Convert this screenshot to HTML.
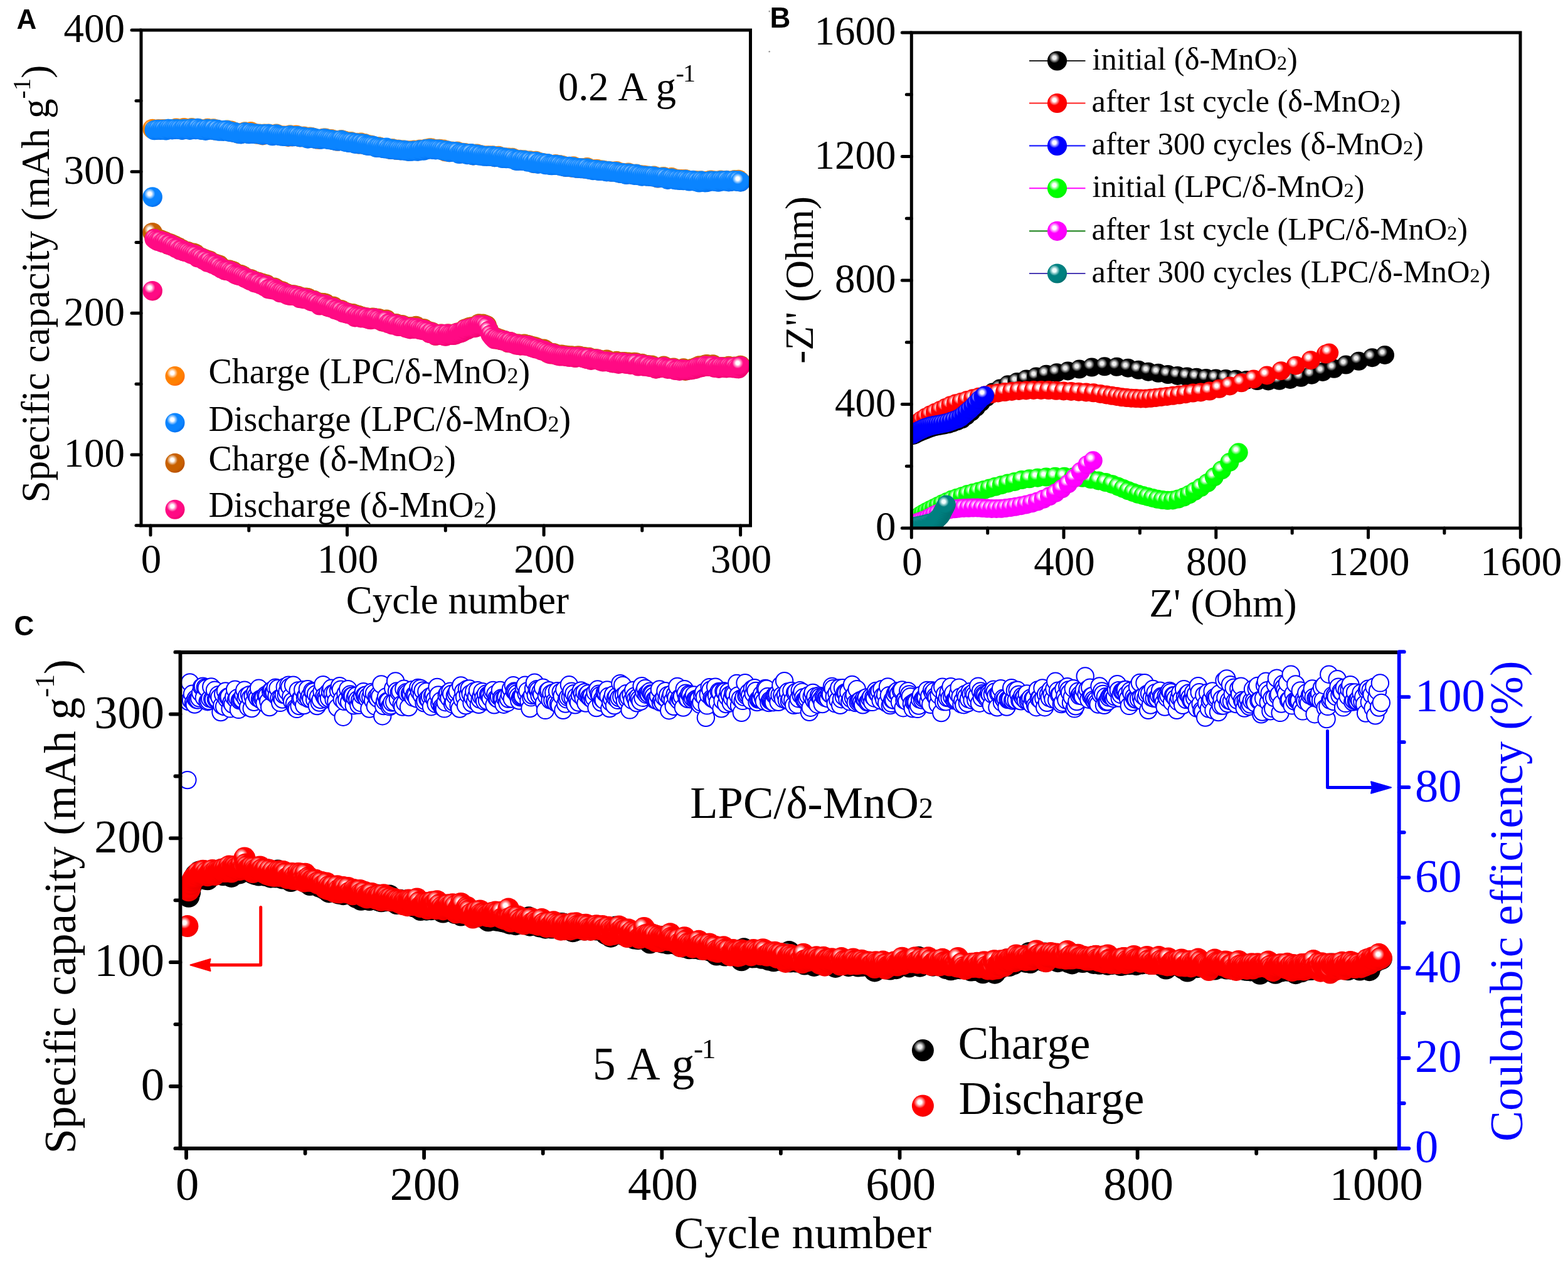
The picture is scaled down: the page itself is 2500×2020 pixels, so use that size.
<!DOCTYPE html><html><head><meta charset="utf-8"><title>Figure</title><style>html,body{margin:0;padding:0;background:#fff;}svg{display:block;}</style></head><body><svg width="2500" height="2020" viewBox="0 0 2500 2020" font-family="'Liberation Serif', 'Times New Roman', serif" style="font-kerning:none"><rect width="2500" height="2020" fill="#fff"/><defs><radialGradient id="gOr" cx="0.36" cy="0.34" r="0.68" fx="0.36" fy="0.34"><stop offset="0" stop-color="#ffffff"/><stop offset="0.13" stop-color="#ffffff"/><stop offset="0.41" stop-color="#ff8000"/><stop offset="0.80" stop-color="#ff8000"/><stop offset="1" stop-color="#ff6a00"/></radialGradient><radialGradient id="gBl" cx="0.36" cy="0.34" r="0.68" fx="0.36" fy="0.34"><stop offset="0" stop-color="#ffffff"/><stop offset="0.13" stop-color="#ffffff"/><stop offset="0.41" stop-color="#0a84ff"/><stop offset="0.80" stop-color="#0a84ff"/><stop offset="1" stop-color="#0070f0"/></radialGradient><radialGradient id="gBr" cx="0.36" cy="0.34" r="0.68" fx="0.36" fy="0.34"><stop offset="0" stop-color="#ffffff"/><stop offset="0.13" stop-color="#ffffff"/><stop offset="0.41" stop-color="#c86000"/><stop offset="0.80" stop-color="#c86000"/><stop offset="1" stop-color="#b85000"/></radialGradient><radialGradient id="gPk" cx="0.36" cy="0.34" r="0.68" fx="0.36" fy="0.34"><stop offset="0" stop-color="#ffffff"/><stop offset="0.13" stop-color="#ffffff"/><stop offset="0.41" stop-color="#ff0a84"/><stop offset="0.80" stop-color="#ff0a84"/><stop offset="1" stop-color="#f00070"/></radialGradient><radialGradient id="gK" cx="0.36" cy="0.34" r="0.68" fx="0.36" fy="0.34"><stop offset="0" stop-color="#f0f0f0"/><stop offset="0.13" stop-color="#f0f0f0"/><stop offset="0.41" stop-color="#000000"/><stop offset="0.80" stop-color="#000000"/><stop offset="1" stop-color="#000000"/></radialGradient><radialGradient id="gR" cx="0.36" cy="0.34" r="0.68" fx="0.36" fy="0.34"><stop offset="0" stop-color="#ffffff"/><stop offset="0.13" stop-color="#ffffff"/><stop offset="0.41" stop-color="#ff0000"/><stop offset="0.80" stop-color="#ff0000"/><stop offset="1" stop-color="#f00000"/></radialGradient><radialGradient id="gB" cx="0.36" cy="0.34" r="0.68" fx="0.36" fy="0.34"><stop offset="0" stop-color="#ffffff"/><stop offset="0.13" stop-color="#ffffff"/><stop offset="0.41" stop-color="#0000ff"/><stop offset="0.80" stop-color="#0000ff"/><stop offset="1" stop-color="#0000f0"/></radialGradient><radialGradient id="gG" cx="0.36" cy="0.34" r="0.68" fx="0.36" fy="0.34"><stop offset="0" stop-color="#ffffff"/><stop offset="0.13" stop-color="#ffffff"/><stop offset="0.41" stop-color="#00ff00"/><stop offset="0.80" stop-color="#00ff00"/><stop offset="1" stop-color="#00f000"/></radialGradient><radialGradient id="gM" cx="0.36" cy="0.34" r="0.68" fx="0.36" fy="0.34"><stop offset="0" stop-color="#ffffff"/><stop offset="0.13" stop-color="#ffffff"/><stop offset="0.41" stop-color="#ff00ff"/><stop offset="0.80" stop-color="#ff00ff"/><stop offset="1" stop-color="#f000f0"/></radialGradient><radialGradient id="gT" cx="0.36" cy="0.34" r="0.68" fx="0.36" fy="0.34"><stop offset="0" stop-color="#f0ffff"/><stop offset="0.13" stop-color="#f0ffff"/><stop offset="0.41" stop-color="#008080"/><stop offset="0.80" stop-color="#008080"/><stop offset="1" stop-color="#007070"/></radialGradient><clipPath id="clipA"><rect x="225" y="48" width="971.5" height="790"/></clipPath><clipPath id="clipB"><rect x="1453.3" y="52" width="970.7" height="790"/></clipPath><clipPath id="clipC"><rect x="287.5" y="1040" width="1943.1999999999998" height="791"/></clipPath></defs><g clip-path="url(#clipA)"><g fill="url(#gOr)"><circle cx="243.1" cy="205.5" r="15.8"/><circle cx="246.3" cy="207" r="15.8"/><circle cx="249.4" cy="207.1" r="15.8"/><circle cx="252.5" cy="205.8" r="15.8"/><circle cx="255.7" cy="206.3" r="15.8"/><circle cx="258.8" cy="206.1" r="15.8"/><circle cx="261.9" cy="205.9" r="15.8"/><circle cx="265.1" cy="206.6" r="15.8"/><circle cx="268.2" cy="205.5" r="15.8"/><circle cx="271.4" cy="205.8" r="15.8"/><circle cx="274.5" cy="206.3" r="15.8"/><circle cx="277.6" cy="206.2" r="15.8"/><circle cx="280.8" cy="204.4" r="15.8"/><circle cx="283.9" cy="205.5" r="15.8"/><circle cx="287" cy="206" r="15.8"/><circle cx="290.2" cy="206.8" r="15.8"/><circle cx="293.3" cy="203.7" r="15.8"/><circle cx="296.4" cy="205.6" r="15.8"/><circle cx="299.6" cy="205.6" r="15.8"/><circle cx="302.7" cy="206.5" r="15.8"/><circle cx="305.8" cy="203.9" r="15.8"/><circle cx="309" cy="205.3" r="15.8"/><circle cx="312.1" cy="206.2" r="15.8"/><circle cx="315.2" cy="204.5" r="15.8"/><circle cx="318.4" cy="205.4" r="15.8"/><circle cx="321.5" cy="206.8" r="15.8"/><circle cx="324.7" cy="206.7" r="15.8"/><circle cx="327.8" cy="207" r="15.8"/><circle cx="330.9" cy="204.6" r="15.8"/><circle cx="334.1" cy="206.2" r="15.8"/><circle cx="337.2" cy="206.6" r="15.8"/><circle cx="340.3" cy="205" r="15.8"/><circle cx="343.5" cy="207.8" r="15.8"/><circle cx="346.6" cy="206.6" r="15.8"/><circle cx="349.7" cy="208.3" r="15.8"/><circle cx="352.9" cy="208.4" r="15.8"/><circle cx="356" cy="208.5" r="15.8"/><circle cx="359.1" cy="207.7" r="15.8"/><circle cx="362.3" cy="207.4" r="15.8"/><circle cx="365.4" cy="209.6" r="15.8"/><circle cx="368.5" cy="208.3" r="15.8"/><circle cx="371.7" cy="210.9" r="15.8"/><circle cx="374.8" cy="210.9" r="15.8"/><circle cx="378" cy="212" r="15.8"/><circle cx="381.1" cy="213.3" r="15.8"/><circle cx="384.2" cy="213.4" r="15.8"/><circle cx="387.4" cy="211.4" r="15.8"/><circle cx="390.5" cy="210" r="15.8"/><circle cx="393.6" cy="211.4" r="15.8"/><circle cx="396.8" cy="213.2" r="15.8"/><circle cx="399.9" cy="209.9" r="15.8"/><circle cx="403" cy="211.7" r="15.8"/><circle cx="406.2" cy="212.9" r="15.8"/><circle cx="409.3" cy="213.9" r="15.8"/><circle cx="412.4" cy="213.3" r="15.8"/><circle cx="415.6" cy="213.5" r="15.8"/><circle cx="418.7" cy="215.6" r="15.8"/><circle cx="421.8" cy="213.2" r="15.8"/><circle cx="425" cy="214" r="15.8"/><circle cx="428.1" cy="213.4" r="15.8"/><circle cx="431.3" cy="214.2" r="15.8"/><circle cx="434.4" cy="215.4" r="15.8"/><circle cx="437.5" cy="214.9" r="15.8"/><circle cx="440.7" cy="213.4" r="15.8"/><circle cx="443.8" cy="215.6" r="15.8"/><circle cx="446.9" cy="216.3" r="15.8"/><circle cx="450.1" cy="216.4" r="15.8"/><circle cx="453.2" cy="216.3" r="15.8"/><circle cx="456.3" cy="216.5" r="15.8"/><circle cx="459.5" cy="218.2" r="15.8"/><circle cx="462.6" cy="215" r="15.8"/><circle cx="465.7" cy="217.7" r="15.8"/><circle cx="468.9" cy="216.9" r="15.8"/><circle cx="472" cy="215.3" r="15.8"/><circle cx="475.1" cy="216.4" r="15.8"/><circle cx="478.3" cy="218.5" r="15.8"/><circle cx="481.4" cy="218.5" r="15.8"/><circle cx="484.6" cy="217.3" r="15.8"/><circle cx="487.7" cy="218.8" r="15.8"/><circle cx="490.8" cy="220.1" r="15.8"/><circle cx="494" cy="218.3" r="15.8"/><circle cx="497.1" cy="218.9" r="15.8"/><circle cx="500.2" cy="219.7" r="15.8"/><circle cx="503.4" cy="221.3" r="15.8"/><circle cx="506.5" cy="222" r="15.8"/><circle cx="509.6" cy="221.9" r="15.8"/><circle cx="512.8" cy="221.3" r="15.8"/><circle cx="515.9" cy="220.4" r="15.8"/><circle cx="519" cy="220.3" r="15.8"/><circle cx="522.2" cy="221.5" r="15.8"/><circle cx="525.3" cy="221.8" r="15.8"/><circle cx="528.4" cy="221.8" r="15.8"/><circle cx="531.6" cy="223.4" r="15.8"/><circle cx="534.7" cy="223.6" r="15.8"/><circle cx="537.9" cy="225" r="15.8"/><circle cx="541" cy="223.7" r="15.8"/><circle cx="544.1" cy="222.7" r="15.8"/><circle cx="547.3" cy="223.9" r="15.8"/><circle cx="550.4" cy="224.8" r="15.8"/><circle cx="553.5" cy="225.5" r="15.8"/><circle cx="556.7" cy="226.8" r="15.8"/><circle cx="559.8" cy="225.9" r="15.8"/><circle cx="562.9" cy="227.3" r="15.8"/><circle cx="566.1" cy="228.4" r="15.8"/><circle cx="569.2" cy="227.6" r="15.8"/><circle cx="572.3" cy="229.8" r="15.8"/><circle cx="575.5" cy="227.4" r="15.8"/><circle cx="578.6" cy="229.9" r="15.8"/><circle cx="581.7" cy="228.7" r="15.8"/><circle cx="584.9" cy="231.5" r="15.8"/><circle cx="588" cy="231.3" r="15.8"/><circle cx="591.2" cy="231.3" r="15.8"/><circle cx="594.3" cy="232.2" r="15.8"/><circle cx="597.4" cy="233.5" r="15.8"/><circle cx="600.6" cy="234.8" r="15.8"/><circle cx="603.7" cy="233.7" r="15.8"/><circle cx="606.8" cy="234.9" r="15.8"/><circle cx="610" cy="235.8" r="15.8"/><circle cx="613.1" cy="235.9" r="15.8"/><circle cx="616.2" cy="235.9" r="15.8"/><circle cx="619.4" cy="237.2" r="15.8"/><circle cx="622.5" cy="238.3" r="15.8"/><circle cx="625.6" cy="236.8" r="15.8"/><circle cx="628.8" cy="238.2" r="15.8"/><circle cx="631.9" cy="239" r="15.8"/><circle cx="635" cy="238.3" r="15.8"/><circle cx="638.2" cy="239.5" r="15.8"/><circle cx="641.3" cy="239.2" r="15.8"/><circle cx="644.5" cy="239.3" r="15.8"/><circle cx="647.6" cy="239.9" r="15.8"/><circle cx="650.7" cy="240.9" r="15.8"/><circle cx="653.9" cy="240" r="15.8"/><circle cx="657" cy="240.5" r="15.8"/><circle cx="660.1" cy="239.4" r="15.8"/><circle cx="663.3" cy="240" r="15.8"/><circle cx="666.4" cy="240.7" r="15.8"/><circle cx="669.5" cy="238.2" r="15.8"/><circle cx="672.7" cy="239" r="15.8"/><circle cx="675.8" cy="239.2" r="15.8"/><circle cx="678.9" cy="237.3" r="15.8"/><circle cx="682.1" cy="237.9" r="15.8"/><circle cx="685.2" cy="236.1" r="15.8"/><circle cx="688.3" cy="236.2" r="15.8"/><circle cx="691.5" cy="238.1" r="15.8"/><circle cx="694.6" cy="237.8" r="15.8"/><circle cx="697.8" cy="237.9" r="15.8"/><circle cx="700.9" cy="237.6" r="15.8"/><circle cx="704" cy="238.6" r="15.8"/><circle cx="707.2" cy="238.4" r="15.8"/><circle cx="710.3" cy="241.8" r="15.8"/><circle cx="713.4" cy="240.2" r="15.8"/><circle cx="716.6" cy="242.4" r="15.8"/><circle cx="719.7" cy="241.4" r="15.8"/><circle cx="722.8" cy="241.6" r="15.8"/><circle cx="726" cy="241.8" r="15.8"/><circle cx="729.1" cy="241.3" r="15.8"/><circle cx="732.2" cy="243.9" r="15.8"/><circle cx="735.4" cy="244.7" r="15.8"/><circle cx="738.5" cy="243.6" r="15.8"/><circle cx="741.6" cy="243.8" r="15.8"/><circle cx="744.8" cy="245.8" r="15.8"/><circle cx="747.9" cy="245.2" r="15.8"/><circle cx="751.1" cy="244.8" r="15.8"/><circle cx="754.2" cy="247.6" r="15.8"/><circle cx="757.3" cy="245.5" r="15.8"/><circle cx="760.5" cy="245.2" r="15.8"/><circle cx="763.6" cy="247.3" r="15.8"/><circle cx="766.7" cy="247" r="15.8"/><circle cx="769.9" cy="248.1" r="15.8"/><circle cx="773" cy="248.4" r="15.8"/><circle cx="776.1" cy="248.3" r="15.8"/><circle cx="779.3" cy="248" r="15.8"/><circle cx="782.4" cy="248.8" r="15.8"/><circle cx="785.5" cy="248" r="15.8"/><circle cx="788.7" cy="250.4" r="15.8"/><circle cx="791.8" cy="249.2" r="15.8"/><circle cx="794.9" cy="248.6" r="15.8"/><circle cx="798.1" cy="250.4" r="15.8"/><circle cx="801.2" cy="251.5" r="15.8"/><circle cx="804.4" cy="251.1" r="15.8"/><circle cx="807.5" cy="251.5" r="15.8"/><circle cx="810.6" cy="251.4" r="15.8"/><circle cx="813.8" cy="252.4" r="15.8"/><circle cx="816.9" cy="251.6" r="15.8"/><circle cx="820" cy="253.6" r="15.8"/><circle cx="823.2" cy="255.8" r="15.8"/><circle cx="826.3" cy="255.9" r="15.8"/><circle cx="829.4" cy="254.5" r="15.8"/><circle cx="832.6" cy="255.8" r="15.8"/><circle cx="835.7" cy="255" r="15.8"/><circle cx="838.8" cy="256.5" r="15.8"/><circle cx="842" cy="257.1" r="15.8"/><circle cx="845.1" cy="256" r="15.8"/><circle cx="848.2" cy="258.6" r="15.8"/><circle cx="851.4" cy="260.4" r="15.8"/><circle cx="854.5" cy="256.6" r="15.8"/><circle cx="857.7" cy="260" r="15.8"/><circle cx="860.8" cy="259" r="15.8"/><circle cx="863.9" cy="259.7" r="15.8"/><circle cx="867.1" cy="260" r="15.8"/><circle cx="870.2" cy="261.3" r="15.8"/><circle cx="873.3" cy="261.1" r="15.8"/><circle cx="876.5" cy="262.4" r="15.8"/><circle cx="879.6" cy="263.1" r="15.8"/><circle cx="882.7" cy="263" r="15.8"/><circle cx="885.9" cy="261.8" r="15.8"/><circle cx="889" cy="263.4" r="15.8"/><circle cx="892.1" cy="262.7" r="15.8"/><circle cx="895.3" cy="263.6" r="15.8"/><circle cx="898.4" cy="264.3" r="15.8"/><circle cx="901.5" cy="266" r="15.8"/><circle cx="904.7" cy="266.1" r="15.8"/><circle cx="907.8" cy="265.6" r="15.8"/><circle cx="911" cy="266.9" r="15.8"/><circle cx="914.1" cy="265.1" r="15.8"/><circle cx="917.2" cy="267.2" r="15.8"/><circle cx="920.4" cy="268" r="15.8"/><circle cx="923.5" cy="268" r="15.8"/><circle cx="926.6" cy="268.4" r="15.8"/><circle cx="929.8" cy="267.8" r="15.8"/><circle cx="932.9" cy="269" r="15.8"/><circle cx="936" cy="266.8" r="15.8"/><circle cx="939.2" cy="269.8" r="15.8"/><circle cx="942.3" cy="270.2" r="15.8"/><circle cx="945.4" cy="270.7" r="15.8"/><circle cx="948.6" cy="269.7" r="15.8"/><circle cx="951.7" cy="269.6" r="15.8"/><circle cx="954.8" cy="271.9" r="15.8"/><circle cx="958" cy="271.4" r="15.8"/><circle cx="961.1" cy="271.2" r="15.8"/><circle cx="964.3" cy="272.1" r="15.8"/><circle cx="967.4" cy="272.9" r="15.8"/><circle cx="970.5" cy="272.6" r="15.8"/><circle cx="973.7" cy="273.8" r="15.8"/><circle cx="976.8" cy="273.3" r="15.8"/><circle cx="979.9" cy="273.7" r="15.8"/><circle cx="983.1" cy="272.9" r="15.8"/><circle cx="986.2" cy="275.1" r="15.8"/><circle cx="989.3" cy="276.1" r="15.8"/><circle cx="992.5" cy="275.5" r="15.8"/><circle cx="995.6" cy="276.3" r="15.8"/><circle cx="998.7" cy="277.8" r="15.8"/><circle cx="1001.9" cy="275.2" r="15.8"/><circle cx="1005" cy="277.6" r="15.8"/><circle cx="1008.1" cy="277.6" r="15.8"/><circle cx="1011.3" cy="278.5" r="15.8"/><circle cx="1014.4" cy="277.2" r="15.8"/><circle cx="1017.6" cy="278.9" r="15.8"/><circle cx="1020.7" cy="278.7" r="15.8"/><circle cx="1023.8" cy="280.4" r="15.8"/><circle cx="1027" cy="279.3" r="15.8"/><circle cx="1030.1" cy="280.5" r="15.8"/><circle cx="1033.2" cy="280.4" r="15.8"/><circle cx="1036.4" cy="280.7" r="15.8"/><circle cx="1039.5" cy="281.5" r="15.8"/><circle cx="1042.6" cy="280.3" r="15.8"/><circle cx="1045.8" cy="281.9" r="15.8"/><circle cx="1048.9" cy="283.8" r="15.8"/><circle cx="1052" cy="283" r="15.8"/><circle cx="1055.2" cy="282.3" r="15.8"/><circle cx="1058.3" cy="281.9" r="15.8"/><circle cx="1061.4" cy="283.4" r="15.8"/><circle cx="1064.6" cy="285.6" r="15.8"/><circle cx="1067.7" cy="284.9" r="15.8"/><circle cx="1070.9" cy="282.7" r="15.8"/><circle cx="1074" cy="285.1" r="15.8"/><circle cx="1077.1" cy="285.7" r="15.8"/><circle cx="1080.3" cy="285.5" r="15.8"/><circle cx="1083.4" cy="286.4" r="15.8"/><circle cx="1086.5" cy="285.9" r="15.8"/><circle cx="1089.7" cy="287.1" r="15.8"/><circle cx="1092.8" cy="285.7" r="15.8"/><circle cx="1095.9" cy="287" r="15.8"/><circle cx="1099.1" cy="287.6" r="15.8"/><circle cx="1102.2" cy="287.7" r="15.8"/><circle cx="1105.3" cy="287.6" r="15.8"/><circle cx="1108.5" cy="288.4" r="15.8"/><circle cx="1111.6" cy="288.1" r="15.8"/><circle cx="1114.7" cy="290.2" r="15.8"/><circle cx="1117.9" cy="288.1" r="15.8"/><circle cx="1121" cy="289" r="15.8"/><circle cx="1124.2" cy="290.3" r="15.8"/><circle cx="1127.3" cy="288.9" r="15.8"/><circle cx="1130.4" cy="288.1" r="15.8"/><circle cx="1133.6" cy="287.2" r="15.8"/><circle cx="1136.7" cy="288.2" r="15.8"/><circle cx="1139.8" cy="288.2" r="15.8"/><circle cx="1143" cy="288.6" r="15.8"/><circle cx="1146.1" cy="288.5" r="15.8"/><circle cx="1149.2" cy="287.3" r="15.8"/><circle cx="1152.4" cy="287.9" r="15.8"/><circle cx="1155.5" cy="287.8" r="15.8"/><circle cx="1158.6" cy="287.5" r="15.8"/><circle cx="1161.8" cy="288.8" r="15.8"/><circle cx="1164.9" cy="289.1" r="15.8"/><circle cx="1168" cy="288.1" r="15.8"/><circle cx="1171.2" cy="286.9" r="15.8"/><circle cx="1174.3" cy="288.5" r="15.8"/><circle cx="1177.5" cy="286.6" r="15.8"/><circle cx="1180.6" cy="289.5" r="15.8"/></g><g fill="url(#gBl)"><circle cx="243.1" cy="314.1" r="15.8"/><circle cx="246.3" cy="207.5" r="15.8"/><circle cx="249.4" cy="206.9" r="15.8"/><circle cx="252.5" cy="206.5" r="15.8"/><circle cx="255.7" cy="207.3" r="15.8"/><circle cx="258.8" cy="206.6" r="15.8"/><circle cx="261.9" cy="206.5" r="15.8"/><circle cx="265.1" cy="207.7" r="15.8"/><circle cx="268.2" cy="205.5" r="15.8"/><circle cx="271.4" cy="205.7" r="15.8"/><circle cx="274.5" cy="206.6" r="15.8"/><circle cx="277.6" cy="206.2" r="15.8"/><circle cx="280.8" cy="205.6" r="15.8"/><circle cx="283.9" cy="206.2" r="15.8"/><circle cx="287" cy="206.2" r="15.8"/><circle cx="290.2" cy="207.1" r="15.8"/><circle cx="293.3" cy="205.5" r="15.8"/><circle cx="296.4" cy="205.9" r="15.8"/><circle cx="299.6" cy="205.8" r="15.8"/><circle cx="302.7" cy="207.2" r="15.8"/><circle cx="305.8" cy="204.7" r="15.8"/><circle cx="309" cy="205.9" r="15.8"/><circle cx="312.1" cy="206.4" r="15.8"/><circle cx="315.2" cy="204.5" r="15.8"/><circle cx="318.4" cy="206.2" r="15.8"/><circle cx="321.5" cy="207.3" r="15.8"/><circle cx="324.7" cy="206.6" r="15.8"/><circle cx="327.8" cy="208.1" r="15.8"/><circle cx="330.9" cy="205.5" r="15.8"/><circle cx="334.1" cy="206.7" r="15.8"/><circle cx="337.2" cy="207" r="15.8"/><circle cx="340.3" cy="205.7" r="15.8"/><circle cx="343.5" cy="208" r="15.8"/><circle cx="346.6" cy="206.6" r="15.8"/><circle cx="349.7" cy="209" r="15.8"/><circle cx="352.9" cy="208.3" r="15.8"/><circle cx="356" cy="209.2" r="15.8"/><circle cx="359.1" cy="207.6" r="15.8"/><circle cx="362.3" cy="207.9" r="15.8"/><circle cx="365.4" cy="210.1" r="15.8"/><circle cx="368.5" cy="209.7" r="15.8"/><circle cx="371.7" cy="211" r="15.8"/><circle cx="374.8" cy="210.8" r="15.8"/><circle cx="378" cy="212.3" r="15.8"/><circle cx="381.1" cy="213.4" r="15.8"/><circle cx="384.2" cy="213.7" r="15.8"/><circle cx="387.4" cy="212.2" r="15.8"/><circle cx="390.5" cy="210.9" r="15.8"/><circle cx="393.6" cy="212.7" r="15.8"/><circle cx="396.8" cy="213.5" r="15.8"/><circle cx="399.9" cy="211.7" r="15.8"/><circle cx="403" cy="213.1" r="15.8"/><circle cx="406.2" cy="213.4" r="15.8"/><circle cx="409.3" cy="213.4" r="15.8"/><circle cx="412.4" cy="213.9" r="15.8"/><circle cx="415.6" cy="214.1" r="15.8"/><circle cx="418.7" cy="215.2" r="15.8"/><circle cx="421.8" cy="213.8" r="15.8"/><circle cx="425" cy="214.4" r="15.8"/><circle cx="428.1" cy="213.6" r="15.8"/><circle cx="431.3" cy="215" r="15.8"/><circle cx="434.4" cy="216.5" r="15.8"/><circle cx="437.5" cy="215.2" r="15.8"/><circle cx="440.7" cy="214" r="15.8"/><circle cx="443.8" cy="215.9" r="15.8"/><circle cx="446.9" cy="216.5" r="15.8"/><circle cx="450.1" cy="217" r="15.8"/><circle cx="453.2" cy="217.1" r="15.8"/><circle cx="456.3" cy="216.8" r="15.8"/><circle cx="459.5" cy="217.7" r="15.8"/><circle cx="462.6" cy="215.9" r="15.8"/><circle cx="465.7" cy="217.5" r="15.8"/><circle cx="468.9" cy="217.5" r="15.8"/><circle cx="472" cy="216.7" r="15.8"/><circle cx="475.1" cy="216.9" r="15.8"/><circle cx="478.3" cy="218.6" r="15.8"/><circle cx="481.4" cy="218.4" r="15.8"/><circle cx="484.6" cy="218.4" r="15.8"/><circle cx="487.7" cy="219.4" r="15.8"/><circle cx="490.8" cy="220.9" r="15.8"/><circle cx="494" cy="219.3" r="15.8"/><circle cx="497.1" cy="219.4" r="15.8"/><circle cx="500.2" cy="220.1" r="15.8"/><circle cx="503.4" cy="221.4" r="15.8"/><circle cx="506.5" cy="221.2" r="15.8"/><circle cx="509.6" cy="221.8" r="15.8"/><circle cx="512.8" cy="221.9" r="15.8"/><circle cx="515.9" cy="220.9" r="15.8"/><circle cx="519" cy="221" r="15.8"/><circle cx="522.2" cy="222" r="15.8"/><circle cx="525.3" cy="222.5" r="15.8"/><circle cx="528.4" cy="222.7" r="15.8"/><circle cx="531.6" cy="223.6" r="15.8"/><circle cx="534.7" cy="224" r="15.8"/><circle cx="537.9" cy="224.8" r="15.8"/><circle cx="541" cy="224.7" r="15.8"/><circle cx="544.1" cy="223.2" r="15.8"/><circle cx="547.3" cy="224.7" r="15.8"/><circle cx="550.4" cy="226.1" r="15.8"/><circle cx="553.5" cy="226.6" r="15.8"/><circle cx="556.7" cy="227.3" r="15.8"/><circle cx="559.8" cy="226.8" r="15.8"/><circle cx="562.9" cy="227.3" r="15.8"/><circle cx="566.1" cy="229.2" r="15.8"/><circle cx="569.2" cy="228.2" r="15.8"/><circle cx="572.3" cy="229.6" r="15.8"/><circle cx="575.5" cy="228.6" r="15.8"/><circle cx="578.6" cy="230.2" r="15.8"/><circle cx="581.7" cy="229.5" r="15.8"/><circle cx="584.9" cy="231.8" r="15.8"/><circle cx="588" cy="232.3" r="15.8"/><circle cx="591.2" cy="232.4" r="15.8"/><circle cx="594.3" cy="232.4" r="15.8"/><circle cx="597.4" cy="233.3" r="15.8"/><circle cx="600.6" cy="235.3" r="15.8"/><circle cx="603.7" cy="234.7" r="15.8"/><circle cx="606.8" cy="235.3" r="15.8"/><circle cx="610" cy="236.1" r="15.8"/><circle cx="613.1" cy="236.7" r="15.8"/><circle cx="616.2" cy="235.3" r="15.8"/><circle cx="619.4" cy="237.4" r="15.8"/><circle cx="622.5" cy="238.2" r="15.8"/><circle cx="625.6" cy="237.5" r="15.8"/><circle cx="628.8" cy="238.4" r="15.8"/><circle cx="631.9" cy="239" r="15.8"/><circle cx="635" cy="238.7" r="15.8"/><circle cx="638.2" cy="239.4" r="15.8"/><circle cx="641.3" cy="239.8" r="15.8"/><circle cx="644.5" cy="239.6" r="15.8"/><circle cx="647.6" cy="240.3" r="15.8"/><circle cx="650.7" cy="241.2" r="15.8"/><circle cx="653.9" cy="241" r="15.8"/><circle cx="657" cy="241" r="15.8"/><circle cx="660.1" cy="240.2" r="15.8"/><circle cx="663.3" cy="240.8" r="15.8"/><circle cx="666.4" cy="240.9" r="15.8"/><circle cx="669.5" cy="239" r="15.8"/><circle cx="672.7" cy="239.7" r="15.8"/><circle cx="675.8" cy="239.9" r="15.8"/><circle cx="678.9" cy="237.7" r="15.8"/><circle cx="682.1" cy="238.2" r="15.8"/><circle cx="685.2" cy="237" r="15.8"/><circle cx="688.3" cy="237.8" r="15.8"/><circle cx="691.5" cy="238.3" r="15.8"/><circle cx="694.6" cy="238.6" r="15.8"/><circle cx="697.8" cy="238.3" r="15.8"/><circle cx="700.9" cy="238.5" r="15.8"/><circle cx="704" cy="239.4" r="15.8"/><circle cx="707.2" cy="239.5" r="15.8"/><circle cx="710.3" cy="241.1" r="15.8"/><circle cx="713.4" cy="240.4" r="15.8"/><circle cx="716.6" cy="242.5" r="15.8"/><circle cx="719.7" cy="241.9" r="15.8"/><circle cx="722.8" cy="241.8" r="15.8"/><circle cx="726" cy="242.1" r="15.8"/><circle cx="729.1" cy="242.2" r="15.8"/><circle cx="732.2" cy="245.3" r="15.8"/><circle cx="735.4" cy="243.9" r="15.8"/><circle cx="738.5" cy="244" r="15.8"/><circle cx="741.6" cy="244.5" r="15.8"/><circle cx="744.8" cy="246.4" r="15.8"/><circle cx="747.9" cy="245.6" r="15.8"/><circle cx="751.1" cy="244.8" r="15.8"/><circle cx="754.2" cy="247.7" r="15.8"/><circle cx="757.3" cy="246.4" r="15.8"/><circle cx="760.5" cy="246.2" r="15.8"/><circle cx="763.6" cy="247.9" r="15.8"/><circle cx="766.7" cy="247.2" r="15.8"/><circle cx="769.9" cy="248.8" r="15.8"/><circle cx="773" cy="248.8" r="15.8"/><circle cx="776.1" cy="249.1" r="15.8"/><circle cx="779.3" cy="248.6" r="15.8"/><circle cx="782.4" cy="249.1" r="15.8"/><circle cx="785.5" cy="248.6" r="15.8"/><circle cx="788.7" cy="250.4" r="15.8"/><circle cx="791.8" cy="250.2" r="15.8"/><circle cx="794.9" cy="249.7" r="15.8"/><circle cx="798.1" cy="250.4" r="15.8"/><circle cx="801.2" cy="252.3" r="15.8"/><circle cx="804.4" cy="251.2" r="15.8"/><circle cx="807.5" cy="252.5" r="15.8"/><circle cx="810.6" cy="252.3" r="15.8"/><circle cx="813.8" cy="252.9" r="15.8"/><circle cx="816.9" cy="252.6" r="15.8"/><circle cx="820" cy="254" r="15.8"/><circle cx="823.2" cy="256.1" r="15.8"/><circle cx="826.3" cy="256.2" r="15.8"/><circle cx="829.4" cy="255" r="15.8"/><circle cx="832.6" cy="256.3" r="15.8"/><circle cx="835.7" cy="255.6" r="15.8"/><circle cx="838.8" cy="256.8" r="15.8"/><circle cx="842" cy="258" r="15.8"/><circle cx="845.1" cy="257" r="15.8"/><circle cx="848.2" cy="258.9" r="15.8"/><circle cx="851.4" cy="260.3" r="15.8"/><circle cx="854.5" cy="257.5" r="15.8"/><circle cx="857.7" cy="261.1" r="15.8"/><circle cx="860.8" cy="259.5" r="15.8"/><circle cx="863.9" cy="259.6" r="15.8"/><circle cx="867.1" cy="260.7" r="15.8"/><circle cx="870.2" cy="262.5" r="15.8"/><circle cx="873.3" cy="260.8" r="15.8"/><circle cx="876.5" cy="263.2" r="15.8"/><circle cx="879.6" cy="263.5" r="15.8"/><circle cx="882.7" cy="263.1" r="15.8"/><circle cx="885.9" cy="262.6" r="15.8"/><circle cx="889" cy="263.4" r="15.8"/><circle cx="892.1" cy="263.4" r="15.8"/><circle cx="895.3" cy="264.8" r="15.8"/><circle cx="898.4" cy="265" r="15.8"/><circle cx="901.5" cy="266.1" r="15.8"/><circle cx="904.7" cy="265.9" r="15.8"/><circle cx="907.8" cy="265.6" r="15.8"/><circle cx="911" cy="266.7" r="15.8"/><circle cx="914.1" cy="266.4" r="15.8"/><circle cx="917.2" cy="267.6" r="15.8"/><circle cx="920.4" cy="268" r="15.8"/><circle cx="923.5" cy="267.9" r="15.8"/><circle cx="926.6" cy="268.5" r="15.8"/><circle cx="929.8" cy="268.3" r="15.8"/><circle cx="932.9" cy="269" r="15.8"/><circle cx="936" cy="268.1" r="15.8"/><circle cx="939.2" cy="270" r="15.8"/><circle cx="942.3" cy="270.4" r="15.8"/><circle cx="945.4" cy="271.4" r="15.8"/><circle cx="948.6" cy="270.9" r="15.8"/><circle cx="951.7" cy="270.8" r="15.8"/><circle cx="954.8" cy="272.3" r="15.8"/><circle cx="958" cy="272.1" r="15.8"/><circle cx="961.1" cy="271.9" r="15.8"/><circle cx="964.3" cy="272.9" r="15.8"/><circle cx="967.4" cy="273.6" r="15.8"/><circle cx="970.5" cy="272.8" r="15.8"/><circle cx="973.7" cy="273.8" r="15.8"/><circle cx="976.8" cy="274" r="15.8"/><circle cx="979.9" cy="273.7" r="15.8"/><circle cx="983.1" cy="274.1" r="15.8"/><circle cx="986.2" cy="275.7" r="15.8"/><circle cx="989.3" cy="276.2" r="15.8"/><circle cx="992.5" cy="275.9" r="15.8"/><circle cx="995.6" cy="276.6" r="15.8"/><circle cx="998.7" cy="278.3" r="15.8"/><circle cx="1001.9" cy="276.2" r="15.8"/><circle cx="1005" cy="277.6" r="15.8"/><circle cx="1008.1" cy="277.4" r="15.8"/><circle cx="1011.3" cy="279.2" r="15.8"/><circle cx="1014.4" cy="277.6" r="15.8"/><circle cx="1017.6" cy="279.5" r="15.8"/><circle cx="1020.7" cy="279.5" r="15.8"/><circle cx="1023.8" cy="280.9" r="15.8"/><circle cx="1027" cy="280.3" r="15.8"/><circle cx="1030.1" cy="280.7" r="15.8"/><circle cx="1033.2" cy="281" r="15.8"/><circle cx="1036.4" cy="280.9" r="15.8"/><circle cx="1039.5" cy="281.5" r="15.8"/><circle cx="1042.6" cy="281.2" r="15.8"/><circle cx="1045.8" cy="282.7" r="15.8"/><circle cx="1048.9" cy="283.5" r="15.8"/><circle cx="1052" cy="283.1" r="15.8"/><circle cx="1055.2" cy="283" r="15.8"/><circle cx="1058.3" cy="282.9" r="15.8"/><circle cx="1061.4" cy="283.7" r="15.8"/><circle cx="1064.6" cy="286.1" r="15.8"/><circle cx="1067.7" cy="284.9" r="15.8"/><circle cx="1070.9" cy="284.4" r="15.8"/><circle cx="1074" cy="285.9" r="15.8"/><circle cx="1077.1" cy="286.7" r="15.8"/><circle cx="1080.3" cy="286.4" r="15.8"/><circle cx="1083.4" cy="287.3" r="15.8"/><circle cx="1086.5" cy="286.7" r="15.8"/><circle cx="1089.7" cy="287.5" r="15.8"/><circle cx="1092.8" cy="286.6" r="15.8"/><circle cx="1095.9" cy="287.6" r="15.8"/><circle cx="1099.1" cy="288.8" r="15.8"/><circle cx="1102.2" cy="287.9" r="15.8"/><circle cx="1105.3" cy="287.9" r="15.8"/><circle cx="1108.5" cy="289.2" r="15.8"/><circle cx="1111.6" cy="289.2" r="15.8"/><circle cx="1114.7" cy="290.8" r="15.8"/><circle cx="1117.9" cy="288.3" r="15.8"/><circle cx="1121" cy="289.5" r="15.8"/><circle cx="1124.2" cy="290.7" r="15.8"/><circle cx="1127.3" cy="290.4" r="15.8"/><circle cx="1130.4" cy="289.1" r="15.8"/><circle cx="1133.6" cy="288.3" r="15.8"/><circle cx="1136.7" cy="288.9" r="15.8"/><circle cx="1139.8" cy="288.5" r="15.8"/><circle cx="1143" cy="289.7" r="15.8"/><circle cx="1146.1" cy="289.9" r="15.8"/><circle cx="1149.2" cy="288.1" r="15.8"/><circle cx="1152.4" cy="288.4" r="15.8"/><circle cx="1155.5" cy="288.8" r="15.8"/><circle cx="1158.6" cy="287.9" r="15.8"/><circle cx="1161.8" cy="289.7" r="15.8"/><circle cx="1164.9" cy="289.3" r="15.8"/><circle cx="1168" cy="288.3" r="15.8"/><circle cx="1171.2" cy="287.7" r="15.8"/><circle cx="1174.3" cy="289.2" r="15.8"/><circle cx="1177.5" cy="288" r="15.8"/><circle cx="1180.6" cy="289.9" r="15.8"/></g><g fill="url(#gBr)"><circle cx="243.1" cy="370.7" r="15.8"/><circle cx="246.3" cy="380.1" r="15.8"/><circle cx="249.4" cy="382.4" r="15.8"/><circle cx="252.5" cy="383.4" r="15.8"/><circle cx="255.7" cy="381.8" r="15.8"/><circle cx="258.8" cy="384.9" r="15.8"/><circle cx="261.9" cy="384.2" r="15.8"/><circle cx="265.1" cy="386" r="15.8"/><circle cx="268.2" cy="390.1" r="15.8"/><circle cx="271.4" cy="388.1" r="15.8"/><circle cx="274.5" cy="389.9" r="15.8"/><circle cx="277.6" cy="390.7" r="15.8"/><circle cx="280.8" cy="394.4" r="15.8"/><circle cx="283.9" cy="393.7" r="15.8"/><circle cx="287" cy="397.9" r="15.8"/><circle cx="290.2" cy="397.3" r="15.8"/><circle cx="293.3" cy="400.6" r="15.8"/><circle cx="296.4" cy="400.7" r="15.8"/><circle cx="299.6" cy="400.8" r="15.8"/><circle cx="302.7" cy="402.8" r="15.8"/><circle cx="305.8" cy="403.6" r="15.8"/><circle cx="309" cy="403.2" r="15.8"/><circle cx="312.1" cy="404.8" r="15.8"/><circle cx="315.2" cy="409.7" r="15.8"/><circle cx="318.4" cy="409.5" r="15.8"/><circle cx="321.5" cy="410.7" r="15.8"/><circle cx="324.7" cy="413.9" r="15.8"/><circle cx="327.8" cy="413.4" r="15.8"/><circle cx="330.9" cy="416.4" r="15.8"/><circle cx="334.1" cy="415.3" r="15.8"/><circle cx="337.2" cy="418.5" r="15.8"/><circle cx="340.3" cy="419.9" r="15.8"/><circle cx="343.5" cy="420.3" r="15.8"/><circle cx="346.6" cy="423.6" r="15.8"/><circle cx="349.7" cy="422.4" r="15.8"/><circle cx="352.9" cy="426" r="15.8"/><circle cx="356" cy="428.4" r="15.8"/><circle cx="359.1" cy="430.6" r="15.8"/><circle cx="362.3" cy="430.5" r="15.8"/><circle cx="365.4" cy="430" r="15.8"/><circle cx="368.5" cy="431.2" r="15.8"/><circle cx="371.7" cy="432" r="15.8"/><circle cx="374.8" cy="435.2" r="15.8"/><circle cx="378" cy="436.3" r="15.8"/><circle cx="381.1" cy="437.2" r="15.8"/><circle cx="384.2" cy="437.8" r="15.8"/><circle cx="387.4" cy="439.6" r="15.8"/><circle cx="390.5" cy="441.8" r="15.8"/><circle cx="393.6" cy="444" r="15.8"/><circle cx="396.8" cy="445" r="15.8"/><circle cx="399.9" cy="444.8" r="15.8"/><circle cx="403" cy="446.6" r="15.8"/><circle cx="406.2" cy="449.9" r="15.8"/><circle cx="409.3" cy="449" r="15.8"/><circle cx="412.4" cy="449.5" r="15.8"/><circle cx="415.6" cy="452.7" r="15.8"/><circle cx="418.7" cy="451.6" r="15.8"/><circle cx="421.8" cy="454.9" r="15.8"/><circle cx="425" cy="453.3" r="15.8"/><circle cx="428.1" cy="459.8" r="15.8"/><circle cx="431.3" cy="458.9" r="15.8"/><circle cx="434.4" cy="460.1" r="15.8"/><circle cx="437.5" cy="458.3" r="15.8"/><circle cx="440.7" cy="460.4" r="15.8"/><circle cx="443.8" cy="462.2" r="15.8"/><circle cx="446.9" cy="465.1" r="15.8"/><circle cx="450.1" cy="464.1" r="15.8"/><circle cx="453.2" cy="466.8" r="15.8"/><circle cx="456.3" cy="467.2" r="15.8"/><circle cx="459.5" cy="468.9" r="15.8"/><circle cx="462.6" cy="470.2" r="15.8"/><circle cx="465.7" cy="469.9" r="15.8"/><circle cx="468.9" cy="470" r="15.8"/><circle cx="472" cy="471.9" r="15.8"/><circle cx="475.1" cy="471.6" r="15.8"/><circle cx="478.3" cy="474.1" r="15.8"/><circle cx="481.4" cy="474" r="15.8"/><circle cx="484.6" cy="475.2" r="15.8"/><circle cx="487.7" cy="474.2" r="15.8"/><circle cx="490.8" cy="474.8" r="15.8"/><circle cx="494" cy="477.1" r="15.8"/><circle cx="497.1" cy="479.5" r="15.8"/><circle cx="500.2" cy="478.6" r="15.8"/><circle cx="503.4" cy="480.4" r="15.8"/><circle cx="506.5" cy="481.7" r="15.8"/><circle cx="509.6" cy="483.7" r="15.8"/><circle cx="512.8" cy="482.6" r="15.8"/><circle cx="515.9" cy="482.8" r="15.8"/><circle cx="519" cy="483.5" r="15.8"/><circle cx="522.2" cy="488.8" r="15.8"/><circle cx="525.3" cy="488.7" r="15.8"/><circle cx="528.4" cy="489.8" r="15.8"/><circle cx="531.6" cy="488.2" r="15.8"/><circle cx="534.7" cy="491" r="15.8"/><circle cx="537.9" cy="492.9" r="15.8"/><circle cx="541" cy="494.3" r="15.8"/><circle cx="544.1" cy="493.8" r="15.8"/><circle cx="547.3" cy="497.7" r="15.8"/><circle cx="550.4" cy="497.1" r="15.8"/><circle cx="553.5" cy="499.3" r="15.8"/><circle cx="556.7" cy="499" r="15.8"/><circle cx="559.8" cy="500.8" r="15.8"/><circle cx="562.9" cy="499.7" r="15.8"/><circle cx="566.1" cy="504.4" r="15.8"/><circle cx="569.2" cy="502" r="15.8"/><circle cx="572.3" cy="502.7" r="15.8"/><circle cx="575.5" cy="505.9" r="15.8"/><circle cx="578.6" cy="504.9" r="15.8"/><circle cx="581.7" cy="505.7" r="15.8"/><circle cx="584.9" cy="506.1" r="15.8"/><circle cx="588" cy="508.2" r="15.8"/><circle cx="591.2" cy="508.4" r="15.8"/><circle cx="594.3" cy="506.4" r="15.8"/><circle cx="597.4" cy="506.9" r="15.8"/><circle cx="600.6" cy="508.2" r="15.8"/><circle cx="603.7" cy="507.6" r="15.8"/><circle cx="606.8" cy="508.9" r="15.8"/><circle cx="610" cy="512.9" r="15.8"/><circle cx="613.1" cy="509.8" r="15.8"/><circle cx="616.2" cy="509.2" r="15.8"/><circle cx="619.4" cy="515.2" r="15.8"/><circle cx="622.5" cy="515.2" r="15.8"/><circle cx="625.6" cy="516.2" r="15.8"/><circle cx="628.8" cy="516" r="15.8"/><circle cx="631.9" cy="515.8" r="15.8"/><circle cx="635" cy="518.4" r="15.8"/><circle cx="638.2" cy="519.4" r="15.8"/><circle cx="641.3" cy="517.9" r="15.8"/><circle cx="644.5" cy="519.6" r="15.8"/><circle cx="647.6" cy="521" r="15.8"/><circle cx="650.7" cy="520.8" r="15.8"/><circle cx="653.9" cy="522" r="15.8"/><circle cx="657" cy="520.7" r="15.8"/><circle cx="660.1" cy="523" r="15.8"/><circle cx="663.3" cy="519.6" r="15.8"/><circle cx="666.4" cy="521.7" r="15.8"/><circle cx="669.5" cy="523.9" r="15.8"/><circle cx="672.7" cy="525.7" r="15.8"/><circle cx="675.8" cy="523.8" r="15.8"/><circle cx="678.9" cy="526.6" r="15.8"/><circle cx="682.1" cy="527.3" r="15.8"/><circle cx="685.2" cy="531.1" r="15.8"/><circle cx="688.3" cy="529" r="15.8"/><circle cx="691.5" cy="531.4" r="15.8"/><circle cx="694.6" cy="535" r="15.8"/><circle cx="697.8" cy="533.6" r="15.8"/><circle cx="700.9" cy="532.6" r="15.8"/><circle cx="704" cy="532.2" r="15.8"/><circle cx="707.2" cy="534.9" r="15.8"/><circle cx="710.3" cy="535.5" r="15.8"/><circle cx="713.4" cy="532.2" r="15.8"/><circle cx="716.6" cy="532.3" r="15.8"/><circle cx="719.7" cy="533.5" r="15.8"/><circle cx="722.8" cy="532.5" r="15.8"/><circle cx="726" cy="531.7" r="15.8"/><circle cx="729.1" cy="530.3" r="15.8"/><circle cx="732.2" cy="530.1" r="15.8"/><circle cx="735.4" cy="529.4" r="15.8"/><circle cx="738.5" cy="528.3" r="15.8"/><circle cx="741.6" cy="524" r="15.8"/><circle cx="744.8" cy="524.8" r="15.8"/><circle cx="747.9" cy="521.8" r="15.8"/><circle cx="751.1" cy="521" r="15.8"/><circle cx="754.2" cy="521.9" r="15.8"/><circle cx="757.3" cy="521.6" r="15.8"/><circle cx="760.5" cy="518.5" r="15.8"/><circle cx="763.6" cy="516" r="15.8"/><circle cx="766.7" cy="519.4" r="15.8"/><circle cx="769.9" cy="516.4" r="15.8"/><circle cx="773" cy="517.6" r="15.8"/><circle cx="776.1" cy="518.7" r="15.8"/><circle cx="779.3" cy="526.4" r="15.8"/><circle cx="782.4" cy="532.9" r="15.8"/><circle cx="785.5" cy="536.4" r="15.8"/><circle cx="788.7" cy="538.7" r="15.8"/><circle cx="791.8" cy="538.4" r="15.8"/><circle cx="794.9" cy="541.7" r="15.8"/><circle cx="798.1" cy="540.5" r="15.8"/><circle cx="801.2" cy="542.8" r="15.8"/><circle cx="804.4" cy="542.5" r="15.8"/><circle cx="807.5" cy="544.3" r="15.8"/><circle cx="810.6" cy="546.5" r="15.8"/><circle cx="813.8" cy="544.8" r="15.8"/><circle cx="816.9" cy="546.9" r="15.8"/><circle cx="820" cy="547.6" r="15.8"/><circle cx="823.2" cy="548.7" r="15.8"/><circle cx="826.3" cy="548" r="15.8"/><circle cx="829.4" cy="550.6" r="15.8"/><circle cx="832.6" cy="549.6" r="15.8"/><circle cx="835.7" cy="548.3" r="15.8"/><circle cx="838.8" cy="549.4" r="15.8"/><circle cx="842" cy="549.7" r="15.8"/><circle cx="845.1" cy="550.7" r="15.8"/><circle cx="848.2" cy="552" r="15.8"/><circle cx="851.4" cy="552.4" r="15.8"/><circle cx="854.5" cy="553.3" r="15.8"/><circle cx="857.7" cy="554.7" r="15.8"/><circle cx="860.8" cy="556.4" r="15.8"/><circle cx="863.9" cy="556.5" r="15.8"/><circle cx="867.1" cy="556.3" r="15.8"/><circle cx="870.2" cy="558.2" r="15.8"/><circle cx="873.3" cy="562.9" r="15.8"/><circle cx="876.5" cy="563.4" r="15.8"/><circle cx="879.6" cy="564.8" r="15.8"/><circle cx="882.7" cy="562.7" r="15.8"/><circle cx="885.9" cy="564.3" r="15.8"/><circle cx="889" cy="565.5" r="15.8"/><circle cx="892.1" cy="566.6" r="15.8"/><circle cx="895.3" cy="565.3" r="15.8"/><circle cx="898.4" cy="566.5" r="15.8"/><circle cx="901.5" cy="566.2" r="15.8"/><circle cx="904.7" cy="566.9" r="15.8"/><circle cx="907.8" cy="567.7" r="15.8"/><circle cx="911" cy="567.1" r="15.8"/><circle cx="914.1" cy="567.7" r="15.8"/><circle cx="917.2" cy="569.9" r="15.8"/><circle cx="920.4" cy="567.2" r="15.8"/><circle cx="923.5" cy="567.4" r="15.8"/><circle cx="926.6" cy="568.3" r="15.8"/><circle cx="929.8" cy="568.9" r="15.8"/><circle cx="932.9" cy="569.1" r="15.8"/><circle cx="936" cy="572.1" r="15.8"/><circle cx="939.2" cy="569.6" r="15.8"/><circle cx="942.3" cy="573.2" r="15.8"/><circle cx="945.4" cy="572.3" r="15.8"/><circle cx="948.6" cy="571.7" r="15.8"/><circle cx="951.7" cy="572" r="15.8"/><circle cx="954.8" cy="573.1" r="15.8"/><circle cx="958" cy="574.1" r="15.8"/><circle cx="961.1" cy="575.1" r="15.8"/><circle cx="964.3" cy="575" r="15.8"/><circle cx="967.4" cy="573.2" r="15.8"/><circle cx="970.5" cy="576" r="15.8"/><circle cx="973.7" cy="576.2" r="15.8"/><circle cx="976.8" cy="578.3" r="15.8"/><circle cx="979.9" cy="577" r="15.8"/><circle cx="983.1" cy="575.6" r="15.8"/><circle cx="986.2" cy="577.9" r="15.8"/><circle cx="989.3" cy="578.5" r="15.8"/><circle cx="992.5" cy="576.8" r="15.8"/><circle cx="995.6" cy="576.8" r="15.8"/><circle cx="998.7" cy="579.1" r="15.8"/><circle cx="1001.9" cy="577.4" r="15.8"/><circle cx="1005" cy="580.7" r="15.8"/><circle cx="1008.1" cy="578.4" r="15.8"/><circle cx="1011.3" cy="577.5" r="15.8"/><circle cx="1014.4" cy="578" r="15.8"/><circle cx="1017.6" cy="583.1" r="15.8"/><circle cx="1020.7" cy="580.7" r="15.8"/><circle cx="1023.8" cy="579.6" r="15.8"/><circle cx="1027" cy="582.6" r="15.8"/><circle cx="1030.1" cy="582.5" r="15.8"/><circle cx="1033.2" cy="581.8" r="15.8"/><circle cx="1036.4" cy="583.9" r="15.8"/><circle cx="1039.5" cy="582.4" r="15.8"/><circle cx="1042.6" cy="586" r="15.8"/><circle cx="1045.8" cy="587.7" r="15.8"/><circle cx="1048.9" cy="585.9" r="15.8"/><circle cx="1052" cy="586" r="15.8"/><circle cx="1055.2" cy="586" r="15.8"/><circle cx="1058.3" cy="583.4" r="15.8"/><circle cx="1061.4" cy="585.5" r="15.8"/><circle cx="1064.6" cy="587.1" r="15.8"/><circle cx="1067.7" cy="586.9" r="15.8"/><circle cx="1070.9" cy="586.8" r="15.8"/><circle cx="1074" cy="586.2" r="15.8"/><circle cx="1077.1" cy="588.8" r="15.8"/><circle cx="1080.3" cy="589.5" r="15.8"/><circle cx="1083.4" cy="589.5" r="15.8"/><circle cx="1086.5" cy="588.6" r="15.8"/><circle cx="1089.7" cy="587.1" r="15.8"/><circle cx="1092.8" cy="591.2" r="15.8"/><circle cx="1095.9" cy="589.3" r="15.8"/><circle cx="1099.1" cy="589.4" r="15.8"/><circle cx="1102.2" cy="587.9" r="15.8"/><circle cx="1105.3" cy="588.6" r="15.8"/><circle cx="1108.5" cy="585.7" r="15.8"/><circle cx="1111.6" cy="585.9" r="15.8"/><circle cx="1114.7" cy="583.1" r="15.8"/><circle cx="1117.9" cy="584.1" r="15.8"/><circle cx="1121" cy="583.5" r="15.8"/><circle cx="1124.2" cy="581.4" r="15.8"/><circle cx="1127.3" cy="580.9" r="15.8"/><circle cx="1130.4" cy="582.2" r="15.8"/><circle cx="1133.6" cy="584.4" r="15.8"/><circle cx="1136.7" cy="581.1" r="15.8"/><circle cx="1139.8" cy="584.9" r="15.8"/><circle cx="1143" cy="586" r="15.8"/><circle cx="1146.1" cy="585.4" r="15.8"/><circle cx="1149.2" cy="584.8" r="15.8"/><circle cx="1152.4" cy="584.7" r="15.8"/><circle cx="1155.5" cy="585" r="15.8"/><circle cx="1158.6" cy="585.9" r="15.8"/><circle cx="1161.8" cy="583.5" r="15.8"/><circle cx="1164.9" cy="585.8" r="15.8"/><circle cx="1168" cy="585.3" r="15.8"/><circle cx="1171.2" cy="584.2" r="15.8"/><circle cx="1174.3" cy="586.3" r="15.8"/><circle cx="1177.5" cy="584.9" r="15.8"/><circle cx="1180.6" cy="582.5" r="15.8"/></g><g fill="url(#gPk)"><circle cx="243.1" cy="463.7" r="15.8"/><circle cx="246.3" cy="380.9" r="15.8"/><circle cx="249.4" cy="383.1" r="15.8"/><circle cx="252.5" cy="384.5" r="15.8"/><circle cx="255.7" cy="383.7" r="15.8"/><circle cx="258.8" cy="386.8" r="15.8"/><circle cx="261.9" cy="385.9" r="15.8"/><circle cx="265.1" cy="387" r="15.8"/><circle cx="268.2" cy="390.1" r="15.8"/><circle cx="271.4" cy="389.5" r="15.8"/><circle cx="274.5" cy="392.4" r="15.8"/><circle cx="277.6" cy="392.8" r="15.8"/><circle cx="280.8" cy="395.5" r="15.8"/><circle cx="283.9" cy="395.6" r="15.8"/><circle cx="287" cy="398.8" r="15.8"/><circle cx="290.2" cy="398.5" r="15.8"/><circle cx="293.3" cy="400.8" r="15.8"/><circle cx="296.4" cy="401.7" r="15.8"/><circle cx="299.6" cy="402.2" r="15.8"/><circle cx="302.7" cy="403.9" r="15.8"/><circle cx="305.8" cy="405.4" r="15.8"/><circle cx="309" cy="405.9" r="15.8"/><circle cx="312.1" cy="407.1" r="15.8"/><circle cx="315.2" cy="410.7" r="15.8"/><circle cx="318.4" cy="410.1" r="15.8"/><circle cx="321.5" cy="411.5" r="15.8"/><circle cx="324.7" cy="414.4" r="15.8"/><circle cx="327.8" cy="414.7" r="15.8"/><circle cx="330.9" cy="418" r="15.8"/><circle cx="334.1" cy="416.7" r="15.8"/><circle cx="337.2" cy="419.9" r="15.8"/><circle cx="340.3" cy="421.3" r="15.8"/><circle cx="343.5" cy="421.5" r="15.8"/><circle cx="346.6" cy="424.3" r="15.8"/><circle cx="349.7" cy="425" r="15.8"/><circle cx="352.9" cy="428.1" r="15.8"/><circle cx="356" cy="429" r="15.8"/><circle cx="359.1" cy="431.1" r="15.8"/><circle cx="362.3" cy="431.2" r="15.8"/><circle cx="365.4" cy="431.3" r="15.8"/><circle cx="368.5" cy="433.4" r="15.8"/><circle cx="371.7" cy="434" r="15.8"/><circle cx="374.8" cy="437.2" r="15.8"/><circle cx="378" cy="438.4" r="15.8"/><circle cx="381.1" cy="439.3" r="15.8"/><circle cx="384.2" cy="439.6" r="15.8"/><circle cx="387.4" cy="441.2" r="15.8"/><circle cx="390.5" cy="443" r="15.8"/><circle cx="393.6" cy="443.9" r="15.8"/><circle cx="396.8" cy="446.2" r="15.8"/><circle cx="399.9" cy="447.5" r="15.8"/><circle cx="403" cy="447.4" r="15.8"/><circle cx="406.2" cy="450.6" r="15.8"/><circle cx="409.3" cy="451.1" r="15.8"/><circle cx="412.4" cy="450.8" r="15.8"/><circle cx="415.6" cy="453.6" r="15.8"/><circle cx="418.7" cy="454.1" r="15.8"/><circle cx="421.8" cy="456.6" r="15.8"/><circle cx="425" cy="455.1" r="15.8"/><circle cx="428.1" cy="460.6" r="15.8"/><circle cx="431.3" cy="460.6" r="15.8"/><circle cx="434.4" cy="461.7" r="15.8"/><circle cx="437.5" cy="460.1" r="15.8"/><circle cx="440.7" cy="462.6" r="15.8"/><circle cx="443.8" cy="464.3" r="15.8"/><circle cx="446.9" cy="466.5" r="15.8"/><circle cx="450.1" cy="465.9" r="15.8"/><circle cx="453.2" cy="467.2" r="15.8"/><circle cx="456.3" cy="469" r="15.8"/><circle cx="459.5" cy="470.7" r="15.8"/><circle cx="462.6" cy="471.1" r="15.8"/><circle cx="465.7" cy="470.6" r="15.8"/><circle cx="468.9" cy="471.2" r="15.8"/><circle cx="472" cy="472.2" r="15.8"/><circle cx="475.1" cy="473.1" r="15.8"/><circle cx="478.3" cy="475.5" r="15.8"/><circle cx="481.4" cy="474.5" r="15.8"/><circle cx="484.6" cy="476.5" r="15.8"/><circle cx="487.7" cy="476.3" r="15.8"/><circle cx="490.8" cy="476.9" r="15.8"/><circle cx="494" cy="479.1" r="15.8"/><circle cx="497.1" cy="480.6" r="15.8"/><circle cx="500.2" cy="479.6" r="15.8"/><circle cx="503.4" cy="481.3" r="15.8"/><circle cx="506.5" cy="483.4" r="15.8"/><circle cx="509.6" cy="486.8" r="15.8"/><circle cx="512.8" cy="484.9" r="15.8"/><circle cx="515.9" cy="485.3" r="15.8"/><circle cx="519" cy="485.9" r="15.8"/><circle cx="522.2" cy="488.8" r="15.8"/><circle cx="525.3" cy="489.8" r="15.8"/><circle cx="528.4" cy="490.7" r="15.8"/><circle cx="531.6" cy="490.5" r="15.8"/><circle cx="534.7" cy="493.6" r="15.8"/><circle cx="537.9" cy="493.6" r="15.8"/><circle cx="541" cy="495.5" r="15.8"/><circle cx="544.1" cy="495.5" r="15.8"/><circle cx="547.3" cy="498.6" r="15.8"/><circle cx="550.4" cy="497.9" r="15.8"/><circle cx="553.5" cy="500" r="15.8"/><circle cx="556.7" cy="500.9" r="15.8"/><circle cx="559.8" cy="501.3" r="15.8"/><circle cx="562.9" cy="501.8" r="15.8"/><circle cx="566.1" cy="505.7" r="15.8"/><circle cx="569.2" cy="503.9" r="15.8"/><circle cx="572.3" cy="505.1" r="15.8"/><circle cx="575.5" cy="506.7" r="15.8"/><circle cx="578.6" cy="505.5" r="15.8"/><circle cx="581.7" cy="507.2" r="15.8"/><circle cx="584.9" cy="506.5" r="15.8"/><circle cx="588" cy="508.9" r="15.8"/><circle cx="591.2" cy="509.5" r="15.8"/><circle cx="594.3" cy="507.8" r="15.8"/><circle cx="597.4" cy="507.2" r="15.8"/><circle cx="600.6" cy="509.1" r="15.8"/><circle cx="603.7" cy="509.3" r="15.8"/><circle cx="606.8" cy="511.2" r="15.8"/><circle cx="610" cy="512.6" r="15.8"/><circle cx="613.1" cy="512.1" r="15.8"/><circle cx="616.2" cy="511.2" r="15.8"/><circle cx="619.4" cy="515.6" r="15.8"/><circle cx="622.5" cy="515.2" r="15.8"/><circle cx="625.6" cy="517.8" r="15.8"/><circle cx="628.8" cy="516.9" r="15.8"/><circle cx="631.9" cy="517.2" r="15.8"/><circle cx="635" cy="520.3" r="15.8"/><circle cx="638.2" cy="520.3" r="15.8"/><circle cx="641.3" cy="519.2" r="15.8"/><circle cx="644.5" cy="521.2" r="15.8"/><circle cx="647.6" cy="522.9" r="15.8"/><circle cx="650.7" cy="523.4" r="15.8"/><circle cx="653.9" cy="524.6" r="15.8"/><circle cx="657" cy="522.1" r="15.8"/><circle cx="660.1" cy="524.1" r="15.8"/><circle cx="663.3" cy="522.7" r="15.8"/><circle cx="666.4" cy="523.4" r="15.8"/><circle cx="669.5" cy="525.5" r="15.8"/><circle cx="672.7" cy="526.1" r="15.8"/><circle cx="675.8" cy="525.6" r="15.8"/><circle cx="678.9" cy="527.3" r="15.8"/><circle cx="682.1" cy="528.2" r="15.8"/><circle cx="685.2" cy="531.3" r="15.8"/><circle cx="688.3" cy="529.8" r="15.8"/><circle cx="691.5" cy="532.7" r="15.8"/><circle cx="694.6" cy="535" r="15.8"/><circle cx="697.8" cy="534.2" r="15.8"/><circle cx="700.9" cy="533.8" r="15.8"/><circle cx="704" cy="532.5" r="15.8"/><circle cx="707.2" cy="535.1" r="15.8"/><circle cx="710.3" cy="536" r="15.8"/><circle cx="713.4" cy="532.3" r="15.8"/><circle cx="716.6" cy="534" r="15.8"/><circle cx="719.7" cy="534" r="15.8"/><circle cx="722.8" cy="534.3" r="15.8"/><circle cx="726" cy="533.7" r="15.8"/><circle cx="729.1" cy="530.6" r="15.8"/><circle cx="732.2" cy="531.4" r="15.8"/><circle cx="735.4" cy="530.3" r="15.8"/><circle cx="738.5" cy="528.7" r="15.8"/><circle cx="741.6" cy="525" r="15.8"/><circle cx="744.8" cy="525.9" r="15.8"/><circle cx="747.9" cy="523.6" r="15.8"/><circle cx="751.1" cy="523.1" r="15.8"/><circle cx="754.2" cy="522.2" r="15.8"/><circle cx="757.3" cy="522.5" r="15.8"/><circle cx="760.5" cy="520.1" r="15.8"/><circle cx="763.6" cy="518.1" r="15.8"/><circle cx="766.7" cy="518.7" r="15.8"/><circle cx="769.9" cy="518.7" r="15.8"/><circle cx="773" cy="518.7" r="15.8"/><circle cx="776.1" cy="521.1" r="15.8"/><circle cx="779.3" cy="527.3" r="15.8"/><circle cx="782.4" cy="533.5" r="15.8"/><circle cx="785.5" cy="537.7" r="15.8"/><circle cx="788.7" cy="540.8" r="15.8"/><circle cx="791.8" cy="539.7" r="15.8"/><circle cx="794.9" cy="541.1" r="15.8"/><circle cx="798.1" cy="542.2" r="15.8"/><circle cx="801.2" cy="542.8" r="15.8"/><circle cx="804.4" cy="542.9" r="15.8"/><circle cx="807.5" cy="544.6" r="15.8"/><circle cx="810.6" cy="546.3" r="15.8"/><circle cx="813.8" cy="545" r="15.8"/><circle cx="816.9" cy="547.4" r="15.8"/><circle cx="820" cy="548.4" r="15.8"/><circle cx="823.2" cy="549.9" r="15.8"/><circle cx="826.3" cy="549" r="15.8"/><circle cx="829.4" cy="550.7" r="15.8"/><circle cx="832.6" cy="550.7" r="15.8"/><circle cx="835.7" cy="550.4" r="15.8"/><circle cx="838.8" cy="551.4" r="15.8"/><circle cx="842" cy="551" r="15.8"/><circle cx="845.1" cy="552.4" r="15.8"/><circle cx="848.2" cy="553.9" r="15.8"/><circle cx="851.4" cy="554.7" r="15.8"/><circle cx="854.5" cy="555.8" r="15.8"/><circle cx="857.7" cy="555.7" r="15.8"/><circle cx="860.8" cy="557.4" r="15.8"/><circle cx="863.9" cy="558.9" r="15.8"/><circle cx="867.1" cy="558.8" r="15.8"/><circle cx="870.2" cy="560.6" r="15.8"/><circle cx="873.3" cy="562.3" r="15.8"/><circle cx="876.5" cy="564.4" r="15.8"/><circle cx="879.6" cy="563.4" r="15.8"/><circle cx="882.7" cy="564.5" r="15.8"/><circle cx="885.9" cy="565.6" r="15.8"/><circle cx="889" cy="566.8" r="15.8"/><circle cx="892.1" cy="567.7" r="15.8"/><circle cx="895.3" cy="567.6" r="15.8"/><circle cx="898.4" cy="567.5" r="15.8"/><circle cx="901.5" cy="568.2" r="15.8"/><circle cx="904.7" cy="568.6" r="15.8"/><circle cx="907.8" cy="569.2" r="15.8"/><circle cx="911" cy="568.7" r="15.8"/><circle cx="914.1" cy="569" r="15.8"/><circle cx="917.2" cy="570.3" r="15.8"/><circle cx="920.4" cy="569" r="15.8"/><circle cx="923.5" cy="569.2" r="15.8"/><circle cx="926.6" cy="569.4" r="15.8"/><circle cx="929.8" cy="570.7" r="15.8"/><circle cx="932.9" cy="571" r="15.8"/><circle cx="936" cy="572.3" r="15.8"/><circle cx="939.2" cy="570.8" r="15.8"/><circle cx="942.3" cy="574.1" r="15.8"/><circle cx="945.4" cy="572.8" r="15.8"/><circle cx="948.6" cy="573.2" r="15.8"/><circle cx="951.7" cy="572.6" r="15.8"/><circle cx="954.8" cy="574" r="15.8"/><circle cx="958" cy="575.6" r="15.8"/><circle cx="961.1" cy="576.6" r="15.8"/><circle cx="964.3" cy="576.5" r="15.8"/><circle cx="967.4" cy="576.3" r="15.8"/><circle cx="970.5" cy="576.9" r="15.8"/><circle cx="973.7" cy="577.6" r="15.8"/><circle cx="976.8" cy="578.6" r="15.8"/><circle cx="979.9" cy="578.6" r="15.8"/><circle cx="983.1" cy="577.7" r="15.8"/><circle cx="986.2" cy="580.1" r="15.8"/><circle cx="989.3" cy="579.2" r="15.8"/><circle cx="992.5" cy="577.8" r="15.8"/><circle cx="995.6" cy="579" r="15.8"/><circle cx="998.7" cy="580.3" r="15.8"/><circle cx="1001.9" cy="579.4" r="15.8"/><circle cx="1005" cy="581.1" r="15.8"/><circle cx="1008.1" cy="580.7" r="15.8"/><circle cx="1011.3" cy="579.6" r="15.8"/><circle cx="1014.4" cy="579.6" r="15.8"/><circle cx="1017.6" cy="583.8" r="15.8"/><circle cx="1020.7" cy="581.8" r="15.8"/><circle cx="1023.8" cy="581" r="15.8"/><circle cx="1027" cy="584" r="15.8"/><circle cx="1030.1" cy="583.7" r="15.8"/><circle cx="1033.2" cy="582.9" r="15.8"/><circle cx="1036.4" cy="585.3" r="15.8"/><circle cx="1039.5" cy="584.8" r="15.8"/><circle cx="1042.6" cy="585.7" r="15.8"/><circle cx="1045.8" cy="587.9" r="15.8"/><circle cx="1048.9" cy="585.9" r="15.8"/><circle cx="1052" cy="586.7" r="15.8"/><circle cx="1055.2" cy="585.9" r="15.8"/><circle cx="1058.3" cy="585" r="15.8"/><circle cx="1061.4" cy="586.8" r="15.8"/><circle cx="1064.6" cy="588.1" r="15.8"/><circle cx="1067.7" cy="587.6" r="15.8"/><circle cx="1070.9" cy="588.1" r="15.8"/><circle cx="1074" cy="587.5" r="15.8"/><circle cx="1077.1" cy="590.3" r="15.8"/><circle cx="1080.3" cy="590.2" r="15.8"/><circle cx="1083.4" cy="591.2" r="15.8"/><circle cx="1086.5" cy="588.7" r="15.8"/><circle cx="1089.7" cy="589.4" r="15.8"/><circle cx="1092.8" cy="590" r="15.8"/><circle cx="1095.9" cy="590.1" r="15.8"/><circle cx="1099.1" cy="589.7" r="15.8"/><circle cx="1102.2" cy="589.7" r="15.8"/><circle cx="1105.3" cy="588.7" r="15.8"/><circle cx="1108.5" cy="588.4" r="15.8"/><circle cx="1111.6" cy="585.9" r="15.8"/><circle cx="1114.7" cy="586" r="15.8"/><circle cx="1117.9" cy="585.7" r="15.8"/><circle cx="1121" cy="584.8" r="15.8"/><circle cx="1124.2" cy="583" r="15.8"/><circle cx="1127.3" cy="583.9" r="15.8"/><circle cx="1130.4" cy="584.2" r="15.8"/><circle cx="1133.6" cy="583.9" r="15.8"/><circle cx="1136.7" cy="583.2" r="15.8"/><circle cx="1139.8" cy="586.3" r="15.8"/><circle cx="1143" cy="586" r="15.8"/><circle cx="1146.1" cy="587.2" r="15.8"/><circle cx="1149.2" cy="585.1" r="15.8"/><circle cx="1152.4" cy="586.1" r="15.8"/><circle cx="1155.5" cy="586.5" r="15.8"/><circle cx="1158.6" cy="586.7" r="15.8"/><circle cx="1161.8" cy="585.3" r="15.8"/><circle cx="1164.9" cy="586.2" r="15.8"/><circle cx="1168" cy="586.7" r="15.8"/><circle cx="1171.2" cy="585" r="15.8"/><circle cx="1174.3" cy="587.4" r="15.8"/><circle cx="1177.5" cy="587.7" r="15.8"/><circle cx="1180.6" cy="583.8" r="15.8"/></g></g><g fill="url(#gOr)"><circle cx="279" cy="599.6" r="15.5"/></g><text x="332.5" y="610.6" font-size="56">Charge (LPC/δ-MnO<tspan font-size="36" dy="0.6">2</tspan><tspan dy="-0.6">)</tspan></text><g fill="url(#gBl)"><circle cx="279" cy="673.9" r="15.5"/></g><text x="332.4" y="687" font-size="56">Discharge (LPC/δ-MnO<tspan font-size="36" dy="0.6">2</tspan><tspan dy="-0.6">)</tspan></text><g fill="url(#gBr)"><circle cx="279" cy="738.2" r="15.5"/></g><text x="332.5" y="749.9" font-size="56">Charge (δ-MnO<tspan font-size="36" dy="0.6">2</tspan><tspan dy="-0.6">)</tspan></text><g fill="url(#gPk)"><circle cx="279" cy="812.2" r="15.5"/></g><text x="332.4" y="824.4" font-size="56">Discharge (δ-MnO<tspan font-size="36" dy="0.6">2</tspan><tspan dy="-0.6">)</tspan></text><rect x="225" y="48" width="971.5" height="790" fill="none" stroke="#000" stroke-width="5"/><path d="M225 48H210M225 273.7H210M225 499.3H210M225 725H210" stroke="#000" stroke-width="5" stroke-linecap="round" fill="none"/><path d="M225 160.8H217M225 386.5H217M225 612.2H217M225 837.8H217" stroke="#000" stroke-width="5" stroke-linecap="round" fill="none"/><path d="M240 838V853M553.5 838V853M867.1 838V853M1180.6 838V853" stroke="#000" stroke-width="5" stroke-linecap="round" fill="none"/><path d="M396.8 838V846M710.3 838V846M1023.8 838V846" stroke="#000" stroke-width="5" stroke-linecap="round" fill="none"/><text x="199.1" y="67.2" font-size="65" text-anchor="end">400</text><text x="199.1" y="292.9" font-size="65" text-anchor="end">300</text><text x="199.1" y="518.5" font-size="65" text-anchor="end">200</text><text x="199.1" y="744.2" font-size="65" text-anchor="end">100</text><text x="241" y="912.8" font-size="65" text-anchor="middle">0</text><text x="554.5" y="912.8" font-size="65" text-anchor="middle">100</text><text x="868.1" y="912.8" font-size="65" text-anchor="middle">200</text><text x="1181.6" y="912.8" font-size="65" text-anchor="middle">300</text><text x="729.3" y="978" font-size="63" text-anchor="middle">Cycle number</text><text transform="translate(77.5,452.6) rotate(-90)" font-size="63.2" text-anchor="middle">Specific capacity (mAh g<tspan font-size="39.2" dy="-29.7">-1</tspan><tspan dy="29.7">)</tspan></text><text x="889.9" y="160" font-size="64.5">0.2 <tspan dx="-1.2">A</tspan> <tspan dx="-2.5">g</tspan><tspan font-size="40" dy="-30.3" dx="-0.5">-</tspan><tspan font-size="40" dx="-1.8">1</tspan><tspan dy="30.3"></tspan></text><text x="26.4" y="45.6" font-size="44" font-family="'Liberation Sans', Arial, sans-serif" font-weight="bold">A</text><g clip-path="url(#clipB)"><g fill="url(#gK)"><circle cx="1456" cy="694" r="15"/><circle cx="1458.7" cy="692.7" r="15"/><circle cx="1461.6" cy="691.2" r="15"/><circle cx="1464.8" cy="689.6" r="15"/><circle cx="1468.4" cy="688.1" r="15"/><circle cx="1472.2" cy="686.6" r="15"/><circle cx="1476.2" cy="685.1" r="15"/><circle cx="1480.4" cy="683.5" r="15"/><circle cx="1484.8" cy="681.8" r="15"/><circle cx="1489.5" cy="680.5" r="15"/><circle cx="1494.6" cy="679.5" r="15"/><circle cx="1500.1" cy="678.5" r="15"/><circle cx="1506" cy="677.4" r="15"/><circle cx="1512.3" cy="676.1" r="15"/><circle cx="1518.9" cy="673.9" r="15"/><circle cx="1526.1" cy="671.4" r="15"/><circle cx="1533.7" cy="668.4" r="15"/><circle cx="1540.9" cy="662.8" r="15"/><circle cx="1548.6" cy="656.7" r="15"/><circle cx="1556.4" cy="649.5" r="15"/><circle cx="1564.2" cy="641.3" r="15"/><circle cx="1572.9" cy="633.3" r="15"/><circle cx="1582.7" cy="625.6" r="15"/><circle cx="1594.4" cy="619.5" r="15"/><circle cx="1607.1" cy="613.3" r="15"/><circle cx="1621.5" cy="608.9" r="15"/><circle cx="1636.4" cy="604.4" r="15"/><circle cx="1652.1" cy="600.6" r="15"/><circle cx="1668.2" cy="596.8" r="15"/><circle cx="1685" cy="594.2" r="15"/><circle cx="1702.6" cy="591.5" r="15"/><circle cx="1720.9" cy="588.6" r="15"/><circle cx="1740.7" cy="585.6" r="15"/><circle cx="1761.1" cy="584.3" r="15"/><circle cx="1780.6" cy="584.8" r="15"/><circle cx="1798.5" cy="586.7" r="15"/><circle cx="1815.2" cy="589.8" r="15"/><circle cx="1830.9" cy="592.7" r="15"/><circle cx="1846.8" cy="594.8" r="15"/><circle cx="1862.1" cy="597.1" r="15"/><circle cx="1877.5" cy="598.9" r="15"/><circle cx="1892.7" cy="600.6" r="15"/><circle cx="1907.8" cy="601.8" r="15"/><circle cx="1923" cy="603" r="15"/><circle cx="1938.5" cy="603.5" r="15"/><circle cx="1954.4" cy="604" r="15"/><circle cx="1970.6" cy="604.8" r="15"/><circle cx="1987.4" cy="606" r="15"/><circle cx="2004.6" cy="607.1" r="15"/><circle cx="2022.1" cy="607.4" r="15"/><circle cx="2039.5" cy="606.8" r="15"/><circle cx="2056.9" cy="604.9" r="15"/><circle cx="2074.2" cy="601.8" r="15"/><circle cx="2091.3" cy="597.7" r="15"/><circle cx="2108.9" cy="593" r="15"/><circle cx="2127" cy="587.8" r="15"/><circle cx="2145.9" cy="581.6" r="15"/><circle cx="2166.3" cy="575.8" r="15"/><circle cx="2187.8" cy="570.2" r="15"/><circle cx="2208" cy="566" r="15"/></g><g fill="url(#gR)"><circle cx="1454" cy="682" r="15"/><circle cx="1458.7" cy="678.2" r="15"/><circle cx="1463.7" cy="674.1" r="15"/><circle cx="1469.3" cy="669.7" r="15"/><circle cx="1475.7" cy="665.5" r="15"/><circle cx="1483" cy="661.6" r="15"/><circle cx="1491" cy="657.7" r="15"/><circle cx="1499.2" cy="653.9" r="15"/><circle cx="1507.3" cy="650" r="15"/><circle cx="1515.5" cy="646.2" r="15"/><circle cx="1523.9" cy="643.3" r="15"/><circle cx="1532.7" cy="640.7" r="15"/><circle cx="1541.8" cy="638" r="15"/><circle cx="1551.1" cy="635.3" r="15"/><circle cx="1560.7" cy="632.7" r="15"/><circle cx="1570.6" cy="630.2" r="15"/><circle cx="1580.8" cy="628.1" r="15"/><circle cx="1591.3" cy="626.5" r="15"/><circle cx="1602.1" cy="625.1" r="15"/><circle cx="1613.2" cy="623.9" r="15"/><circle cx="1624.5" cy="623" r="15"/><circle cx="1636" cy="622.4" r="15"/><circle cx="1647.9" cy="622" r="15"/><circle cx="1659.9" cy="622" r="15"/><circle cx="1671.9" cy="622.1" r="15"/><circle cx="1683.9" cy="622.8" r="15"/><circle cx="1695.8" cy="623.4" r="15"/><circle cx="1707.8" cy="624" r="15"/><circle cx="1719.8" cy="624.7" r="15"/><circle cx="1731.7" cy="625.4" r="15"/><circle cx="1743.3" cy="626.3" r="15"/><circle cx="1754.4" cy="628" r="15"/><circle cx="1764.1" cy="629.5" r="15"/><circle cx="1772.8" cy="630.8" r="15"/><circle cx="1780.9" cy="632" r="15"/><circle cx="1788.7" cy="633.3" r="15"/><circle cx="1796.3" cy="634.1" r="15"/><circle cx="1803.7" cy="634.7" r="15"/><circle cx="1811.2" cy="635.1" r="15"/><circle cx="1818.8" cy="635.4" r="15"/><circle cx="1826.7" cy="635.4" r="15"/><circle cx="1834.7" cy="634.8" r="15"/><circle cx="1843" cy="634" r="15"/><circle cx="1851.6" cy="633" r="15"/><circle cx="1860.7" cy="631.9" r="15"/><circle cx="1870.1" cy="630.8" r="15"/><circle cx="1880.1" cy="629.6" r="15"/><circle cx="1890.5" cy="628.2" r="15"/><circle cx="1901.9" cy="626.6" r="15"/><circle cx="1914.4" cy="625.4" r="15"/><circle cx="1928.4" cy="623.6" r="15"/><circle cx="1943.9" cy="619.8" r="15"/><circle cx="1960.7" cy="615.4" r="15"/><circle cx="1979.2" cy="610.3" r="15"/><circle cx="1998.8" cy="604.4" r="15"/><circle cx="2020" cy="598.5" r="15"/><circle cx="2042.6" cy="591.2" r="15"/><circle cx="2065.9" cy="582.7" r="15"/><circle cx="2089.9" cy="574.2" r="15"/><circle cx="2113.9" cy="564.6" r="15"/><circle cx="2119.2" cy="562.5" r="15"/></g><g fill="url(#gB)"><circle cx="1454" cy="693" r="15"/><circle cx="1455.3" cy="692.2" r="15"/><circle cx="1456.6" cy="691.4" r="15"/><circle cx="1458" cy="690.5" r="15"/><circle cx="1459.5" cy="689.6" r="15"/><circle cx="1461.1" cy="688.6" r="15"/><circle cx="1462.8" cy="687.6" r="15"/><circle cx="1464.6" cy="686.8" r="15"/><circle cx="1466.5" cy="685.9" r="15"/><circle cx="1468.5" cy="685" r="15"/><circle cx="1470.5" cy="684.1" r="15"/><circle cx="1472.6" cy="683.1" r="15"/><circle cx="1474.8" cy="682.1" r="15"/><circle cx="1477.2" cy="681.3" r="15"/><circle cx="1479.7" cy="680.4" r="15"/><circle cx="1482.3" cy="679.6" r="15"/><circle cx="1485.1" cy="678.8" r="15"/><circle cx="1488.1" cy="678.2" r="15"/><circle cx="1491.4" cy="677.6" r="15"/><circle cx="1494.9" cy="676.9" r="15"/><circle cx="1498.7" cy="676.2" r="15"/><circle cx="1502.7" cy="675.4" r="15"/><circle cx="1507.1" cy="674.6" r="15"/><circle cx="1511.7" cy="673.4" r="15"/><circle cx="1516.5" cy="671.7" r="15"/><circle cx="1521.5" cy="670" r="15"/><circle cx="1526.8" cy="668.1" r="15"/><circle cx="1531.8" cy="665.4" r="15"/><circle cx="1536.5" cy="661.5" r="15"/><circle cx="1541.4" cy="657.4" r="15"/><circle cx="1546.4" cy="653.2" r="15"/><circle cx="1551.4" cy="648.5" r="15"/><circle cx="1556.3" cy="643.2" r="15"/><circle cx="1561.4" cy="637.6" r="15"/><circle cx="1567.5" cy="632.5" r="15"/><circle cx="1570" cy="630.4" r="15"/></g><g fill="url(#gG)"><circle cx="1454" cy="831" r="15"/><circle cx="1458.1" cy="828.2" r="15"/><circle cx="1462.5" cy="825.2" r="15"/><circle cx="1467" cy="822.1" r="15"/><circle cx="1471.9" cy="819" r="15"/><circle cx="1477.3" cy="816.1" r="15"/><circle cx="1483.1" cy="813" r="15"/><circle cx="1489.2" cy="809.9" r="15"/><circle cx="1495.7" cy="806.7" r="15"/><circle cx="1502.6" cy="803.3" r="15"/><circle cx="1509.9" cy="799.9" r="15"/><circle cx="1517.6" cy="796.6" r="15"/><circle cx="1525.7" cy="793.8" r="15"/><circle cx="1534.2" cy="790.9" r="15"/><circle cx="1542.7" cy="788.1" r="15"/><circle cx="1551.4" cy="785.7" r="15"/><circle cx="1560.1" cy="783.5" r="15"/><circle cx="1568.8" cy="781.1" r="15"/><circle cx="1577.6" cy="778.5" r="15"/><circle cx="1587" cy="775.8" r="15"/><circle cx="1596.8" cy="773.2" r="15"/><circle cx="1607" cy="770.5" r="15"/><circle cx="1617.8" cy="767.9" r="15"/><circle cx="1629.1" cy="765.1" r="15"/><circle cx="1641.4" cy="763.3" r="15"/><circle cx="1654.3" cy="761.7" r="15"/><circle cx="1668" cy="760.6" r="15"/><circle cx="1682.3" cy="759.8" r="15"/><circle cx="1697" cy="759.8" r="15"/><circle cx="1711.8" cy="760.3" r="15"/><circle cx="1725.9" cy="761.8" r="15"/><circle cx="1739.1" cy="764.1" r="15"/><circle cx="1751.5" cy="766.4" r="15"/><circle cx="1762.9" cy="769.1" r="15"/><circle cx="1773.1" cy="771.9" r="15"/><circle cx="1782.3" cy="775.5" r="15"/><circle cx="1790.9" cy="778.9" r="15"/><circle cx="1799" cy="782.3" r="15"/><circle cx="1806.9" cy="785.2" r="15"/><circle cx="1814.6" cy="787.8" r="15"/><circle cx="1822.4" cy="790" r="15"/><circle cx="1830.1" cy="791.9" r="15"/><circle cx="1837.9" cy="793.9" r="15"/><circle cx="1845.7" cy="795.8" r="15"/><circle cx="1853.5" cy="797.1" r="15"/><circle cx="1861.6" cy="797.8" r="15"/><circle cx="1869.9" cy="797.4" r="15"/><circle cx="1878.5" cy="795.6" r="15"/><circle cx="1887.2" cy="792.6" r="15"/><circle cx="1895.9" cy="788.4" r="15"/><circle cx="1904.8" cy="783.2" r="15"/><circle cx="1914.6" cy="777.1" r="15"/><circle cx="1925.1" cy="769.9" r="15"/><circle cx="1935.9" cy="760.3" r="15"/><circle cx="1947.9" cy="749.4" r="15"/><circle cx="1960.3" cy="737" r="15"/><circle cx="1973.2" cy="723" r="15"/><circle cx="1974.7" cy="721.3" r="15"/></g><g fill="url(#gM)"><circle cx="1454" cy="836" r="15"/><circle cx="1456.8" cy="835.1" r="15"/><circle cx="1459.9" cy="834" r="15"/><circle cx="1463.3" cy="832.9" r="15"/><circle cx="1467" cy="831.7" r="15"/><circle cx="1471" cy="830.3" r="15"/><circle cx="1475.4" cy="828.8" r="15"/><circle cx="1479.9" cy="826.4" r="15"/><circle cx="1484.6" cy="823.9" r="15"/><circle cx="1489.8" cy="821.2" r="15"/><circle cx="1495.6" cy="818.7" r="15"/><circle cx="1501.8" cy="816.3" r="15"/><circle cx="1508.2" cy="813.9" r="15"/><circle cx="1515" cy="812.2" r="15"/><circle cx="1522.2" cy="811.3" r="15"/><circle cx="1529.4" cy="810.5" r="15"/><circle cx="1536.8" cy="809.9" r="15"/><circle cx="1544.2" cy="809.8" r="15"/><circle cx="1551.5" cy="809.6" r="15"/><circle cx="1558.9" cy="809.6" r="15"/><circle cx="1566.3" cy="810.1" r="15"/><circle cx="1573.8" cy="810.6" r="15"/><circle cx="1581.2" cy="811" r="15"/><circle cx="1588.7" cy="811" r="15"/><circle cx="1596.3" cy="810.8" r="15"/><circle cx="1603.9" cy="810" r="15"/><circle cx="1611.7" cy="809" r="15"/><circle cx="1619.7" cy="807.7" r="15"/><circle cx="1627.9" cy="806.2" r="15"/><circle cx="1636.4" cy="804.5" r="15"/><circle cx="1645" cy="802.3" r="15"/><circle cx="1654" cy="799.6" r="15"/><circle cx="1663.4" cy="795.8" r="15"/><circle cx="1673" cy="791.3" r="15"/><circle cx="1683" cy="786" r="15"/><circle cx="1693" cy="779.3" r="15"/><circle cx="1703" cy="771.5" r="15"/><circle cx="1713" cy="762.5" r="15"/><circle cx="1722.8" cy="751.8" r="15"/><circle cx="1733.6" cy="740.9" r="15"/><circle cx="1742.8" cy="734.3" r="15"/></g><g fill="url(#gT)"><circle cx="1450" cy="841" r="15"/><circle cx="1452.5" cy="840.5" r="15"/><circle cx="1454.9" cy="840" r="15"/><circle cx="1457.4" cy="839.5" r="15"/><circle cx="1459.8" cy="839" r="15"/><circle cx="1462.3" cy="838.5" r="15"/><circle cx="1464.7" cy="838.1" r="15"/><circle cx="1467.2" cy="837.6" r="15"/><circle cx="1469.6" cy="837.1" r="15"/><circle cx="1472" cy="836.5" r="15"/><circle cx="1474.5" cy="835.9" r="15"/><circle cx="1476.9" cy="835.3" r="15"/><circle cx="1479.3" cy="834.7" r="15"/><circle cx="1481.7" cy="834.1" r="15"/><circle cx="1484.2" cy="833.5" r="15"/><circle cx="1486.6" cy="832.9" r="15"/><circle cx="1489" cy="832.2" r="15"/><circle cx="1491.1" cy="830.9" r="15"/><circle cx="1492.8" cy="829.2" r="15"/><circle cx="1494.6" cy="827.4" r="15"/><circle cx="1496.4" cy="825.6" r="15"/><circle cx="1498.1" cy="823.9" r="15"/><circle cx="1499.9" cy="822.1" r="15"/><circle cx="1501" cy="819.9" r="15"/><circle cx="1502.2" cy="817.6" r="15"/><circle cx="1503.4" cy="815.1" r="15"/><circle cx="1504.7" cy="812.6" r="15"/><circle cx="1506.1" cy="809.9" r="15"/><circle cx="1507.4" cy="807.3" r="15"/><circle cx="1508.8" cy="804.6" r="15"/></g></g><path d="M1641 97H1730.5" stroke="#222" stroke-width="2.2"/><g fill="url(#gK)"><circle cx="1685.5" cy="97" r="15.6"/></g><text x="1741.4" y="110.5" font-size="50.5">initial (δ-MnO<tspan font-size="32.3" dy="0.5">2</tspan><tspan dy="-0.5">)</tspan></text><path d="M1641 164.5H1730.5" stroke="#ff2020" stroke-width="2.2"/><g fill="url(#gR)"><circle cx="1685.5" cy="164.5" r="15.6"/></g><text x="1740.6" y="178" font-size="50.5">after 1st cycle (δ-MnO<tspan font-size="32.3" dy="0.5">2</tspan><tspan dy="-0.5">)</tspan></text><path d="M1641 232.4H1730.5" stroke="#2020ff" stroke-width="2.2"/><g fill="url(#gB)"><circle cx="1685.5" cy="232.4" r="15.6"/></g><text x="1740.6" y="245.9" font-size="50.5">after 300 cycles (δ-MnO<tspan font-size="32.3" dy="0.5">2</tspan><tspan dy="-0.5">)</tspan></text><path d="M1641 300.2H1730.5" stroke="#ff20ff" stroke-width="2.2"/><g fill="url(#gG)"><circle cx="1685.5" cy="300.2" r="15.6"/></g><text x="1741.4" y="313.7" font-size="50.5">initial (LPC/δ-MnO<tspan font-size="32.3" dy="0.5">2</tspan><tspan dy="-0.5">)</tspan></text><path d="M1641 368.3H1730.5" stroke="#2a8a2a" stroke-width="2.2"/><g fill="url(#gM)"><circle cx="1685.5" cy="368.3" r="15.6"/></g><text x="1740.6" y="381.8" font-size="50.5">after 1st cycle (LPC/δ-MnO<tspan font-size="32.3" dy="0.5">2</tspan><tspan dy="-0.5">)</tspan></text><path d="M1641 436H1730.5" stroke="#4a3cb4" stroke-width="2.2"/><g fill="url(#gT)"><circle cx="1685.5" cy="436" r="15.6"/></g><text x="1740.6" y="449.5" font-size="50.5">after 300 cycles (LPC/δ-MnO<tspan font-size="32.3" dy="0.5">2</tspan><tspan dy="-0.5">)</tspan></text><rect x="1453.3" y="52" width="970.7" height="790" fill="none" stroke="#000" stroke-width="5"/><path d="M1453.3 842H1438.3M1453.3 644.5H1438.3M1453.3 447H1438.3M1453.3 249.5H1438.3M1453.3 52H1438.3" stroke="#000" stroke-width="5" stroke-linecap="round" fill="none"/><path d="M1453.3 743.2H1445.3M1453.3 545.8H1445.3M1453.3 348.2H1445.3M1453.3 150.8H1445.3" stroke="#000" stroke-width="5" stroke-linecap="round" fill="none"/><path d="M1453.3 842V857M1696 842V857M1938.8 842V857M2181.5 842V857M2424.3 842V857" stroke="#000" stroke-width="5" stroke-linecap="round" fill="none"/><path d="M1574.7 842V850M1817.4 842V850M2060.2 842V850M2302.9 842V850" stroke="#000" stroke-width="5" stroke-linecap="round" fill="none"/><text x="1428.5" y="861.2" font-size="65" text-anchor="end">0</text><text x="1454.3" y="917.3" font-size="65" text-anchor="middle">0</text><text x="1428.5" y="663.7" font-size="65" text-anchor="end">400</text><text x="1697" y="917.3" font-size="65" text-anchor="middle">400</text><text x="1428.5" y="466.2" font-size="65" text-anchor="end">800</text><text x="1939.8" y="917.3" font-size="65" text-anchor="middle">800</text><text x="1428.5" y="268.7" font-size="65" text-anchor="end">1200</text><text x="2182.5" y="917.3" font-size="65" text-anchor="middle">1200</text><text x="1428.5" y="71.2" font-size="65" text-anchor="end">1600</text><text x="2425.3" y="917.3" font-size="65" text-anchor="middle">1600</text><text x="1950" y="983.2" font-size="63.5" text-anchor="middle">Z' (Ohm)</text><text transform="translate(1296,446.3) rotate(-90)" font-size="63.2" text-anchor="middle">-Z'' (Ohm)</text><text x="1227.6" y="44.3" font-size="45.5" font-family="'Liberation Sans', Arial, sans-serif" font-weight="bold">B</text><circle cx="1226.7" cy="18.1" r="1.3" fill="#999"/><circle cx="1226.7" cy="82.3" r="1.3" fill="#999"/><g clip-path="url(#clipC)"><g fill="#fff" stroke="#0000ff" stroke-width="2"><circle cx="298.9" cy="1243.6" r="13.7"/><circle cx="300.8" cy="1118.5" r="13.7"/><circle cx="302.7" cy="1088" r="13.7"/><circle cx="304.6" cy="1116.4" r="13.7"/><circle cx="306.5" cy="1106.3" r="13.7"/><circle cx="308.4" cy="1120.6" r="13.7"/><circle cx="310.3" cy="1123" r="13.7"/><circle cx="312.1" cy="1113.9" r="13.7"/><circle cx="314" cy="1115.9" r="13.7"/><circle cx="315.9" cy="1115.9" r="13.7"/><circle cx="317.8" cy="1113.1" r="13.7"/><circle cx="319.7" cy="1104.6" r="13.7"/><circle cx="321.6" cy="1095.1" r="13.7"/><circle cx="323.5" cy="1094.2" r="13.7"/><circle cx="325.4" cy="1112.3" r="13.7"/><circle cx="327.3" cy="1095.9" r="13.7"/><circle cx="329.2" cy="1097.1" r="13.7"/><circle cx="331.1" cy="1118.7" r="13.7"/><circle cx="333" cy="1117.4" r="13.7"/><circle cx="334.9" cy="1113.9" r="13.7"/><circle cx="336.8" cy="1094.9" r="13.7"/><circle cx="338.7" cy="1114.4" r="13.7"/><circle cx="340.6" cy="1115.3" r="13.7"/><circle cx="342.5" cy="1100.3" r="13.7"/><circle cx="344.4" cy="1114.8" r="13.7"/><circle cx="346.3" cy="1114.6" r="13.7"/><circle cx="348.2" cy="1107.6" r="13.7"/><circle cx="350.1" cy="1111.6" r="13.7"/><circle cx="352" cy="1135.6" r="13.7"/><circle cx="353.9" cy="1124.8" r="13.7"/><circle cx="355.7" cy="1106.7" r="13.7"/><circle cx="357.6" cy="1126.5" r="13.7"/><circle cx="359.5" cy="1101.9" r="13.7"/><circle cx="361.4" cy="1114" r="13.7"/><circle cx="363.3" cy="1111" r="13.7"/><circle cx="365.2" cy="1110.7" r="13.7"/><circle cx="367.1" cy="1129.9" r="13.7"/><circle cx="369" cy="1119.9" r="13.7"/><circle cx="370.9" cy="1123.1" r="13.7"/><circle cx="372.8" cy="1111.1" r="13.7"/><circle cx="374.7" cy="1099.2" r="13.7"/><circle cx="376.6" cy="1115.4" r="13.7"/><circle cx="378.5" cy="1112.7" r="13.7"/><circle cx="380.4" cy="1131.4" r="13.7"/><circle cx="382.3" cy="1116.8" r="13.7"/><circle cx="384.2" cy="1115.6" r="13.7"/><circle cx="386.1" cy="1115" r="13.7"/><circle cx="388" cy="1107.8" r="13.7"/><circle cx="389.9" cy="1100.3" r="13.7"/><circle cx="391.8" cy="1113.4" r="13.7"/><circle cx="393.7" cy="1109.6" r="13.7"/><circle cx="395.6" cy="1127.7" r="13.7"/><circle cx="397.5" cy="1107.7" r="13.7"/><circle cx="399.4" cy="1112.9" r="13.7"/><circle cx="401.2" cy="1129.5" r="13.7"/><circle cx="403.1" cy="1110.1" r="13.7"/><circle cx="405" cy="1119.3" r="13.7"/><circle cx="406.9" cy="1103.9" r="13.7"/><circle cx="408.8" cy="1109" r="13.7"/><circle cx="410.7" cy="1112.5" r="13.7"/><circle cx="412.6" cy="1097.3" r="13.7"/><circle cx="414.5" cy="1114.7" r="13.7"/><circle cx="416.4" cy="1116.1" r="13.7"/><circle cx="418.3" cy="1112.9" r="13.7"/><circle cx="420.2" cy="1112.1" r="13.7"/><circle cx="422.1" cy="1121.1" r="13.7"/><circle cx="424" cy="1107.9" r="13.7"/><circle cx="425.9" cy="1109.2" r="13.7"/><circle cx="427.8" cy="1118" r="13.7"/><circle cx="429.7" cy="1127.5" r="13.7"/><circle cx="431.6" cy="1101.9" r="13.7"/><circle cx="433.5" cy="1100.8" r="13.7"/><circle cx="435.4" cy="1104.6" r="13.7"/><circle cx="437.3" cy="1103.7" r="13.7"/><circle cx="439.2" cy="1096.1" r="13.7"/><circle cx="441.1" cy="1109.5" r="13.7"/><circle cx="443" cy="1097.4" r="13.7"/><circle cx="444.9" cy="1113.8" r="13.7"/><circle cx="446.7" cy="1120.4" r="13.7"/><circle cx="448.6" cy="1112.1" r="13.7"/><circle cx="450.5" cy="1115.1" r="13.7"/><circle cx="452.4" cy="1107.6" r="13.7"/><circle cx="454.3" cy="1095.3" r="13.7"/><circle cx="456.2" cy="1108.2" r="13.7"/><circle cx="458.1" cy="1102.4" r="13.7"/><circle cx="460" cy="1092.3" r="13.7"/><circle cx="461.9" cy="1095.3" r="13.7"/><circle cx="463.8" cy="1111.1" r="13.7"/><circle cx="465.7" cy="1118.2" r="13.7"/><circle cx="467.6" cy="1092.2" r="13.7"/><circle cx="469.5" cy="1121.9" r="13.7"/><circle cx="471.4" cy="1128.8" r="13.7"/><circle cx="473.3" cy="1130.4" r="13.7"/><circle cx="475.2" cy="1101" r="13.7"/><circle cx="477.1" cy="1125.6" r="13.7"/><circle cx="479" cy="1114.2" r="13.7"/><circle cx="480.9" cy="1113.1" r="13.7"/><circle cx="482.8" cy="1099.7" r="13.7"/><circle cx="484.7" cy="1124.6" r="13.7"/><circle cx="486.6" cy="1111.4" r="13.7"/><circle cx="488.5" cy="1109" r="13.7"/><circle cx="490.4" cy="1098.7" r="13.7"/><circle cx="492.2" cy="1114.1" r="13.7"/><circle cx="494.1" cy="1109.3" r="13.7"/><circle cx="496" cy="1114.4" r="13.7"/><circle cx="497.9" cy="1101.6" r="13.7"/><circle cx="499.8" cy="1103" r="13.7"/><circle cx="501.7" cy="1115.4" r="13.7"/><circle cx="503.6" cy="1106.7" r="13.7"/><circle cx="505.5" cy="1125.6" r="13.7"/><circle cx="507.4" cy="1111.1" r="13.7"/><circle cx="509.3" cy="1120" r="13.7"/><circle cx="511.2" cy="1115.6" r="13.7"/><circle cx="513.1" cy="1102.3" r="13.7"/><circle cx="515" cy="1091.6" r="13.7"/><circle cx="516.9" cy="1109.7" r="13.7"/><circle cx="518.8" cy="1113" r="13.7"/><circle cx="520.7" cy="1114.8" r="13.7"/><circle cx="522.6" cy="1104.6" r="13.7"/><circle cx="524.5" cy="1113.3" r="13.7"/><circle cx="526.4" cy="1102.5" r="13.7"/><circle cx="528.3" cy="1097.3" r="13.7"/><circle cx="530.2" cy="1105.8" r="13.7"/><circle cx="532.1" cy="1115.2" r="13.7"/><circle cx="534" cy="1104.5" r="13.7"/><circle cx="535.9" cy="1118" r="13.7"/><circle cx="537.7" cy="1128" r="13.7"/><circle cx="539.6" cy="1100.9" r="13.7"/><circle cx="541.5" cy="1093.7" r="13.7"/><circle cx="543.4" cy="1099.2" r="13.7"/><circle cx="545.3" cy="1114.9" r="13.7"/><circle cx="547.2" cy="1143.2" r="13.7"/><circle cx="549.1" cy="1118.4" r="13.7"/><circle cx="551" cy="1105.8" r="13.7"/><circle cx="552.9" cy="1115.3" r="13.7"/><circle cx="554.8" cy="1098.6" r="13.7"/><circle cx="556.7" cy="1119.2" r="13.7"/><circle cx="558.6" cy="1107" r="13.7"/><circle cx="560.5" cy="1109.6" r="13.7"/><circle cx="562.4" cy="1109.3" r="13.7"/><circle cx="564.3" cy="1124.8" r="13.7"/><circle cx="566.2" cy="1112.6" r="13.7"/><circle cx="568.1" cy="1109.2" r="13.7"/><circle cx="570" cy="1115.5" r="13.7"/><circle cx="571.9" cy="1124" r="13.7"/><circle cx="573.8" cy="1116.3" r="13.7"/><circle cx="575.7" cy="1120.7" r="13.7"/><circle cx="577.6" cy="1108.5" r="13.7"/><circle cx="579.5" cy="1102.7" r="13.7"/><circle cx="581.4" cy="1108.7" r="13.7"/><circle cx="583.2" cy="1108.3" r="13.7"/><circle cx="585.1" cy="1113.5" r="13.7"/><circle cx="587" cy="1110" r="13.7"/><circle cx="588.9" cy="1130.1" r="13.7"/><circle cx="590.8" cy="1111.1" r="13.7"/><circle cx="592.7" cy="1103.5" r="13.7"/><circle cx="594.6" cy="1116.8" r="13.7"/><circle cx="596.5" cy="1105.3" r="13.7"/><circle cx="598.4" cy="1125.9" r="13.7"/><circle cx="600.3" cy="1111.4" r="13.7"/><circle cx="602.2" cy="1113.6" r="13.7"/><circle cx="604.1" cy="1107.5" r="13.7"/><circle cx="606" cy="1110.5" r="13.7"/><circle cx="607.9" cy="1091" r="13.7"/><circle cx="609.8" cy="1141.7" r="13.7"/><circle cx="611.7" cy="1125.5" r="13.7"/><circle cx="613.6" cy="1118.2" r="13.7"/><circle cx="615.5" cy="1111" r="13.7"/><circle cx="617.4" cy="1118" r="13.7"/><circle cx="619.3" cy="1118.2" r="13.7"/><circle cx="621.2" cy="1126.7" r="13.7"/><circle cx="623.1" cy="1124.7" r="13.7"/><circle cx="625" cy="1120.1" r="13.7"/><circle cx="626.8" cy="1097.7" r="13.7"/><circle cx="628.7" cy="1119.5" r="13.7"/><circle cx="630.6" cy="1086" r="13.7"/><circle cx="632.5" cy="1101.9" r="13.7"/><circle cx="634.4" cy="1114.6" r="13.7"/><circle cx="636.3" cy="1104.2" r="13.7"/><circle cx="638.2" cy="1102.3" r="13.7"/><circle cx="640.1" cy="1123.2" r="13.7"/><circle cx="642" cy="1127.1" r="13.7"/><circle cx="643.9" cy="1098.1" r="13.7"/><circle cx="645.8" cy="1120.9" r="13.7"/><circle cx="647.7" cy="1103.7" r="13.7"/><circle cx="649.6" cy="1105.5" r="13.7"/><circle cx="651.5" cy="1127.6" r="13.7"/><circle cx="653.4" cy="1105.8" r="13.7"/><circle cx="655.3" cy="1106.6" r="13.7"/><circle cx="657.2" cy="1099.8" r="13.7"/><circle cx="659.1" cy="1112.2" r="13.7"/><circle cx="661" cy="1107.6" r="13.7"/><circle cx="662.9" cy="1108.3" r="13.7"/><circle cx="664.8" cy="1114.1" r="13.7"/><circle cx="666.7" cy="1096.5" r="13.7"/><circle cx="668.6" cy="1102.8" r="13.7"/><circle cx="670.5" cy="1097.4" r="13.7"/><circle cx="672.3" cy="1108.5" r="13.7"/><circle cx="674.2" cy="1100.9" r="13.7"/><circle cx="676.1" cy="1120.8" r="13.7"/><circle cx="678" cy="1117.7" r="13.7"/><circle cx="679.9" cy="1102.5" r="13.7"/><circle cx="681.8" cy="1114" r="13.7"/><circle cx="683.7" cy="1115.6" r="13.7"/><circle cx="685.6" cy="1110.4" r="13.7"/><circle cx="687.5" cy="1126.7" r="13.7"/><circle cx="689.4" cy="1110.3" r="13.7"/><circle cx="691.3" cy="1107.3" r="13.7"/><circle cx="693.2" cy="1114.9" r="13.7"/><circle cx="695.1" cy="1122.4" r="13.7"/><circle cx="697" cy="1095.4" r="13.7"/><circle cx="698.9" cy="1107.9" r="13.7"/><circle cx="700.8" cy="1121.5" r="13.7"/><circle cx="702.7" cy="1117.4" r="13.7"/><circle cx="704.6" cy="1127.1" r="13.7"/><circle cx="706.5" cy="1128.3" r="13.7"/><circle cx="708.4" cy="1129.9" r="13.7"/><circle cx="710.3" cy="1119.7" r="13.7"/><circle cx="712.2" cy="1107.9" r="13.7"/><circle cx="714.1" cy="1104.9" r="13.7"/><circle cx="716" cy="1113" r="13.7"/><circle cx="717.8" cy="1102.3" r="13.7"/><circle cx="719.7" cy="1106.5" r="13.7"/><circle cx="721.6" cy="1122.7" r="13.7"/><circle cx="723.5" cy="1119.8" r="13.7"/><circle cx="725.4" cy="1109.2" r="13.7"/><circle cx="727.3" cy="1105.5" r="13.7"/><circle cx="729.2" cy="1101.7" r="13.7"/><circle cx="731.1" cy="1124.8" r="13.7"/><circle cx="733" cy="1130.1" r="13.7"/><circle cx="734.9" cy="1092.9" r="13.7"/><circle cx="736.8" cy="1114.5" r="13.7"/><circle cx="738.7" cy="1102.4" r="13.7"/><circle cx="740.6" cy="1111.5" r="13.7"/><circle cx="742.5" cy="1124.8" r="13.7"/><circle cx="744.4" cy="1098.6" r="13.7"/><circle cx="746.3" cy="1107.4" r="13.7"/><circle cx="748.2" cy="1097.9" r="13.7"/><circle cx="750.1" cy="1106" r="13.7"/><circle cx="752" cy="1121" r="13.7"/><circle cx="753.9" cy="1112.1" r="13.7"/><circle cx="755.8" cy="1102.3" r="13.7"/><circle cx="757.7" cy="1118.2" r="13.7"/><circle cx="759.6" cy="1109.9" r="13.7"/><circle cx="761.5" cy="1100.7" r="13.7"/><circle cx="763.3" cy="1123.3" r="13.7"/><circle cx="765.2" cy="1115.1" r="13.7"/><circle cx="767.1" cy="1110" r="13.7"/><circle cx="769" cy="1102.6" r="13.7"/><circle cx="770.9" cy="1112.5" r="13.7"/><circle cx="772.8" cy="1118.3" r="13.7"/><circle cx="774.7" cy="1106.3" r="13.7"/><circle cx="776.6" cy="1117.3" r="13.7"/><circle cx="778.5" cy="1107.6" r="13.7"/><circle cx="780.4" cy="1108.2" r="13.7"/><circle cx="782.3" cy="1113.4" r="13.7"/><circle cx="784.2" cy="1103.5" r="13.7"/><circle cx="786.1" cy="1100.5" r="13.7"/><circle cx="788" cy="1123.8" r="13.7"/><circle cx="789.9" cy="1106.6" r="13.7"/><circle cx="791.8" cy="1113.1" r="13.7"/><circle cx="793.7" cy="1114.3" r="13.7"/><circle cx="795.6" cy="1110.7" r="13.7"/><circle cx="797.5" cy="1100.4" r="13.7"/><circle cx="799.4" cy="1112.9" r="13.7"/><circle cx="801.3" cy="1114.5" r="13.7"/><circle cx="803.2" cy="1123.2" r="13.7"/><circle cx="805.1" cy="1113" r="13.7"/><circle cx="807" cy="1111.4" r="13.7"/><circle cx="808.8" cy="1120.4" r="13.7"/><circle cx="810.7" cy="1114.3" r="13.7"/><circle cx="812.6" cy="1106.9" r="13.7"/><circle cx="814.5" cy="1098.3" r="13.7"/><circle cx="816.4" cy="1114" r="13.7"/><circle cx="818.3" cy="1092.6" r="13.7"/><circle cx="820.2" cy="1102" r="13.7"/><circle cx="822.1" cy="1103.1" r="13.7"/><circle cx="824" cy="1105.7" r="13.7"/><circle cx="825.9" cy="1110.3" r="13.7"/><circle cx="827.8" cy="1117.1" r="13.7"/><circle cx="829.7" cy="1111.8" r="13.7"/><circle cx="831.6" cy="1110.6" r="13.7"/><circle cx="833.5" cy="1109.6" r="13.7"/><circle cx="835.4" cy="1096.6" r="13.7"/><circle cx="837.3" cy="1092.3" r="13.7"/><circle cx="839.2" cy="1106" r="13.7"/><circle cx="841.1" cy="1101.6" r="13.7"/><circle cx="843" cy="1117.4" r="13.7"/><circle cx="844.9" cy="1129.5" r="13.7"/><circle cx="846.8" cy="1111.9" r="13.7"/><circle cx="848.7" cy="1108.6" r="13.7"/><circle cx="850.6" cy="1097.7" r="13.7"/><circle cx="852.4" cy="1088.2" r="13.7"/><circle cx="854.3" cy="1108.3" r="13.7"/><circle cx="856.2" cy="1098.6" r="13.7"/><circle cx="858.1" cy="1100.4" r="13.7"/><circle cx="860" cy="1108.8" r="13.7"/><circle cx="861.9" cy="1103" r="13.7"/><circle cx="863.8" cy="1107.2" r="13.7"/><circle cx="865.7" cy="1096.2" r="13.7"/><circle cx="867.6" cy="1120.6" r="13.7"/><circle cx="869.5" cy="1132.4" r="13.7"/><circle cx="871.4" cy="1109.5" r="13.7"/><circle cx="873.3" cy="1102" r="13.7"/><circle cx="875.2" cy="1100.8" r="13.7"/><circle cx="877.1" cy="1116" r="13.7"/><circle cx="879" cy="1105.6" r="13.7"/><circle cx="880.9" cy="1116.8" r="13.7"/><circle cx="882.8" cy="1104.3" r="13.7"/><circle cx="884.7" cy="1117.6" r="13.7"/><circle cx="886.6" cy="1120.7" r="13.7"/><circle cx="888.5" cy="1101.8" r="13.7"/><circle cx="890.4" cy="1122.4" r="13.7"/><circle cx="892.3" cy="1124.4" r="13.7"/><circle cx="894.2" cy="1103.2" r="13.7"/><circle cx="896.1" cy="1109.7" r="13.7"/><circle cx="897.9" cy="1132.3" r="13.7"/><circle cx="899.8" cy="1099.6" r="13.7"/><circle cx="901.7" cy="1122.1" r="13.7"/><circle cx="903.6" cy="1114.9" r="13.7"/><circle cx="905.5" cy="1111.7" r="13.7"/><circle cx="907.4" cy="1091.8" r="13.7"/><circle cx="909.3" cy="1110.8" r="13.7"/><circle cx="911.2" cy="1102.1" r="13.7"/><circle cx="913.1" cy="1111.9" r="13.7"/><circle cx="915" cy="1105.8" r="13.7"/><circle cx="916.9" cy="1123.8" r="13.7"/><circle cx="918.8" cy="1110.6" r="13.7"/><circle cx="920.7" cy="1116.3" r="13.7"/><circle cx="922.6" cy="1120.1" r="13.7"/><circle cx="924.5" cy="1107.8" r="13.7"/><circle cx="926.4" cy="1100.9" r="13.7"/><circle cx="928.3" cy="1106.1" r="13.7"/><circle cx="930.2" cy="1113.5" r="13.7"/><circle cx="932.1" cy="1103.7" r="13.7"/><circle cx="934" cy="1121" r="13.7"/><circle cx="935.9" cy="1107.6" r="13.7"/><circle cx="937.8" cy="1105.7" r="13.7"/><circle cx="939.7" cy="1111.4" r="13.7"/><circle cx="941.6" cy="1113" r="13.7"/><circle cx="943.4" cy="1109.5" r="13.7"/><circle cx="945.3" cy="1115.9" r="13.7"/><circle cx="947.2" cy="1112.7" r="13.7"/><circle cx="949.1" cy="1103.7" r="13.7"/><circle cx="951" cy="1128.6" r="13.7"/><circle cx="952.9" cy="1098.9" r="13.7"/><circle cx="954.8" cy="1106.3" r="13.7"/><circle cx="956.7" cy="1108.6" r="13.7"/><circle cx="958.6" cy="1120" r="13.7"/><circle cx="960.5" cy="1114.5" r="13.7"/><circle cx="962.4" cy="1116.2" r="13.7"/><circle cx="964.3" cy="1104.3" r="13.7"/><circle cx="966.2" cy="1104.7" r="13.7"/><circle cx="968.1" cy="1099.9" r="13.7"/><circle cx="970" cy="1110.1" r="13.7"/><circle cx="971.9" cy="1129.6" r="13.7"/><circle cx="973.8" cy="1119.7" r="13.7"/><circle cx="975.7" cy="1114.2" r="13.7"/><circle cx="977.6" cy="1107.7" r="13.7"/><circle cx="979.5" cy="1124.8" r="13.7"/><circle cx="981.4" cy="1112.7" r="13.7"/><circle cx="983.3" cy="1110.2" r="13.7"/><circle cx="985.2" cy="1116.4" r="13.7"/><circle cx="987.1" cy="1112.6" r="13.7"/><circle cx="988.9" cy="1089.6" r="13.7"/><circle cx="990.8" cy="1111" r="13.7"/><circle cx="992.7" cy="1092.4" r="13.7"/><circle cx="994.6" cy="1108.7" r="13.7"/><circle cx="996.5" cy="1117.5" r="13.7"/><circle cx="998.4" cy="1105.8" r="13.7"/><circle cx="1000.3" cy="1114.7" r="13.7"/><circle cx="1002.2" cy="1111.5" r="13.7"/><circle cx="1004.1" cy="1131.9" r="13.7"/><circle cx="1006" cy="1107.7" r="13.7"/><circle cx="1007.9" cy="1116.4" r="13.7"/><circle cx="1009.8" cy="1100.5" r="13.7"/><circle cx="1011.7" cy="1110" r="13.7"/><circle cx="1013.6" cy="1114.6" r="13.7"/><circle cx="1015.5" cy="1120.8" r="13.7"/><circle cx="1017.4" cy="1110.9" r="13.7"/><circle cx="1019.3" cy="1114.6" r="13.7"/><circle cx="1021.2" cy="1118.3" r="13.7"/><circle cx="1023.1" cy="1093.7" r="13.7"/><circle cx="1025" cy="1112.4" r="13.7"/><circle cx="1026.9" cy="1102.8" r="13.7"/><circle cx="1028.8" cy="1097.5" r="13.7"/><circle cx="1030.7" cy="1107.4" r="13.7"/><circle cx="1032.6" cy="1105.3" r="13.7"/><circle cx="1034.4" cy="1106.4" r="13.7"/><circle cx="1036.3" cy="1102.2" r="13.7"/><circle cx="1038.2" cy="1105.8" r="13.7"/><circle cx="1040.1" cy="1106.5" r="13.7"/><circle cx="1042" cy="1109.9" r="13.7"/><circle cx="1043.9" cy="1115.6" r="13.7"/><circle cx="1045.8" cy="1115.2" r="13.7"/><circle cx="1047.7" cy="1117.1" r="13.7"/><circle cx="1049.6" cy="1109.4" r="13.7"/><circle cx="1051.5" cy="1099" r="13.7"/><circle cx="1053.4" cy="1119.9" r="13.7"/><circle cx="1055.3" cy="1116.8" r="13.7"/><circle cx="1057.2" cy="1120.3" r="13.7"/><circle cx="1059.1" cy="1111.7" r="13.7"/><circle cx="1061" cy="1101.7" r="13.7"/><circle cx="1062.9" cy="1114.3" r="13.7"/><circle cx="1064.8" cy="1108.4" r="13.7"/><circle cx="1066.7" cy="1132.7" r="13.7"/><circle cx="1068.6" cy="1112.6" r="13.7"/><circle cx="1070.5" cy="1106.7" r="13.7"/><circle cx="1072.4" cy="1116.9" r="13.7"/><circle cx="1074.3" cy="1126.3" r="13.7"/><circle cx="1076.2" cy="1107" r="13.7"/><circle cx="1078" cy="1112.2" r="13.7"/><circle cx="1079.9" cy="1094.4" r="13.7"/><circle cx="1081.8" cy="1116.6" r="13.7"/><circle cx="1083.7" cy="1112.7" r="13.7"/><circle cx="1085.6" cy="1114.7" r="13.7"/><circle cx="1087.5" cy="1110.3" r="13.7"/><circle cx="1089.4" cy="1128.1" r="13.7"/><circle cx="1091.3" cy="1098.6" r="13.7"/><circle cx="1093.2" cy="1105.3" r="13.7"/><circle cx="1095.1" cy="1113.3" r="13.7"/><circle cx="1097" cy="1114.5" r="13.7"/><circle cx="1098.9" cy="1106.4" r="13.7"/><circle cx="1100.8" cy="1107.9" r="13.7"/><circle cx="1102.7" cy="1115.1" r="13.7"/><circle cx="1104.6" cy="1112.8" r="13.7"/><circle cx="1106.5" cy="1108" r="13.7"/><circle cx="1108.4" cy="1115.1" r="13.7"/><circle cx="1110.3" cy="1114.3" r="13.7"/><circle cx="1112.2" cy="1115.1" r="13.7"/><circle cx="1114.1" cy="1114.5" r="13.7"/><circle cx="1116" cy="1123.2" r="13.7"/><circle cx="1117.9" cy="1119.9" r="13.7"/><circle cx="1119.8" cy="1107.8" r="13.7"/><circle cx="1121.7" cy="1103.9" r="13.7"/><circle cx="1123.5" cy="1111.7" r="13.7"/><circle cx="1125.4" cy="1144.3" r="13.7"/><circle cx="1127.3" cy="1124.9" r="13.7"/><circle cx="1129.2" cy="1107.4" r="13.7"/><circle cx="1131.1" cy="1095.6" r="13.7"/><circle cx="1133" cy="1100" r="13.7"/><circle cx="1134.9" cy="1113.1" r="13.7"/><circle cx="1136.8" cy="1114.4" r="13.7"/><circle cx="1138.7" cy="1115.2" r="13.7"/><circle cx="1140.6" cy="1095.1" r="13.7"/><circle cx="1142.5" cy="1109" r="13.7"/><circle cx="1144.4" cy="1119.7" r="13.7"/><circle cx="1146.3" cy="1102.4" r="13.7"/><circle cx="1148.2" cy="1103.5" r="13.7"/><circle cx="1150.1" cy="1129.8" r="13.7"/><circle cx="1152" cy="1117" r="13.7"/><circle cx="1153.9" cy="1101.8" r="13.7"/><circle cx="1155.8" cy="1102.7" r="13.7"/><circle cx="1157.7" cy="1122.6" r="13.7"/><circle cx="1159.6" cy="1111.1" r="13.7"/><circle cx="1161.5" cy="1103" r="13.7"/><circle cx="1163.4" cy="1107.9" r="13.7"/><circle cx="1165.3" cy="1120.8" r="13.7"/><circle cx="1167.2" cy="1112.8" r="13.7"/><circle cx="1169" cy="1105" r="13.7"/><circle cx="1170.9" cy="1106.6" r="13.7"/><circle cx="1172.8" cy="1120" r="13.7"/><circle cx="1174.7" cy="1089.4" r="13.7"/><circle cx="1176.6" cy="1109" r="13.7"/><circle cx="1178.5" cy="1124.9" r="13.7"/><circle cx="1180.4" cy="1114.1" r="13.7"/><circle cx="1182.3" cy="1136.3" r="13.7"/><circle cx="1184.2" cy="1117.4" r="13.7"/><circle cx="1186.1" cy="1111.4" r="13.7"/><circle cx="1188" cy="1088.8" r="13.7"/><circle cx="1189.9" cy="1109.2" r="13.7"/><circle cx="1191.8" cy="1107.6" r="13.7"/><circle cx="1193.7" cy="1104" r="13.7"/><circle cx="1195.6" cy="1109" r="13.7"/><circle cx="1197.5" cy="1116.5" r="13.7"/><circle cx="1199.4" cy="1098.4" r="13.7"/><circle cx="1201.3" cy="1106.2" r="13.7"/><circle cx="1203.2" cy="1096.7" r="13.7"/><circle cx="1205.1" cy="1101.4" r="13.7"/><circle cx="1207" cy="1119.5" r="13.7"/><circle cx="1208.9" cy="1115.1" r="13.7"/><circle cx="1210.8" cy="1114.6" r="13.7"/><circle cx="1212.7" cy="1114.4" r="13.7"/><circle cx="1214.5" cy="1106.8" r="13.7"/><circle cx="1216.4" cy="1112.5" r="13.7"/><circle cx="1218.3" cy="1118.2" r="13.7"/><circle cx="1220.2" cy="1097.4" r="13.7"/><circle cx="1222.1" cy="1098.3" r="13.7"/><circle cx="1224" cy="1110.5" r="13.7"/><circle cx="1225.9" cy="1120.6" r="13.7"/><circle cx="1227.8" cy="1116.5" r="13.7"/><circle cx="1229.7" cy="1117.7" r="13.7"/><circle cx="1231.6" cy="1119" r="13.7"/><circle cx="1233.5" cy="1119.7" r="13.7"/><circle cx="1235.4" cy="1108.6" r="13.7"/><circle cx="1237.3" cy="1108.1" r="13.7"/><circle cx="1239.2" cy="1106.8" r="13.7"/><circle cx="1241.1" cy="1119.3" r="13.7"/><circle cx="1243" cy="1108.1" r="13.7"/><circle cx="1244.9" cy="1092.5" r="13.7"/><circle cx="1246.8" cy="1108.6" r="13.7"/><circle cx="1248.7" cy="1114.4" r="13.7"/><circle cx="1250.6" cy="1085.7" r="13.7"/><circle cx="1252.5" cy="1107.9" r="13.7"/><circle cx="1254.4" cy="1116.5" r="13.7"/><circle cx="1256.3" cy="1102.7" r="13.7"/><circle cx="1258.2" cy="1117.3" r="13.7"/><circle cx="1260" cy="1114.1" r="13.7"/><circle cx="1261.9" cy="1101.5" r="13.7"/><circle cx="1263.8" cy="1116.3" r="13.7"/><circle cx="1265.7" cy="1124.3" r="13.7"/><circle cx="1267.6" cy="1104.3" r="13.7"/><circle cx="1269.5" cy="1103.1" r="13.7"/><circle cx="1271.4" cy="1123.4" r="13.7"/><circle cx="1273.3" cy="1113.9" r="13.7"/><circle cx="1275.2" cy="1100.8" r="13.7"/><circle cx="1277.1" cy="1108.4" r="13.7"/><circle cx="1279" cy="1103.1" r="13.7"/><circle cx="1280.9" cy="1111.8" r="13.7"/><circle cx="1282.8" cy="1116.5" r="13.7"/><circle cx="1284.7" cy="1115.8" r="13.7"/><circle cx="1286.6" cy="1113.5" r="13.7"/><circle cx="1288.5" cy="1109" r="13.7"/><circle cx="1290.4" cy="1135.3" r="13.7"/><circle cx="1292.3" cy="1128.2" r="13.7"/><circle cx="1294.2" cy="1110.5" r="13.7"/><circle cx="1296.1" cy="1104.5" r="13.7"/><circle cx="1298" cy="1116.6" r="13.7"/><circle cx="1299.9" cy="1110.5" r="13.7"/><circle cx="1301.8" cy="1120.4" r="13.7"/><circle cx="1303.6" cy="1123.2" r="13.7"/><circle cx="1305.5" cy="1109.1" r="13.7"/><circle cx="1307.4" cy="1111.2" r="13.7"/><circle cx="1309.3" cy="1115.2" r="13.7"/><circle cx="1311.2" cy="1122.5" r="13.7"/><circle cx="1313.1" cy="1109.9" r="13.7"/><circle cx="1315" cy="1111.1" r="13.7"/><circle cx="1316.9" cy="1112.9" r="13.7"/><circle cx="1318.8" cy="1111.7" r="13.7"/><circle cx="1320.7" cy="1113.9" r="13.7"/><circle cx="1322.6" cy="1105.8" r="13.7"/><circle cx="1324.5" cy="1107" r="13.7"/><circle cx="1326.4" cy="1094.4" r="13.7"/><circle cx="1328.3" cy="1097.8" r="13.7"/><circle cx="1330.2" cy="1111.1" r="13.7"/><circle cx="1332.1" cy="1121.9" r="13.7"/><circle cx="1334" cy="1104.9" r="13.7"/><circle cx="1335.9" cy="1116.2" r="13.7"/><circle cx="1337.8" cy="1096.9" r="13.7"/><circle cx="1339.7" cy="1124.3" r="13.7"/><circle cx="1341.6" cy="1114.7" r="13.7"/><circle cx="1343.5" cy="1096.8" r="13.7"/><circle cx="1345.4" cy="1110.7" r="13.7"/><circle cx="1347.3" cy="1104.2" r="13.7"/><circle cx="1349.1" cy="1104.8" r="13.7"/><circle cx="1351" cy="1115.3" r="13.7"/><circle cx="1352.9" cy="1103.2" r="13.7"/><circle cx="1354.8" cy="1118.7" r="13.7"/><circle cx="1356.7" cy="1113.8" r="13.7"/><circle cx="1358.6" cy="1091.5" r="13.7"/><circle cx="1360.5" cy="1112.5" r="13.7"/><circle cx="1362.4" cy="1107.5" r="13.7"/><circle cx="1364.3" cy="1120.6" r="13.7"/><circle cx="1366.2" cy="1098.7" r="13.7"/><circle cx="1368.1" cy="1119.2" r="13.7"/><circle cx="1370" cy="1117.6" r="13.7"/><circle cx="1371.9" cy="1116.4" r="13.7"/><circle cx="1373.8" cy="1119.5" r="13.7"/><circle cx="1375.7" cy="1123.8" r="13.7"/><circle cx="1377.6" cy="1113.6" r="13.7"/><circle cx="1379.5" cy="1115.4" r="13.7"/><circle cx="1381.4" cy="1111.9" r="13.7"/><circle cx="1383.3" cy="1119.9" r="13.7"/><circle cx="1385.2" cy="1119.2" r="13.7"/><circle cx="1387.1" cy="1113.9" r="13.7"/><circle cx="1389" cy="1111" r="13.7"/><circle cx="1390.9" cy="1119.4" r="13.7"/><circle cx="1392.8" cy="1111.4" r="13.7"/><circle cx="1394.6" cy="1113.2" r="13.7"/><circle cx="1396.5" cy="1101.5" r="13.7"/><circle cx="1398.4" cy="1105.3" r="13.7"/><circle cx="1400.3" cy="1106.5" r="13.7"/><circle cx="1402.2" cy="1101.9" r="13.7"/><circle cx="1404.1" cy="1116.8" r="13.7"/><circle cx="1406" cy="1098.8" r="13.7"/><circle cx="1407.9" cy="1109.4" r="13.7"/><circle cx="1409.8" cy="1115.5" r="13.7"/><circle cx="1411.7" cy="1107.4" r="13.7"/><circle cx="1413.6" cy="1120.8" r="13.7"/><circle cx="1415.5" cy="1094.9" r="13.7"/><circle cx="1417.4" cy="1108.8" r="13.7"/><circle cx="1419.3" cy="1124.6" r="13.7"/><circle cx="1421.2" cy="1121.3" r="13.7"/><circle cx="1423.1" cy="1115.7" r="13.7"/><circle cx="1425" cy="1116.1" r="13.7"/><circle cx="1426.9" cy="1107" r="13.7"/><circle cx="1428.8" cy="1103.1" r="13.7"/><circle cx="1430.7" cy="1101.8" r="13.7"/><circle cx="1432.6" cy="1106.2" r="13.7"/><circle cx="1434.5" cy="1119.6" r="13.7"/><circle cx="1436.4" cy="1100.9" r="13.7"/><circle cx="1438.3" cy="1099.9" r="13.7"/><circle cx="1440.1" cy="1128.7" r="13.7"/><circle cx="1442" cy="1116.3" r="13.7"/><circle cx="1443.9" cy="1114.3" r="13.7"/><circle cx="1445.8" cy="1118.2" r="13.7"/><circle cx="1447.7" cy="1101.7" r="13.7"/><circle cx="1449.6" cy="1106.9" r="13.7"/><circle cx="1451.5" cy="1110.6" r="13.7"/><circle cx="1453.4" cy="1122.2" r="13.7"/><circle cx="1455.3" cy="1129.8" r="13.7"/><circle cx="1457.2" cy="1119.6" r="13.7"/><circle cx="1459.1" cy="1118.7" r="13.7"/><circle cx="1461" cy="1119.3" r="13.7"/><circle cx="1462.9" cy="1130.4" r="13.7"/><circle cx="1464.8" cy="1125.1" r="13.7"/><circle cx="1466.7" cy="1115.1" r="13.7"/><circle cx="1468.6" cy="1108.2" r="13.7"/><circle cx="1470.5" cy="1116.1" r="13.7"/><circle cx="1472.4" cy="1113.4" r="13.7"/><circle cx="1474.3" cy="1111.9" r="13.7"/><circle cx="1476.2" cy="1111.9" r="13.7"/><circle cx="1478.1" cy="1100.4" r="13.7"/><circle cx="1480" cy="1118.5" r="13.7"/><circle cx="1481.9" cy="1109.4" r="13.7"/><circle cx="1483.8" cy="1123.3" r="13.7"/><circle cx="1485.6" cy="1100.6" r="13.7"/><circle cx="1487.5" cy="1104.7" r="13.7"/><circle cx="1489.4" cy="1102.3" r="13.7"/><circle cx="1491.3" cy="1110.3" r="13.7"/><circle cx="1493.2" cy="1112.4" r="13.7"/><circle cx="1495.1" cy="1122.9" r="13.7"/><circle cx="1497" cy="1108.4" r="13.7"/><circle cx="1498.9" cy="1098.9" r="13.7"/><circle cx="1500.8" cy="1136.5" r="13.7"/><circle cx="1502.7" cy="1095.3" r="13.7"/><circle cx="1504.6" cy="1118.7" r="13.7"/><circle cx="1506.5" cy="1106.9" r="13.7"/><circle cx="1508.4" cy="1118.7" r="13.7"/><circle cx="1510.3" cy="1112.6" r="13.7"/><circle cx="1512.2" cy="1103.8" r="13.7"/><circle cx="1514.1" cy="1112.9" r="13.7"/><circle cx="1516" cy="1094.8" r="13.7"/><circle cx="1517.9" cy="1110.9" r="13.7"/><circle cx="1519.8" cy="1105.3" r="13.7"/><circle cx="1521.7" cy="1116.8" r="13.7"/><circle cx="1523.6" cy="1115.8" r="13.7"/><circle cx="1525.5" cy="1114.9" r="13.7"/><circle cx="1527.4" cy="1106.6" r="13.7"/><circle cx="1529.2" cy="1096.1" r="13.7"/><circle cx="1531.1" cy="1110.9" r="13.7"/><circle cx="1533" cy="1122.9" r="13.7"/><circle cx="1534.9" cy="1116.8" r="13.7"/><circle cx="1536.8" cy="1123.7" r="13.7"/><circle cx="1538.7" cy="1106.8" r="13.7"/><circle cx="1540.6" cy="1111" r="13.7"/><circle cx="1542.5" cy="1121" r="13.7"/><circle cx="1544.4" cy="1114.5" r="13.7"/><circle cx="1546.3" cy="1102.7" r="13.7"/><circle cx="1548.2" cy="1107" r="13.7"/><circle cx="1550.1" cy="1116.4" r="13.7"/><circle cx="1552" cy="1104.3" r="13.7"/><circle cx="1553.9" cy="1107.6" r="13.7"/><circle cx="1555.8" cy="1116.2" r="13.7"/><circle cx="1557.7" cy="1109.5" r="13.7"/><circle cx="1559.6" cy="1094.1" r="13.7"/><circle cx="1561.5" cy="1121.2" r="13.7"/><circle cx="1563.4" cy="1101.9" r="13.7"/><circle cx="1565.3" cy="1112.5" r="13.7"/><circle cx="1567.2" cy="1105.4" r="13.7"/><circle cx="1569.1" cy="1107.6" r="13.7"/><circle cx="1571" cy="1108.6" r="13.7"/><circle cx="1572.9" cy="1112.6" r="13.7"/><circle cx="1574.7" cy="1111.2" r="13.7"/><circle cx="1576.6" cy="1105" r="13.7"/><circle cx="1578.5" cy="1107" r="13.7"/><circle cx="1580.4" cy="1124.5" r="13.7"/><circle cx="1582.3" cy="1107" r="13.7"/><circle cx="1584.2" cy="1099.2" r="13.7"/><circle cx="1586.1" cy="1103" r="13.7"/><circle cx="1588" cy="1109.3" r="13.7"/><circle cx="1589.9" cy="1127.8" r="13.7"/><circle cx="1591.8" cy="1105.8" r="13.7"/><circle cx="1593.7" cy="1105.1" r="13.7"/><circle cx="1595.6" cy="1097.8" r="13.7"/><circle cx="1597.5" cy="1119.9" r="13.7"/><circle cx="1599.4" cy="1113.3" r="13.7"/><circle cx="1601.3" cy="1116" r="13.7"/><circle cx="1603.2" cy="1113.7" r="13.7"/><circle cx="1605.1" cy="1127" r="13.7"/><circle cx="1607" cy="1115.5" r="13.7"/><circle cx="1608.9" cy="1115.2" r="13.7"/><circle cx="1610.8" cy="1114.7" r="13.7"/><circle cx="1612.7" cy="1096.7" r="13.7"/><circle cx="1614.6" cy="1117" r="13.7"/><circle cx="1616.5" cy="1115.3" r="13.7"/><circle cx="1618.4" cy="1101" r="13.7"/><circle cx="1620.2" cy="1116.4" r="13.7"/><circle cx="1622.1" cy="1100.3" r="13.7"/><circle cx="1624" cy="1107.2" r="13.7"/><circle cx="1625.9" cy="1117" r="13.7"/><circle cx="1627.8" cy="1117.8" r="13.7"/><circle cx="1629.7" cy="1110" r="13.7"/><circle cx="1631.6" cy="1113.1" r="13.7"/><circle cx="1633.5" cy="1110.4" r="13.7"/><circle cx="1635.4" cy="1116.6" r="13.7"/><circle cx="1637.3" cy="1105.9" r="13.7"/><circle cx="1639.2" cy="1117.5" r="13.7"/><circle cx="1641.1" cy="1115.6" r="13.7"/><circle cx="1643" cy="1113" r="13.7"/><circle cx="1644.9" cy="1122.8" r="13.7"/><circle cx="1646.8" cy="1114.2" r="13.7"/><circle cx="1648.7" cy="1113.2" r="13.7"/><circle cx="1650.6" cy="1124.6" r="13.7"/><circle cx="1652.5" cy="1127.7" r="13.7"/><circle cx="1654.4" cy="1100" r="13.7"/><circle cx="1656.3" cy="1113.8" r="13.7"/><circle cx="1658.2" cy="1112.7" r="13.7"/><circle cx="1660.1" cy="1117.2" r="13.7"/><circle cx="1662" cy="1096.9" r="13.7"/><circle cx="1663.9" cy="1113.3" r="13.7"/><circle cx="1665.7" cy="1127.7" r="13.7"/><circle cx="1667.6" cy="1106.9" r="13.7"/><circle cx="1669.5" cy="1120.3" r="13.7"/><circle cx="1671.4" cy="1107.4" r="13.7"/><circle cx="1673.3" cy="1112.6" r="13.7"/><circle cx="1675.2" cy="1099.7" r="13.7"/><circle cx="1677.1" cy="1107" r="13.7"/><circle cx="1679" cy="1114.8" r="13.7"/><circle cx="1680.9" cy="1098.3" r="13.7"/><circle cx="1682.8" cy="1086.3" r="13.7"/><circle cx="1684.7" cy="1116.2" r="13.7"/><circle cx="1686.6" cy="1101.3" r="13.7"/><circle cx="1688.5" cy="1107.8" r="13.7"/><circle cx="1690.4" cy="1107.1" r="13.7"/><circle cx="1692.3" cy="1122.6" r="13.7"/><circle cx="1694.2" cy="1120.2" r="13.7"/><circle cx="1696.1" cy="1098.2" r="13.7"/><circle cx="1698" cy="1109.8" r="13.7"/><circle cx="1699.9" cy="1116.1" r="13.7"/><circle cx="1701.8" cy="1094.7" r="13.7"/><circle cx="1703.7" cy="1100" r="13.7"/><circle cx="1705.6" cy="1104.4" r="13.7"/><circle cx="1707.5" cy="1120.2" r="13.7"/><circle cx="1709.4" cy="1111.3" r="13.7"/><circle cx="1711.2" cy="1097.7" r="13.7"/><circle cx="1713.1" cy="1129.9" r="13.7"/><circle cx="1715" cy="1125.8" r="13.7"/><circle cx="1716.9" cy="1118.5" r="13.7"/><circle cx="1718.8" cy="1102.2" r="13.7"/><circle cx="1720.7" cy="1109.1" r="13.7"/><circle cx="1722.6" cy="1106.8" r="13.7"/><circle cx="1724.5" cy="1109.4" r="13.7"/><circle cx="1726.4" cy="1110.2" r="13.7"/><circle cx="1728.3" cy="1100" r="13.7"/><circle cx="1730.2" cy="1077.9" r="13.7"/><circle cx="1732.1" cy="1106.8" r="13.7"/><circle cx="1734" cy="1099" r="13.7"/><circle cx="1735.9" cy="1115.2" r="13.7"/><circle cx="1737.8" cy="1096.3" r="13.7"/><circle cx="1739.7" cy="1110.2" r="13.7"/><circle cx="1741.6" cy="1109.4" r="13.7"/><circle cx="1743.5" cy="1115.4" r="13.7"/><circle cx="1745.4" cy="1118.1" r="13.7"/><circle cx="1747.3" cy="1116.1" r="13.7"/><circle cx="1749.2" cy="1120.1" r="13.7"/><circle cx="1751.1" cy="1123" r="13.7"/><circle cx="1753" cy="1094" r="13.7"/><circle cx="1754.9" cy="1107" r="13.7"/><circle cx="1756.7" cy="1101.9" r="13.7"/><circle cx="1758.6" cy="1106.4" r="13.7"/><circle cx="1760.5" cy="1124.3" r="13.7"/><circle cx="1762.4" cy="1110.8" r="13.7"/><circle cx="1764.3" cy="1119.3" r="13.7"/><circle cx="1766.2" cy="1118.5" r="13.7"/><circle cx="1768.1" cy="1112.1" r="13.7"/><circle cx="1770" cy="1109.5" r="13.7"/><circle cx="1771.9" cy="1110.2" r="13.7"/><circle cx="1773.8" cy="1109.9" r="13.7"/><circle cx="1775.7" cy="1113.8" r="13.7"/><circle cx="1777.6" cy="1110.8" r="13.7"/><circle cx="1779.5" cy="1099.5" r="13.7"/><circle cx="1781.4" cy="1090.7" r="13.7"/><circle cx="1783.3" cy="1100.7" r="13.7"/><circle cx="1785.2" cy="1113.1" r="13.7"/><circle cx="1787.1" cy="1107.4" r="13.7"/><circle cx="1789" cy="1102.1" r="13.7"/><circle cx="1790.9" cy="1101.7" r="13.7"/><circle cx="1792.8" cy="1099.7" r="13.7"/><circle cx="1794.7" cy="1099.5" r="13.7"/><circle cx="1796.6" cy="1107.3" r="13.7"/><circle cx="1798.5" cy="1113.7" r="13.7"/><circle cx="1800.3" cy="1125.4" r="13.7"/><circle cx="1802.2" cy="1101.1" r="13.7"/><circle cx="1804.1" cy="1105.4" r="13.7"/><circle cx="1806" cy="1119.1" r="13.7"/><circle cx="1807.9" cy="1111" r="13.7"/><circle cx="1809.8" cy="1114.8" r="13.7"/><circle cx="1811.7" cy="1115.2" r="13.7"/><circle cx="1813.6" cy="1094.9" r="13.7"/><circle cx="1815.5" cy="1114.5" r="13.7"/><circle cx="1817.4" cy="1088.5" r="13.7"/><circle cx="1819.3" cy="1112.4" r="13.7"/><circle cx="1821.2" cy="1117.8" r="13.7"/><circle cx="1823.1" cy="1109.9" r="13.7"/><circle cx="1825" cy="1088.7" r="13.7"/><circle cx="1826.9" cy="1112.6" r="13.7"/><circle cx="1828.8" cy="1106.4" r="13.7"/><circle cx="1830.7" cy="1132.3" r="13.7"/><circle cx="1832.6" cy="1105.7" r="13.7"/><circle cx="1834.5" cy="1124" r="13.7"/><circle cx="1836.4" cy="1112.3" r="13.7"/><circle cx="1838.3" cy="1098.5" r="13.7"/><circle cx="1840.2" cy="1113.5" r="13.7"/><circle cx="1842.1" cy="1104.5" r="13.7"/><circle cx="1844" cy="1113.3" r="13.7"/><circle cx="1845.8" cy="1114.3" r="13.7"/><circle cx="1847.7" cy="1108.6" r="13.7"/><circle cx="1849.6" cy="1101.1" r="13.7"/><circle cx="1851.5" cy="1110.3" r="13.7"/><circle cx="1853.4" cy="1111.4" r="13.7"/><circle cx="1855.3" cy="1120.1" r="13.7"/><circle cx="1857.2" cy="1127" r="13.7"/><circle cx="1859.1" cy="1110" r="13.7"/><circle cx="1861" cy="1112.9" r="13.7"/><circle cx="1862.9" cy="1108.7" r="13.7"/><circle cx="1864.8" cy="1101.5" r="13.7"/><circle cx="1866.7" cy="1103.6" r="13.7"/><circle cx="1868.6" cy="1119.4" r="13.7"/><circle cx="1870.5" cy="1108.8" r="13.7"/><circle cx="1872.4" cy="1108.6" r="13.7"/><circle cx="1874.3" cy="1113.5" r="13.7"/><circle cx="1876.2" cy="1132.3" r="13.7"/><circle cx="1878.1" cy="1118.7" r="13.7"/><circle cx="1880" cy="1112.2" r="13.7"/><circle cx="1881.9" cy="1104.2" r="13.7"/><circle cx="1883.8" cy="1114.2" r="13.7"/><circle cx="1885.7" cy="1124.3" r="13.7"/><circle cx="1887.6" cy="1098.6" r="13.7"/><circle cx="1889.5" cy="1111.7" r="13.7"/><circle cx="1891.3" cy="1115.6" r="13.7"/><circle cx="1893.2" cy="1106.4" r="13.7"/><circle cx="1895.1" cy="1104.9" r="13.7"/><circle cx="1897" cy="1112.1" r="13.7"/><circle cx="1898.9" cy="1116.8" r="13.7"/><circle cx="1900.8" cy="1116.7" r="13.7"/><circle cx="1902.7" cy="1103.9" r="13.7"/><circle cx="1904.6" cy="1112.7" r="13.7"/><circle cx="1906.5" cy="1106.7" r="13.7"/><circle cx="1908.4" cy="1129.2" r="13.7"/><circle cx="1910.3" cy="1093.7" r="13.7"/><circle cx="1912.2" cy="1103.7" r="13.7"/><circle cx="1914.1" cy="1122.5" r="13.7"/><circle cx="1916" cy="1132.5" r="13.7"/><circle cx="1917.9" cy="1134.4" r="13.7"/><circle cx="1919.8" cy="1107.9" r="13.7"/><circle cx="1921.7" cy="1144" r="13.7"/><circle cx="1923.6" cy="1121.1" r="13.7"/><circle cx="1925.5" cy="1104.2" r="13.7"/><circle cx="1927.4" cy="1130.1" r="13.7"/><circle cx="1929.3" cy="1117.5" r="13.7"/><circle cx="1931.2" cy="1114.4" r="13.7"/><circle cx="1933.1" cy="1102" r="13.7"/><circle cx="1935" cy="1132.3" r="13.7"/><circle cx="1936.8" cy="1111.8" r="13.7"/><circle cx="1938.7" cy="1113.7" r="13.7"/><circle cx="1940.6" cy="1111.4" r="13.7"/><circle cx="1942.5" cy="1135.5" r="13.7"/><circle cx="1944.4" cy="1105.6" r="13.7"/><circle cx="1946.3" cy="1125" r="13.7"/><circle cx="1948.2" cy="1114.5" r="13.7"/><circle cx="1950.1" cy="1125.1" r="13.7"/><circle cx="1952" cy="1084.9" r="13.7"/><circle cx="1953.9" cy="1112" r="13.7"/><circle cx="1955.8" cy="1082" r="13.7"/><circle cx="1957.7" cy="1121.8" r="13.7"/><circle cx="1959.6" cy="1116.8" r="13.7"/><circle cx="1961.5" cy="1091.6" r="13.7"/><circle cx="1963.4" cy="1118.1" r="13.7"/><circle cx="1965.3" cy="1106.4" r="13.7"/><circle cx="1967.2" cy="1096.2" r="13.7"/><circle cx="1969.1" cy="1118.1" r="13.7"/><circle cx="1971" cy="1122.5" r="13.7"/><circle cx="1972.9" cy="1116.3" r="13.7"/><circle cx="1974.8" cy="1098.2" r="13.7"/><circle cx="1976.7" cy="1106.6" r="13.7"/><circle cx="1978.6" cy="1094.2" r="13.7"/><circle cx="1980.5" cy="1116.5" r="13.7"/><circle cx="1982.3" cy="1119.6" r="13.7"/><circle cx="1984.2" cy="1129" r="13.7"/><circle cx="1986.1" cy="1117" r="13.7"/><circle cx="1988" cy="1121.2" r="13.7"/><circle cx="1989.9" cy="1114.4" r="13.7"/><circle cx="1991.8" cy="1126.3" r="13.7"/><circle cx="1993.7" cy="1123" r="13.7"/><circle cx="1995.6" cy="1117.2" r="13.7"/><circle cx="1997.5" cy="1098.8" r="13.7"/><circle cx="1999.4" cy="1117.5" r="13.7"/><circle cx="2001.3" cy="1121" r="13.7"/><circle cx="2003.2" cy="1098" r="13.7"/><circle cx="2005.1" cy="1093.4" r="13.7"/><circle cx="2007" cy="1117" r="13.7"/><circle cx="2008.9" cy="1116.4" r="13.7"/><circle cx="2010.8" cy="1138.8" r="13.7"/><circle cx="2012.7" cy="1135.1" r="13.7"/><circle cx="2014.6" cy="1113.4" r="13.7"/><circle cx="2016.5" cy="1092.8" r="13.7"/><circle cx="2018.4" cy="1086.2" r="13.7"/><circle cx="2020.3" cy="1100.8" r="13.7"/><circle cx="2022.2" cy="1119.7" r="13.7"/><circle cx="2024.1" cy="1105.3" r="13.7"/><circle cx="2025.9" cy="1133.8" r="13.7"/><circle cx="2027.8" cy="1113.8" r="13.7"/><circle cx="2029.7" cy="1129.7" r="13.7"/><circle cx="2031.6" cy="1112.6" r="13.7"/><circle cx="2033.5" cy="1092" r="13.7"/><circle cx="2035.4" cy="1081.3" r="13.7"/><circle cx="2037.3" cy="1109.6" r="13.7"/><circle cx="2039.2" cy="1106.9" r="13.7"/><circle cx="2041.1" cy="1136.4" r="13.7"/><circle cx="2043" cy="1122" r="13.7"/><circle cx="2044.9" cy="1090.8" r="13.7"/><circle cx="2046.8" cy="1095.9" r="13.7"/><circle cx="2048.7" cy="1100.6" r="13.7"/><circle cx="2050.6" cy="1106.2" r="13.7"/><circle cx="2052.5" cy="1088.9" r="13.7"/><circle cx="2054.4" cy="1116.3" r="13.7"/><circle cx="2056.3" cy="1115.4" r="13.7"/><circle cx="2058.2" cy="1075.2" r="13.7"/><circle cx="2060.1" cy="1124.9" r="13.7"/><circle cx="2062" cy="1106.1" r="13.7"/><circle cx="2063.9" cy="1118" r="13.7"/><circle cx="2065.8" cy="1091" r="13.7"/><circle cx="2067.7" cy="1116.4" r="13.7"/><circle cx="2069.6" cy="1117.5" r="13.7"/><circle cx="2071.4" cy="1117.1" r="13.7"/><circle cx="2073.3" cy="1101" r="13.7"/><circle cx="2075.2" cy="1127.1" r="13.7"/><circle cx="2077.1" cy="1133.9" r="13.7"/><circle cx="2079" cy="1114.3" r="13.7"/><circle cx="2080.9" cy="1117.7" r="13.7"/><circle cx="2082.8" cy="1104.8" r="13.7"/><circle cx="2084.7" cy="1117.6" r="13.7"/><circle cx="2086.6" cy="1121.3" r="13.7"/><circle cx="2088.5" cy="1108.5" r="13.7"/><circle cx="2090.4" cy="1106.4" r="13.7"/><circle cx="2092.3" cy="1097.9" r="13.7"/><circle cx="2094.2" cy="1111.6" r="13.7"/><circle cx="2096.1" cy="1138.7" r="13.7"/><circle cx="2098" cy="1113.2" r="13.7"/><circle cx="2099.9" cy="1112.5" r="13.7"/><circle cx="2101.8" cy="1114" r="13.7"/><circle cx="2103.7" cy="1104.9" r="13.7"/><circle cx="2105.6" cy="1116.6" r="13.7"/><circle cx="2107.5" cy="1096.5" r="13.7"/><circle cx="2109.4" cy="1116.8" r="13.7"/><circle cx="2111.3" cy="1092.4" r="13.7"/><circle cx="2113.2" cy="1128.6" r="13.7"/><circle cx="2115.1" cy="1146.5" r="13.7"/><circle cx="2116.9" cy="1126.4" r="13.7"/><circle cx="2118.8" cy="1075.2" r="13.7"/><circle cx="2120.7" cy="1116.3" r="13.7"/><circle cx="2122.6" cy="1114.1" r="13.7"/><circle cx="2124.5" cy="1108.6" r="13.7"/><circle cx="2126.4" cy="1118.6" r="13.7"/><circle cx="2128.3" cy="1108.7" r="13.7"/><circle cx="2130.2" cy="1110.7" r="13.7"/><circle cx="2132.1" cy="1082.7" r="13.7"/><circle cx="2134" cy="1095.1" r="13.7"/><circle cx="2135.9" cy="1108.5" r="13.7"/><circle cx="2137.8" cy="1102.3" r="13.7"/><circle cx="2139.7" cy="1103.6" r="13.7"/><circle cx="2141.6" cy="1127.9" r="13.7"/><circle cx="2143.5" cy="1096.2" r="13.7"/><circle cx="2145.4" cy="1121.4" r="13.7"/><circle cx="2147.3" cy="1100.9" r="13.7"/><circle cx="2149.2" cy="1110.2" r="13.7"/><circle cx="2151.1" cy="1099.2" r="13.7"/><circle cx="2153" cy="1091.7" r="13.7"/><circle cx="2154.9" cy="1103.7" r="13.7"/><circle cx="2156.8" cy="1119.1" r="13.7"/><circle cx="2158.7" cy="1116.7" r="13.7"/><circle cx="2160.6" cy="1104" r="13.7"/><circle cx="2162.4" cy="1118.2" r="13.7"/><circle cx="2164.3" cy="1117.7" r="13.7"/><circle cx="2166.2" cy="1113.9" r="13.7"/><circle cx="2168.1" cy="1117.3" r="13.7"/><circle cx="2170" cy="1104.6" r="13.7"/><circle cx="2171.9" cy="1118.7" r="13.7"/><circle cx="2173.8" cy="1110.8" r="13.7"/><circle cx="2175.7" cy="1122.7" r="13.7"/><circle cx="2177.6" cy="1137.1" r="13.7"/><circle cx="2179.5" cy="1100.7" r="13.7"/><circle cx="2181.4" cy="1098.1" r="13.7"/><circle cx="2183.3" cy="1119.3" r="13.7"/><circle cx="2185.2" cy="1100.5" r="13.7"/><circle cx="2187.1" cy="1107.6" r="13.7"/><circle cx="2189" cy="1128.9" r="13.7"/><circle cx="2190.9" cy="1095.1" r="13.7"/><circle cx="2192.8" cy="1140.8" r="13.7"/><circle cx="2194.7" cy="1112.9" r="13.7"/><circle cx="2196.6" cy="1101.7" r="13.7"/><circle cx="2198.5" cy="1128" r="13.7"/><circle cx="2200.4" cy="1088.9" r="13.7"/><circle cx="2202.3" cy="1120.5" r="13.7"/></g><g fill="url(#gK)"><circle cx="298.9" cy="1418.5" r="17.5"/><circle cx="300.8" cy="1429.3" r="17.5"/><circle cx="302.7" cy="1422.7" r="17.5"/><circle cx="304.6" cy="1412.6" r="17.5"/><circle cx="306.5" cy="1405.6" r="17.5"/><circle cx="308.4" cy="1402.5" r="17.5"/><circle cx="310.3" cy="1398.3" r="17.5"/><circle cx="312.1" cy="1394.8" r="17.5"/><circle cx="314" cy="1395.7" r="17.5"/><circle cx="315.9" cy="1398.4" r="17.5"/><circle cx="317.8" cy="1390" r="17.5"/><circle cx="319.7" cy="1390.7" r="17.5"/><circle cx="321.6" cy="1392.5" r="17.5"/><circle cx="323.5" cy="1397.6" r="17.5"/><circle cx="325.4" cy="1393.4" r="17.5"/><circle cx="327.3" cy="1401" r="17.5"/><circle cx="329.2" cy="1395.2" r="17.5"/><circle cx="331.1" cy="1401.8" r="17.5"/><circle cx="333" cy="1395.1" r="17.5"/><circle cx="334.9" cy="1390.3" r="17.5"/><circle cx="336.8" cy="1393.4" r="17.5"/><circle cx="338.7" cy="1388.2" r="17.5"/><circle cx="340.6" cy="1393.2" r="17.5"/><circle cx="342.5" cy="1392.7" r="17.5"/><circle cx="344.4" cy="1393.8" r="17.5"/><circle cx="346.3" cy="1390.9" r="17.5"/><circle cx="348.2" cy="1392.5" r="17.5"/><circle cx="350.1" cy="1388.3" r="17.5"/><circle cx="352" cy="1386.8" r="17.5"/><circle cx="353.9" cy="1390.4" r="17.5"/><circle cx="355.7" cy="1394.8" r="17.5"/><circle cx="357.6" cy="1389.2" r="17.5"/><circle cx="359.5" cy="1386.4" r="17.5"/><circle cx="361.4" cy="1388.3" r="17.5"/><circle cx="363.3" cy="1389.1" r="17.5"/><circle cx="365.2" cy="1386.8" r="17.5"/><circle cx="367.1" cy="1385.3" r="17.5"/><circle cx="369" cy="1397.4" r="17.5"/><circle cx="370.9" cy="1384.1" r="17.5"/><circle cx="372.8" cy="1386.2" r="17.5"/><circle cx="374.7" cy="1386.8" r="17.5"/><circle cx="376.6" cy="1389.8" r="17.5"/><circle cx="378.5" cy="1387.1" r="17.5"/><circle cx="380.4" cy="1385.6" r="17.5"/><circle cx="382.3" cy="1391.9" r="17.5"/><circle cx="384.2" cy="1384.6" r="17.5"/><circle cx="386.1" cy="1386.6" r="17.5"/><circle cx="388" cy="1382" r="17.5"/><circle cx="389.9" cy="1384.5" r="17.5"/><circle cx="391.8" cy="1387.3" r="17.5"/><circle cx="393.7" cy="1386.7" r="17.5"/><circle cx="395.6" cy="1385" r="17.5"/><circle cx="397.5" cy="1386.8" r="17.5"/><circle cx="399.4" cy="1385.8" r="17.5"/><circle cx="401.2" cy="1390.2" r="17.5"/><circle cx="403.1" cy="1392.2" r="17.5"/><circle cx="405" cy="1390.4" r="17.5"/><circle cx="406.9" cy="1393.5" r="17.5"/><circle cx="408.8" cy="1391.8" r="17.5"/><circle cx="410.7" cy="1388.5" r="17.5"/><circle cx="412.6" cy="1395.1" r="17.5"/><circle cx="414.5" cy="1394.1" r="17.5"/><circle cx="416.4" cy="1388.2" r="17.5"/><circle cx="418.3" cy="1392.5" r="17.5"/><circle cx="420.2" cy="1391.1" r="17.5"/><circle cx="422.1" cy="1395.3" r="17.5"/><circle cx="424" cy="1395" r="17.5"/><circle cx="425.9" cy="1393" r="17.5"/><circle cx="427.8" cy="1387.1" r="17.5"/><circle cx="429.7" cy="1391.2" r="17.5"/><circle cx="431.6" cy="1398.2" r="17.5"/><circle cx="433.5" cy="1391.8" r="17.5"/><circle cx="435.4" cy="1390.7" r="17.5"/><circle cx="437.3" cy="1391.7" r="17.5"/><circle cx="439.2" cy="1398.1" r="17.5"/><circle cx="441.1" cy="1394.7" r="17.5"/><circle cx="443" cy="1388.1" r="17.5"/><circle cx="444.9" cy="1398.1" r="17.5"/><circle cx="446.7" cy="1394.3" r="17.5"/><circle cx="448.6" cy="1398.1" r="17.5"/><circle cx="450.5" cy="1400" r="17.5"/><circle cx="452.4" cy="1397.6" r="17.5"/><circle cx="454.3" cy="1393.3" r="17.5"/><circle cx="456.2" cy="1393.2" r="17.5"/><circle cx="458.1" cy="1399.9" r="17.5"/><circle cx="460" cy="1398.9" r="17.5"/><circle cx="461.9" cy="1400.6" r="17.5"/><circle cx="463.8" cy="1404.6" r="17.5"/><circle cx="465.7" cy="1396.4" r="17.5"/><circle cx="467.6" cy="1393.7" r="17.5"/><circle cx="469.5" cy="1394.3" r="17.5"/><circle cx="471.4" cy="1400.8" r="17.5"/><circle cx="473.3" cy="1395.5" r="17.5"/><circle cx="475.2" cy="1396.6" r="17.5"/><circle cx="477.1" cy="1401.5" r="17.5"/><circle cx="479" cy="1400.8" r="17.5"/><circle cx="480.9" cy="1402.4" r="17.5"/><circle cx="482.8" cy="1400.8" r="17.5"/><circle cx="484.7" cy="1396.3" r="17.5"/><circle cx="486.6" cy="1405.4" r="17.5"/><circle cx="488.5" cy="1406.7" r="17.5"/><circle cx="490.4" cy="1400.6" r="17.5"/><circle cx="492.2" cy="1403.7" r="17.5"/><circle cx="494.1" cy="1410.5" r="17.5"/><circle cx="496" cy="1408.4" r="17.5"/><circle cx="497.9" cy="1408.5" r="17.5"/><circle cx="499.8" cy="1408.6" r="17.5"/><circle cx="501.7" cy="1406.5" r="17.5"/><circle cx="503.6" cy="1405.3" r="17.5"/><circle cx="505.5" cy="1409.8" r="17.5"/><circle cx="507.4" cy="1409.7" r="17.5"/><circle cx="509.3" cy="1413.4" r="17.5"/><circle cx="511.2" cy="1408.7" r="17.5"/><circle cx="513.1" cy="1408.5" r="17.5"/><circle cx="515" cy="1414.4" r="17.5"/><circle cx="516.9" cy="1416.6" r="17.5"/><circle cx="518.8" cy="1408.4" r="17.5"/><circle cx="520.7" cy="1412.6" r="17.5"/><circle cx="522.6" cy="1418.9" r="17.5"/><circle cx="524.5" cy="1421.9" r="17.5"/><circle cx="526.4" cy="1418" r="17.5"/><circle cx="528.3" cy="1413.8" r="17.5"/><circle cx="530.2" cy="1419.8" r="17.5"/><circle cx="532.1" cy="1419.3" r="17.5"/><circle cx="534" cy="1420.5" r="17.5"/><circle cx="535.9" cy="1417.3" r="17.5"/><circle cx="537.7" cy="1415.4" r="17.5"/><circle cx="539.6" cy="1424.2" r="17.5"/><circle cx="541.5" cy="1421.6" r="17.5"/><circle cx="543.4" cy="1421.7" r="17.5"/><circle cx="545.3" cy="1423.5" r="17.5"/><circle cx="547.2" cy="1425.7" r="17.5"/><circle cx="549.1" cy="1419.7" r="17.5"/><circle cx="551" cy="1422.1" r="17.5"/><circle cx="552.9" cy="1420.7" r="17.5"/><circle cx="554.8" cy="1418.6" r="17.5"/><circle cx="556.7" cy="1424.9" r="17.5"/><circle cx="558.6" cy="1422.4" r="17.5"/><circle cx="560.5" cy="1425.7" r="17.5"/><circle cx="562.4" cy="1425.1" r="17.5"/><circle cx="564.3" cy="1424.1" r="17.5"/><circle cx="566.2" cy="1426" r="17.5"/><circle cx="568.1" cy="1430.6" r="17.5"/><circle cx="570" cy="1421.4" r="17.5"/><circle cx="571.9" cy="1426.1" r="17.5"/><circle cx="573.8" cy="1430.5" r="17.5"/><circle cx="575.7" cy="1434.3" r="17.5"/><circle cx="577.6" cy="1427.7" r="17.5"/><circle cx="579.5" cy="1425.9" r="17.5"/><circle cx="581.4" cy="1425.1" r="17.5"/><circle cx="583.2" cy="1425.1" r="17.5"/><circle cx="585.1" cy="1430.2" r="17.5"/><circle cx="587" cy="1427.3" r="17.5"/><circle cx="588.9" cy="1434.6" r="17.5"/><circle cx="590.8" cy="1429.5" r="17.5"/><circle cx="592.7" cy="1427.4" r="17.5"/><circle cx="594.6" cy="1432.6" r="17.5"/><circle cx="596.5" cy="1431.5" r="17.5"/><circle cx="598.4" cy="1431" r="17.5"/><circle cx="600.3" cy="1431.2" r="17.5"/><circle cx="602.2" cy="1427.2" r="17.5"/><circle cx="604.1" cy="1435.7" r="17.5"/><circle cx="606" cy="1428.3" r="17.5"/><circle cx="607.9" cy="1436.8" r="17.5"/><circle cx="609.8" cy="1435.3" r="17.5"/><circle cx="611.7" cy="1435.9" r="17.5"/><circle cx="613.6" cy="1434.1" r="17.5"/><circle cx="615.5" cy="1435.7" r="17.5"/><circle cx="617.4" cy="1432.9" r="17.5"/><circle cx="619.3" cy="1434.7" r="17.5"/><circle cx="621.2" cy="1428.1" r="17.5"/><circle cx="623.1" cy="1434.1" r="17.5"/><circle cx="625" cy="1436.5" r="17.5"/><circle cx="626.8" cy="1434.8" r="17.5"/><circle cx="628.7" cy="1434.4" r="17.5"/><circle cx="630.6" cy="1437.2" r="17.5"/><circle cx="632.5" cy="1440.5" r="17.5"/><circle cx="634.4" cy="1439.8" r="17.5"/><circle cx="636.3" cy="1437" r="17.5"/><circle cx="638.2" cy="1435.3" r="17.5"/><circle cx="640.1" cy="1436.7" r="17.5"/><circle cx="642" cy="1438.8" r="17.5"/><circle cx="643.9" cy="1437.1" r="17.5"/><circle cx="645.8" cy="1440.8" r="17.5"/><circle cx="647.7" cy="1438.7" r="17.5"/><circle cx="649.6" cy="1435.4" r="17.5"/><circle cx="651.5" cy="1436.7" r="17.5"/><circle cx="653.4" cy="1436.3" r="17.5"/><circle cx="655.3" cy="1442.1" r="17.5"/><circle cx="657.2" cy="1440.6" r="17.5"/><circle cx="659.1" cy="1444.8" r="17.5"/><circle cx="661" cy="1439" r="17.5"/><circle cx="662.9" cy="1443.6" r="17.5"/><circle cx="664.8" cy="1446.7" r="17.5"/><circle cx="666.7" cy="1444.4" r="17.5"/><circle cx="668.6" cy="1442.4" r="17.5"/><circle cx="670.5" cy="1450.5" r="17.5"/><circle cx="672.3" cy="1448.3" r="17.5"/><circle cx="674.2" cy="1441" r="17.5"/><circle cx="676.1" cy="1444.2" r="17.5"/><circle cx="678" cy="1444.9" r="17.5"/><circle cx="679.9" cy="1450.2" r="17.5"/><circle cx="681.8" cy="1440.4" r="17.5"/><circle cx="683.7" cy="1442.5" r="17.5"/><circle cx="685.6" cy="1443.8" r="17.5"/><circle cx="687.5" cy="1449.8" r="17.5"/><circle cx="689.4" cy="1444.8" r="17.5"/><circle cx="691.3" cy="1443.3" r="17.5"/><circle cx="693.2" cy="1448.2" r="17.5"/><circle cx="695.1" cy="1448.2" r="17.5"/><circle cx="697" cy="1449.2" r="17.5"/><circle cx="698.9" cy="1446" r="17.5"/><circle cx="700.8" cy="1448.9" r="17.5"/><circle cx="702.7" cy="1449.4" r="17.5"/><circle cx="704.6" cy="1453.2" r="17.5"/><circle cx="706.5" cy="1454.1" r="17.5"/><circle cx="708.4" cy="1446.1" r="17.5"/><circle cx="710.3" cy="1444.3" r="17.5"/><circle cx="712.2" cy="1446.8" r="17.5"/><circle cx="714.1" cy="1445.3" r="17.5"/><circle cx="716" cy="1451.7" r="17.5"/><circle cx="717.8" cy="1450.4" r="17.5"/><circle cx="719.7" cy="1449.3" r="17.5"/><circle cx="721.6" cy="1451.3" r="17.5"/><circle cx="723.5" cy="1445.7" r="17.5"/><circle cx="725.4" cy="1455.5" r="17.5"/><circle cx="727.3" cy="1453.3" r="17.5"/><circle cx="729.2" cy="1452.9" r="17.5"/><circle cx="731.1" cy="1454.3" r="17.5"/><circle cx="733" cy="1449.7" r="17.5"/><circle cx="734.9" cy="1459" r="17.5"/><circle cx="736.8" cy="1449.4" r="17.5"/><circle cx="738.7" cy="1450.5" r="17.5"/><circle cx="740.6" cy="1452.7" r="17.5"/><circle cx="742.5" cy="1449.6" r="17.5"/><circle cx="744.4" cy="1447" r="17.5"/><circle cx="746.3" cy="1454.3" r="17.5"/><circle cx="748.2" cy="1453.1" r="17.5"/><circle cx="750.1" cy="1454.8" r="17.5"/><circle cx="752" cy="1454.9" r="17.5"/><circle cx="753.9" cy="1458.8" r="17.5"/><circle cx="755.8" cy="1460" r="17.5"/><circle cx="757.7" cy="1456.3" r="17.5"/><circle cx="759.6" cy="1460.3" r="17.5"/><circle cx="761.5" cy="1456.1" r="17.5"/><circle cx="763.3" cy="1456.9" r="17.5"/><circle cx="765.2" cy="1461.1" r="17.5"/><circle cx="767.1" cy="1458.9" r="17.5"/><circle cx="769" cy="1460.1" r="17.5"/><circle cx="770.9" cy="1461" r="17.5"/><circle cx="772.8" cy="1457.3" r="17.5"/><circle cx="774.7" cy="1461" r="17.5"/><circle cx="776.6" cy="1460.7" r="17.5"/><circle cx="778.5" cy="1467.8" r="17.5"/><circle cx="780.4" cy="1460" r="17.5"/><circle cx="782.3" cy="1466.7" r="17.5"/><circle cx="784.2" cy="1463.6" r="17.5"/><circle cx="786.1" cy="1457.5" r="17.5"/><circle cx="788" cy="1457.2" r="17.5"/><circle cx="789.9" cy="1464.3" r="17.5"/><circle cx="791.8" cy="1467.2" r="17.5"/><circle cx="793.7" cy="1462.2" r="17.5"/><circle cx="795.6" cy="1465" r="17.5"/><circle cx="797.5" cy="1462.9" r="17.5"/><circle cx="799.4" cy="1468.4" r="17.5"/><circle cx="801.3" cy="1460.9" r="17.5"/><circle cx="803.2" cy="1459.7" r="17.5"/><circle cx="805.1" cy="1469.5" r="17.5"/><circle cx="807" cy="1467.6" r="17.5"/><circle cx="808.8" cy="1467.6" r="17.5"/><circle cx="810.7" cy="1463.4" r="17.5"/><circle cx="812.6" cy="1472.2" r="17.5"/><circle cx="814.5" cy="1465.6" r="17.5"/><circle cx="816.4" cy="1467.3" r="17.5"/><circle cx="818.3" cy="1469.4" r="17.5"/><circle cx="820.2" cy="1465" r="17.5"/><circle cx="822.1" cy="1473.7" r="17.5"/><circle cx="824" cy="1472.2" r="17.5"/><circle cx="825.9" cy="1470.7" r="17.5"/><circle cx="827.8" cy="1466.3" r="17.5"/><circle cx="829.7" cy="1470" r="17.5"/><circle cx="831.6" cy="1471.9" r="17.5"/><circle cx="833.5" cy="1468.1" r="17.5"/><circle cx="835.4" cy="1471.5" r="17.5"/><circle cx="837.3" cy="1472.4" r="17.5"/><circle cx="839.2" cy="1471.6" r="17.5"/><circle cx="841.1" cy="1470" r="17.5"/><circle cx="843" cy="1462.8" r="17.5"/><circle cx="844.9" cy="1475.2" r="17.5"/><circle cx="846.8" cy="1471.2" r="17.5"/><circle cx="848.7" cy="1472.9" r="17.5"/><circle cx="850.6" cy="1473.5" r="17.5"/><circle cx="852.4" cy="1468.2" r="17.5"/><circle cx="854.3" cy="1470.9" r="17.5"/><circle cx="856.2" cy="1471.5" r="17.5"/><circle cx="858.1" cy="1475.3" r="17.5"/><circle cx="860" cy="1476.9" r="17.5"/><circle cx="861.9" cy="1473.5" r="17.5"/><circle cx="863.8" cy="1475.6" r="17.5"/><circle cx="865.7" cy="1476.8" r="17.5"/><circle cx="867.6" cy="1473.1" r="17.5"/><circle cx="869.5" cy="1479.2" r="17.5"/><circle cx="871.4" cy="1477.9" r="17.5"/><circle cx="873.3" cy="1473.3" r="17.5"/><circle cx="875.2" cy="1476.2" r="17.5"/><circle cx="877.1" cy="1474" r="17.5"/><circle cx="879" cy="1479" r="17.5"/><circle cx="880.9" cy="1474.2" r="17.5"/><circle cx="882.8" cy="1478.8" r="17.5"/><circle cx="884.7" cy="1472.4" r="17.5"/><circle cx="886.6" cy="1474.3" r="17.5"/><circle cx="888.5" cy="1475.5" r="17.5"/><circle cx="890.4" cy="1472.2" r="17.5"/><circle cx="892.3" cy="1476.1" r="17.5"/><circle cx="894.2" cy="1479.3" r="17.5"/><circle cx="896.1" cy="1472.5" r="17.5"/><circle cx="897.9" cy="1476.5" r="17.5"/><circle cx="899.8" cy="1473.8" r="17.5"/><circle cx="901.7" cy="1477.3" r="17.5"/><circle cx="903.6" cy="1474.2" r="17.5"/><circle cx="905.5" cy="1480.7" r="17.5"/><circle cx="907.4" cy="1482.1" r="17.5"/><circle cx="909.3" cy="1482.7" r="17.5"/><circle cx="911.2" cy="1475.9" r="17.5"/><circle cx="913.1" cy="1484.7" r="17.5"/><circle cx="915" cy="1484.2" r="17.5"/><circle cx="916.9" cy="1483.2" r="17.5"/><circle cx="918.8" cy="1478.1" r="17.5"/><circle cx="920.7" cy="1477.6" r="17.5"/><circle cx="922.6" cy="1481.7" r="17.5"/><circle cx="924.5" cy="1476.8" r="17.5"/><circle cx="926.4" cy="1478.4" r="17.5"/><circle cx="928.3" cy="1475.8" r="17.5"/><circle cx="930.2" cy="1476.8" r="17.5"/><circle cx="932.1" cy="1482.1" r="17.5"/><circle cx="934" cy="1479.4" r="17.5"/><circle cx="935.9" cy="1480.7" r="17.5"/><circle cx="937.8" cy="1478.9" r="17.5"/><circle cx="939.7" cy="1479.9" r="17.5"/><circle cx="941.6" cy="1480.6" r="17.5"/><circle cx="943.4" cy="1478.6" r="17.5"/><circle cx="945.3" cy="1480.9" r="17.5"/><circle cx="947.2" cy="1478.9" r="17.5"/><circle cx="949.1" cy="1481.3" r="17.5"/><circle cx="951" cy="1482.1" r="17.5"/><circle cx="952.9" cy="1478.9" r="17.5"/><circle cx="954.8" cy="1479" r="17.5"/><circle cx="956.7" cy="1478.3" r="17.5"/><circle cx="958.6" cy="1480.4" r="17.5"/><circle cx="960.5" cy="1483.3" r="17.5"/><circle cx="962.4" cy="1482.2" r="17.5"/><circle cx="964.3" cy="1482.5" r="17.5"/><circle cx="966.2" cy="1488.8" r="17.5"/><circle cx="968.1" cy="1487" r="17.5"/><circle cx="970" cy="1478.9" r="17.5"/><circle cx="971.9" cy="1484.1" r="17.5"/><circle cx="973.8" cy="1493.2" r="17.5"/><circle cx="975.7" cy="1484.8" r="17.5"/><circle cx="977.6" cy="1484.2" r="17.5"/><circle cx="979.5" cy="1488.9" r="17.5"/><circle cx="981.4" cy="1478.1" r="17.5"/><circle cx="983.3" cy="1482" r="17.5"/><circle cx="985.2" cy="1483.4" r="17.5"/><circle cx="987.1" cy="1486.9" r="17.5"/><circle cx="988.9" cy="1485.2" r="17.5"/><circle cx="990.8" cy="1484.6" r="17.5"/><circle cx="992.7" cy="1486.2" r="17.5"/><circle cx="994.6" cy="1490.3" r="17.5"/><circle cx="996.5" cy="1488" r="17.5"/><circle cx="998.4" cy="1488.7" r="17.5"/><circle cx="1000.3" cy="1488.5" r="17.5"/><circle cx="1002.2" cy="1493.1" r="17.5"/><circle cx="1004.1" cy="1489.3" r="17.5"/><circle cx="1006" cy="1490.5" r="17.5"/><circle cx="1007.9" cy="1490.1" r="17.5"/><circle cx="1009.8" cy="1490.6" r="17.5"/><circle cx="1011.7" cy="1496.1" r="17.5"/><circle cx="1013.6" cy="1489.1" r="17.5"/><circle cx="1015.5" cy="1489.8" r="17.5"/><circle cx="1017.4" cy="1496.7" r="17.5"/><circle cx="1019.3" cy="1493" r="17.5"/><circle cx="1021.2" cy="1495.7" r="17.5"/><circle cx="1023.1" cy="1494.7" r="17.5"/><circle cx="1025" cy="1490.4" r="17.5"/><circle cx="1026.9" cy="1492.2" r="17.5"/><circle cx="1028.8" cy="1487.9" r="17.5"/><circle cx="1030.7" cy="1494.2" r="17.5"/><circle cx="1032.6" cy="1498.3" r="17.5"/><circle cx="1034.4" cy="1494.7" r="17.5"/><circle cx="1036.3" cy="1503" r="17.5"/><circle cx="1038.2" cy="1490" r="17.5"/><circle cx="1040.1" cy="1495.1" r="17.5"/><circle cx="1042" cy="1494.8" r="17.5"/><circle cx="1043.9" cy="1496" r="17.5"/><circle cx="1045.8" cy="1499.5" r="17.5"/><circle cx="1047.7" cy="1497.5" r="17.5"/><circle cx="1049.6" cy="1499.9" r="17.5"/><circle cx="1051.5" cy="1499.3" r="17.5"/><circle cx="1053.4" cy="1497" r="17.5"/><circle cx="1055.3" cy="1502.2" r="17.5"/><circle cx="1057.2" cy="1493.5" r="17.5"/><circle cx="1059.1" cy="1502.4" r="17.5"/><circle cx="1061" cy="1496.8" r="17.5"/><circle cx="1062.9" cy="1501.8" r="17.5"/><circle cx="1064.8" cy="1504" r="17.5"/><circle cx="1066.7" cy="1499.3" r="17.5"/><circle cx="1068.6" cy="1500.3" r="17.5"/><circle cx="1070.5" cy="1501.9" r="17.5"/><circle cx="1072.4" cy="1501.8" r="17.5"/><circle cx="1074.3" cy="1503.9" r="17.5"/><circle cx="1076.2" cy="1501" r="17.5"/><circle cx="1078" cy="1504.2" r="17.5"/><circle cx="1079.9" cy="1503" r="17.5"/><circle cx="1081.8" cy="1499.9" r="17.5"/><circle cx="1083.7" cy="1508" r="17.5"/><circle cx="1085.6" cy="1506" r="17.5"/><circle cx="1087.5" cy="1506.7" r="17.5"/><circle cx="1089.4" cy="1507.5" r="17.5"/><circle cx="1091.3" cy="1509.6" r="17.5"/><circle cx="1093.2" cy="1506.6" r="17.5"/><circle cx="1095.1" cy="1505.6" r="17.5"/><circle cx="1097" cy="1506.8" r="17.5"/><circle cx="1098.9" cy="1511.8" r="17.5"/><circle cx="1100.8" cy="1505" r="17.5"/><circle cx="1102.7" cy="1505.3" r="17.5"/><circle cx="1104.6" cy="1507.7" r="17.5"/><circle cx="1106.5" cy="1511.4" r="17.5"/><circle cx="1108.4" cy="1511.3" r="17.5"/><circle cx="1110.3" cy="1502.9" r="17.5"/><circle cx="1112.2" cy="1503.9" r="17.5"/><circle cx="1114.1" cy="1508.2" r="17.5"/><circle cx="1116" cy="1512.9" r="17.5"/><circle cx="1117.9" cy="1506.5" r="17.5"/><circle cx="1119.8" cy="1510.3" r="17.5"/><circle cx="1121.7" cy="1505.9" r="17.5"/><circle cx="1123.5" cy="1513.4" r="17.5"/><circle cx="1125.4" cy="1510.5" r="17.5"/><circle cx="1127.3" cy="1513" r="17.5"/><circle cx="1129.2" cy="1510.4" r="17.5"/><circle cx="1131.1" cy="1515.1" r="17.5"/><circle cx="1133" cy="1510.6" r="17.5"/><circle cx="1134.9" cy="1515.1" r="17.5"/><circle cx="1136.8" cy="1517.1" r="17.5"/><circle cx="1138.7" cy="1512.9" r="17.5"/><circle cx="1140.6" cy="1514.3" r="17.5"/><circle cx="1142.5" cy="1522.1" r="17.5"/><circle cx="1144.4" cy="1515.9" r="17.5"/><circle cx="1146.3" cy="1515.8" r="17.5"/><circle cx="1148.2" cy="1515.9" r="17.5"/><circle cx="1150.1" cy="1510.4" r="17.5"/><circle cx="1152" cy="1519.2" r="17.5"/><circle cx="1153.9" cy="1517.5" r="17.5"/><circle cx="1155.8" cy="1523.1" r="17.5"/><circle cx="1157.7" cy="1522.7" r="17.5"/><circle cx="1159.6" cy="1520.1" r="17.5"/><circle cx="1161.5" cy="1519" r="17.5"/><circle cx="1163.4" cy="1519.5" r="17.5"/><circle cx="1165.3" cy="1517.1" r="17.5"/><circle cx="1167.2" cy="1517" r="17.5"/><circle cx="1169" cy="1516.3" r="17.5"/><circle cx="1170.9" cy="1520.2" r="17.5"/><circle cx="1172.8" cy="1518.4" r="17.5"/><circle cx="1174.7" cy="1522.3" r="17.5"/><circle cx="1176.6" cy="1519.1" r="17.5"/><circle cx="1178.5" cy="1518.9" r="17.5"/><circle cx="1180.4" cy="1522.1" r="17.5"/><circle cx="1182.3" cy="1530.8" r="17.5"/><circle cx="1184.2" cy="1522.9" r="17.5"/><circle cx="1186.1" cy="1512.8" r="17.5"/><circle cx="1188" cy="1521.4" r="17.5"/><circle cx="1189.9" cy="1523.2" r="17.5"/><circle cx="1191.8" cy="1521" r="17.5"/><circle cx="1193.7" cy="1517.9" r="17.5"/><circle cx="1195.6" cy="1520.5" r="17.5"/><circle cx="1197.5" cy="1522.3" r="17.5"/><circle cx="1199.4" cy="1525.9" r="17.5"/><circle cx="1201.3" cy="1522.9" r="17.5"/><circle cx="1203.2" cy="1525.8" r="17.5"/><circle cx="1205.1" cy="1521.1" r="17.5"/><circle cx="1207" cy="1517.6" r="17.5"/><circle cx="1208.9" cy="1519.1" r="17.5"/><circle cx="1210.8" cy="1524.5" r="17.5"/><circle cx="1212.7" cy="1525.8" r="17.5"/><circle cx="1214.5" cy="1527.3" r="17.5"/><circle cx="1216.4" cy="1521.7" r="17.5"/><circle cx="1218.3" cy="1521.4" r="17.5"/><circle cx="1220.2" cy="1520.9" r="17.5"/><circle cx="1222.1" cy="1522.5" r="17.5"/><circle cx="1224" cy="1527.6" r="17.5"/><circle cx="1225.9" cy="1530.1" r="17.5"/><circle cx="1227.8" cy="1520.8" r="17.5"/><circle cx="1229.7" cy="1527.2" r="17.5"/><circle cx="1231.6" cy="1518.9" r="17.5"/><circle cx="1233.5" cy="1531.8" r="17.5"/><circle cx="1235.4" cy="1529" r="17.5"/><circle cx="1237.3" cy="1528.7" r="17.5"/><circle cx="1239.2" cy="1525.2" r="17.5"/><circle cx="1241.1" cy="1524.2" r="17.5"/><circle cx="1243" cy="1528.3" r="17.5"/><circle cx="1244.9" cy="1524.9" r="17.5"/><circle cx="1246.8" cy="1531.1" r="17.5"/><circle cx="1248.7" cy="1528.8" r="17.5"/><circle cx="1250.6" cy="1531.3" r="17.5"/><circle cx="1252.5" cy="1529.5" r="17.5"/><circle cx="1254.4" cy="1530" r="17.5"/><circle cx="1256.3" cy="1527.2" r="17.5"/><circle cx="1258.2" cy="1517.6" r="17.5"/><circle cx="1260" cy="1533" r="17.5"/><circle cx="1261.9" cy="1529.5" r="17.5"/><circle cx="1263.8" cy="1527" r="17.5"/><circle cx="1265.7" cy="1529.1" r="17.5"/><circle cx="1267.6" cy="1525.1" r="17.5"/><circle cx="1269.5" cy="1533" r="17.5"/><circle cx="1271.4" cy="1527.5" r="17.5"/><circle cx="1273.3" cy="1532.7" r="17.5"/><circle cx="1275.2" cy="1527.8" r="17.5"/><circle cx="1277.1" cy="1530.1" r="17.5"/><circle cx="1279" cy="1530" r="17.5"/><circle cx="1280.9" cy="1532.8" r="17.5"/><circle cx="1282.8" cy="1537" r="17.5"/><circle cx="1284.7" cy="1534.8" r="17.5"/><circle cx="1286.6" cy="1529.3" r="17.5"/><circle cx="1288.5" cy="1532.5" r="17.5"/><circle cx="1290.4" cy="1529.5" r="17.5"/><circle cx="1292.3" cy="1536.2" r="17.5"/><circle cx="1294.2" cy="1530.1" r="17.5"/><circle cx="1296.1" cy="1529.1" r="17.5"/><circle cx="1298" cy="1539.4" r="17.5"/><circle cx="1299.9" cy="1531.6" r="17.5"/><circle cx="1301.8" cy="1526.6" r="17.5"/><circle cx="1303.6" cy="1535.2" r="17.5"/><circle cx="1305.5" cy="1529.8" r="17.5"/><circle cx="1307.4" cy="1532.9" r="17.5"/><circle cx="1309.3" cy="1530.5" r="17.5"/><circle cx="1311.2" cy="1534.5" r="17.5"/><circle cx="1313.1" cy="1535.8" r="17.5"/><circle cx="1315" cy="1534.8" r="17.5"/><circle cx="1316.9" cy="1534.7" r="17.5"/><circle cx="1318.8" cy="1535.5" r="17.5"/><circle cx="1320.7" cy="1536.5" r="17.5"/><circle cx="1322.6" cy="1530.4" r="17.5"/><circle cx="1324.5" cy="1535.8" r="17.5"/><circle cx="1326.4" cy="1537.8" r="17.5"/><circle cx="1328.3" cy="1537.1" r="17.5"/><circle cx="1330.2" cy="1532.7" r="17.5"/><circle cx="1332.1" cy="1541.4" r="17.5"/><circle cx="1334" cy="1532.8" r="17.5"/><circle cx="1335.9" cy="1532.2" r="17.5"/><circle cx="1337.8" cy="1530.6" r="17.5"/><circle cx="1339.7" cy="1536.1" r="17.5"/><circle cx="1341.6" cy="1537.4" r="17.5"/><circle cx="1343.5" cy="1534.4" r="17.5"/><circle cx="1345.4" cy="1534.6" r="17.5"/><circle cx="1347.3" cy="1531" r="17.5"/><circle cx="1349.1" cy="1535.1" r="17.5"/><circle cx="1351" cy="1536.7" r="17.5"/><circle cx="1352.9" cy="1539.7" r="17.5"/><circle cx="1354.8" cy="1536.3" r="17.5"/><circle cx="1356.7" cy="1535.5" r="17.5"/><circle cx="1358.6" cy="1532.1" r="17.5"/><circle cx="1360.5" cy="1535.7" r="17.5"/><circle cx="1362.4" cy="1531.9" r="17.5"/><circle cx="1364.3" cy="1532.3" r="17.5"/><circle cx="1366.2" cy="1538.8" r="17.5"/><circle cx="1368.1" cy="1540.1" r="17.5"/><circle cx="1370" cy="1538.7" r="17.5"/><circle cx="1371.9" cy="1537.5" r="17.5"/><circle cx="1373.8" cy="1539.5" r="17.5"/><circle cx="1375.7" cy="1534.9" r="17.5"/><circle cx="1377.6" cy="1535.1" r="17.5"/><circle cx="1379.5" cy="1533.6" r="17.5"/><circle cx="1381.4" cy="1536.7" r="17.5"/><circle cx="1383.3" cy="1539.2" r="17.5"/><circle cx="1385.2" cy="1536.7" r="17.5"/><circle cx="1387.1" cy="1541" r="17.5"/><circle cx="1389" cy="1537.9" r="17.5"/><circle cx="1390.9" cy="1541.1" r="17.5"/><circle cx="1392.8" cy="1535.4" r="17.5"/><circle cx="1394.6" cy="1547.9" r="17.5"/><circle cx="1396.5" cy="1537.2" r="17.5"/><circle cx="1398.4" cy="1537.5" r="17.5"/><circle cx="1400.3" cy="1540.8" r="17.5"/><circle cx="1402.2" cy="1540" r="17.5"/><circle cx="1404.1" cy="1540.7" r="17.5"/><circle cx="1406" cy="1537.6" r="17.5"/><circle cx="1407.9" cy="1536.7" r="17.5"/><circle cx="1409.8" cy="1542" r="17.5"/><circle cx="1411.7" cy="1536.9" r="17.5"/><circle cx="1413.6" cy="1544.1" r="17.5"/><circle cx="1415.5" cy="1540.5" r="17.5"/><circle cx="1417.4" cy="1540.1" r="17.5"/><circle cx="1419.3" cy="1545" r="17.5"/><circle cx="1421.2" cy="1539.5" r="17.5"/><circle cx="1423.1" cy="1542.1" r="17.5"/><circle cx="1425" cy="1536.8" r="17.5"/><circle cx="1426.9" cy="1541.5" r="17.5"/><circle cx="1428.8" cy="1543.7" r="17.5"/><circle cx="1430.7" cy="1541.6" r="17.5"/><circle cx="1432.6" cy="1536.9" r="17.5"/><circle cx="1434.5" cy="1535.4" r="17.5"/><circle cx="1436.4" cy="1534.9" r="17.5"/><circle cx="1438.3" cy="1538.1" r="17.5"/><circle cx="1440.1" cy="1532.9" r="17.5"/><circle cx="1442" cy="1537.1" r="17.5"/><circle cx="1443.9" cy="1535.9" r="17.5"/><circle cx="1445.8" cy="1532.1" r="17.5"/><circle cx="1447.7" cy="1535.6" r="17.5"/><circle cx="1449.6" cy="1541" r="17.5"/><circle cx="1451.5" cy="1532.7" r="17.5"/><circle cx="1453.4" cy="1534.9" r="17.5"/><circle cx="1455.3" cy="1536" r="17.5"/><circle cx="1457.2" cy="1530.7" r="17.5"/><circle cx="1459.1" cy="1536.7" r="17.5"/><circle cx="1461" cy="1532.6" r="17.5"/><circle cx="1462.9" cy="1534.2" r="17.5"/><circle cx="1464.8" cy="1526.3" r="17.5"/><circle cx="1466.7" cy="1540.2" r="17.5"/><circle cx="1468.6" cy="1533.9" r="17.5"/><circle cx="1470.5" cy="1533.4" r="17.5"/><circle cx="1472.4" cy="1531" r="17.5"/><circle cx="1474.3" cy="1535.8" r="17.5"/><circle cx="1476.2" cy="1536.4" r="17.5"/><circle cx="1478.1" cy="1530" r="17.5"/><circle cx="1480" cy="1535.8" r="17.5"/><circle cx="1481.9" cy="1533.6" r="17.5"/><circle cx="1483.8" cy="1534.7" r="17.5"/><circle cx="1485.6" cy="1533.5" r="17.5"/><circle cx="1487.5" cy="1539.2" r="17.5"/><circle cx="1489.4" cy="1536.9" r="17.5"/><circle cx="1491.3" cy="1535.7" r="17.5"/><circle cx="1493.2" cy="1535.6" r="17.5"/><circle cx="1495.1" cy="1532.8" r="17.5"/><circle cx="1497" cy="1535.1" r="17.5"/><circle cx="1498.9" cy="1535.2" r="17.5"/><circle cx="1500.8" cy="1537.6" r="17.5"/><circle cx="1502.7" cy="1533.9" r="17.5"/><circle cx="1504.6" cy="1540.1" r="17.5"/><circle cx="1506.5" cy="1538.9" r="17.5"/><circle cx="1508.4" cy="1543.6" r="17.5"/><circle cx="1510.3" cy="1542.5" r="17.5"/><circle cx="1512.2" cy="1536.7" r="17.5"/><circle cx="1514.1" cy="1539.8" r="17.5"/><circle cx="1516" cy="1545.8" r="17.5"/><circle cx="1517.9" cy="1540.4" r="17.5"/><circle cx="1519.8" cy="1541.3" r="17.5"/><circle cx="1521.7" cy="1544.4" r="17.5"/><circle cx="1523.6" cy="1540" r="17.5"/><circle cx="1525.5" cy="1542.2" r="17.5"/><circle cx="1527.4" cy="1541.5" r="17.5"/><circle cx="1529.2" cy="1538.7" r="17.5"/><circle cx="1531.1" cy="1543.8" r="17.5"/><circle cx="1533" cy="1538.6" r="17.5"/><circle cx="1534.9" cy="1543" r="17.5"/><circle cx="1536.8" cy="1543" r="17.5"/><circle cx="1538.7" cy="1538.1" r="17.5"/><circle cx="1540.6" cy="1541.1" r="17.5"/><circle cx="1542.5" cy="1543.6" r="17.5"/><circle cx="1544.4" cy="1542.7" r="17.5"/><circle cx="1546.3" cy="1541.7" r="17.5"/><circle cx="1548.2" cy="1547" r="17.5"/><circle cx="1550.1" cy="1540.3" r="17.5"/><circle cx="1552" cy="1542.5" r="17.5"/><circle cx="1553.9" cy="1546.6" r="17.5"/><circle cx="1555.8" cy="1545.5" r="17.5"/><circle cx="1557.7" cy="1539.8" r="17.5"/><circle cx="1559.6" cy="1546.6" r="17.5"/><circle cx="1561.5" cy="1535.8" r="17.5"/><circle cx="1563.4" cy="1546" r="17.5"/><circle cx="1565.3" cy="1542" r="17.5"/><circle cx="1567.2" cy="1550.8" r="17.5"/><circle cx="1569.1" cy="1542.9" r="17.5"/><circle cx="1571" cy="1544.4" r="17.5"/><circle cx="1572.9" cy="1541.2" r="17.5"/><circle cx="1574.7" cy="1542.1" r="17.5"/><circle cx="1576.6" cy="1543.8" r="17.5"/><circle cx="1578.5" cy="1536" r="17.5"/><circle cx="1580.4" cy="1540.3" r="17.5"/><circle cx="1582.3" cy="1545" r="17.5"/><circle cx="1584.2" cy="1541.3" r="17.5"/><circle cx="1586.1" cy="1551.2" r="17.5"/><circle cx="1588" cy="1543.4" r="17.5"/><circle cx="1589.9" cy="1537.1" r="17.5"/><circle cx="1591.8" cy="1542.1" r="17.5"/><circle cx="1593.7" cy="1539.1" r="17.5"/><circle cx="1595.6" cy="1542.5" r="17.5"/><circle cx="1597.5" cy="1535.6" r="17.5"/><circle cx="1599.4" cy="1537" r="17.5"/><circle cx="1601.3" cy="1536.6" r="17.5"/><circle cx="1603.2" cy="1533" r="17.5"/><circle cx="1605.1" cy="1530.1" r="17.5"/><circle cx="1607" cy="1532.2" r="17.5"/><circle cx="1608.9" cy="1539.6" r="17.5"/><circle cx="1610.8" cy="1532.2" r="17.5"/><circle cx="1612.7" cy="1531.9" r="17.5"/><circle cx="1614.6" cy="1535.7" r="17.5"/><circle cx="1616.5" cy="1536.5" r="17.5"/><circle cx="1618.4" cy="1532.1" r="17.5"/><circle cx="1620.2" cy="1531.3" r="17.5"/><circle cx="1622.1" cy="1530.1" r="17.5"/><circle cx="1624" cy="1531.9" r="17.5"/><circle cx="1625.9" cy="1528.9" r="17.5"/><circle cx="1627.8" cy="1528.2" r="17.5"/><circle cx="1629.7" cy="1529.9" r="17.5"/><circle cx="1631.6" cy="1527.6" r="17.5"/><circle cx="1633.5" cy="1530.5" r="17.5"/><circle cx="1635.4" cy="1533.4" r="17.5"/><circle cx="1637.3" cy="1528.3" r="17.5"/><circle cx="1639.2" cy="1525.3" r="17.5"/><circle cx="1641.1" cy="1519.4" r="17.5"/><circle cx="1643" cy="1534.5" r="17.5"/><circle cx="1644.9" cy="1529.3" r="17.5"/><circle cx="1646.8" cy="1530.3" r="17.5"/><circle cx="1648.7" cy="1526.5" r="17.5"/><circle cx="1650.6" cy="1530" r="17.5"/><circle cx="1652.5" cy="1526.8" r="17.5"/><circle cx="1654.4" cy="1523.9" r="17.5"/><circle cx="1656.3" cy="1529.3" r="17.5"/><circle cx="1658.2" cy="1527.1" r="17.5"/><circle cx="1660.1" cy="1521.6" r="17.5"/><circle cx="1662" cy="1523.9" r="17.5"/><circle cx="1663.9" cy="1531.7" r="17.5"/><circle cx="1665.7" cy="1520" r="17.5"/><circle cx="1667.6" cy="1528.6" r="17.5"/><circle cx="1669.5" cy="1525.4" r="17.5"/><circle cx="1671.4" cy="1527.7" r="17.5"/><circle cx="1673.3" cy="1527.8" r="17.5"/><circle cx="1675.2" cy="1528.5" r="17.5"/><circle cx="1677.1" cy="1524.3" r="17.5"/><circle cx="1679" cy="1528.7" r="17.5"/><circle cx="1680.9" cy="1530.2" r="17.5"/><circle cx="1682.8" cy="1528.1" r="17.5"/><circle cx="1684.7" cy="1526.3" r="17.5"/><circle cx="1686.6" cy="1532.7" r="17.5"/><circle cx="1688.5" cy="1524" r="17.5"/><circle cx="1690.4" cy="1528.8" r="17.5"/><circle cx="1692.3" cy="1524.4" r="17.5"/><circle cx="1694.2" cy="1522.5" r="17.5"/><circle cx="1696.1" cy="1526" r="17.5"/><circle cx="1698" cy="1525.5" r="17.5"/><circle cx="1699.9" cy="1528.8" r="17.5"/><circle cx="1701.8" cy="1529.7" r="17.5"/><circle cx="1703.7" cy="1533.8" r="17.5"/><circle cx="1705.6" cy="1528.6" r="17.5"/><circle cx="1707.5" cy="1529.9" r="17.5"/><circle cx="1709.4" cy="1535.9" r="17.5"/><circle cx="1711.2" cy="1527.7" r="17.5"/><circle cx="1713.1" cy="1524" r="17.5"/><circle cx="1715" cy="1527.7" r="17.5"/><circle cx="1716.9" cy="1525.5" r="17.5"/><circle cx="1718.8" cy="1530.2" r="17.5"/><circle cx="1720.7" cy="1532.7" r="17.5"/><circle cx="1722.6" cy="1529.4" r="17.5"/><circle cx="1724.5" cy="1530.9" r="17.5"/><circle cx="1726.4" cy="1533.5" r="17.5"/><circle cx="1728.3" cy="1526.9" r="17.5"/><circle cx="1730.2" cy="1529.8" r="17.5"/><circle cx="1732.1" cy="1532.6" r="17.5"/><circle cx="1734" cy="1530.1" r="17.5"/><circle cx="1735.9" cy="1531.3" r="17.5"/><circle cx="1737.8" cy="1529.1" r="17.5"/><circle cx="1739.7" cy="1526.2" r="17.5"/><circle cx="1741.6" cy="1533.4" r="17.5"/><circle cx="1743.5" cy="1535.4" r="17.5"/><circle cx="1745.4" cy="1527.5" r="17.5"/><circle cx="1747.3" cy="1524.4" r="17.5"/><circle cx="1749.2" cy="1534.1" r="17.5"/><circle cx="1751.1" cy="1535.2" r="17.5"/><circle cx="1753" cy="1536.3" r="17.5"/><circle cx="1754.9" cy="1532.7" r="17.5"/><circle cx="1756.7" cy="1532.5" r="17.5"/><circle cx="1758.6" cy="1533.8" r="17.5"/><circle cx="1760.5" cy="1530.5" r="17.5"/><circle cx="1762.4" cy="1535.8" r="17.5"/><circle cx="1764.3" cy="1535.2" r="17.5"/><circle cx="1766.2" cy="1537.4" r="17.5"/><circle cx="1768.1" cy="1529.1" r="17.5"/><circle cx="1770" cy="1530.2" r="17.5"/><circle cx="1771.9" cy="1529.5" r="17.5"/><circle cx="1773.8" cy="1536.4" r="17.5"/><circle cx="1775.7" cy="1529.5" r="17.5"/><circle cx="1777.6" cy="1532.8" r="17.5"/><circle cx="1779.5" cy="1531.5" r="17.5"/><circle cx="1781.4" cy="1531.9" r="17.5"/><circle cx="1783.3" cy="1534.8" r="17.5"/><circle cx="1785.2" cy="1534.3" r="17.5"/><circle cx="1787.1" cy="1538.6" r="17.5"/><circle cx="1789" cy="1535.5" r="17.5"/><circle cx="1790.9" cy="1534.5" r="17.5"/><circle cx="1792.8" cy="1537.4" r="17.5"/><circle cx="1794.7" cy="1533.5" r="17.5"/><circle cx="1796.6" cy="1529.7" r="17.5"/><circle cx="1798.5" cy="1535.3" r="17.5"/><circle cx="1800.3" cy="1536.8" r="17.5"/><circle cx="1802.2" cy="1536.5" r="17.5"/><circle cx="1804.1" cy="1533.2" r="17.5"/><circle cx="1806" cy="1528.3" r="17.5"/><circle cx="1807.9" cy="1533.3" r="17.5"/><circle cx="1809.8" cy="1533.6" r="17.5"/><circle cx="1811.7" cy="1537.7" r="17.5"/><circle cx="1813.6" cy="1532.7" r="17.5"/><circle cx="1815.5" cy="1531.8" r="17.5"/><circle cx="1817.4" cy="1535.1" r="17.5"/><circle cx="1819.3" cy="1533.9" r="17.5"/><circle cx="1821.2" cy="1535.9" r="17.5"/><circle cx="1823.1" cy="1531.5" r="17.5"/><circle cx="1825" cy="1529.6" r="17.5"/><circle cx="1826.9" cy="1532.6" r="17.5"/><circle cx="1828.8" cy="1532.2" r="17.5"/><circle cx="1830.7" cy="1533.7" r="17.5"/><circle cx="1832.6" cy="1535.9" r="17.5"/><circle cx="1834.5" cy="1536.3" r="17.5"/><circle cx="1836.4" cy="1535.2" r="17.5"/><circle cx="1838.3" cy="1533.7" r="17.5"/><circle cx="1840.2" cy="1534.1" r="17.5"/><circle cx="1842.1" cy="1531" r="17.5"/><circle cx="1844" cy="1532" r="17.5"/><circle cx="1845.8" cy="1529.8" r="17.5"/><circle cx="1847.7" cy="1532.2" r="17.5"/><circle cx="1849.6" cy="1535.5" r="17.5"/><circle cx="1851.5" cy="1534.6" r="17.5"/><circle cx="1853.4" cy="1540.2" r="17.5"/><circle cx="1855.3" cy="1530" r="17.5"/><circle cx="1857.2" cy="1537.3" r="17.5"/><circle cx="1859.1" cy="1544.1" r="17.5"/><circle cx="1861" cy="1530.1" r="17.5"/><circle cx="1862.9" cy="1539.4" r="17.5"/><circle cx="1864.8" cy="1538.2" r="17.5"/><circle cx="1866.7" cy="1536.6" r="17.5"/><circle cx="1868.6" cy="1538.5" r="17.5"/><circle cx="1870.5" cy="1536.5" r="17.5"/><circle cx="1872.4" cy="1536.2" r="17.5"/><circle cx="1874.3" cy="1535.2" r="17.5"/><circle cx="1876.2" cy="1537.7" r="17.5"/><circle cx="1878.1" cy="1535.3" r="17.5"/><circle cx="1880" cy="1538.7" r="17.5"/><circle cx="1881.9" cy="1535.9" r="17.5"/><circle cx="1883.8" cy="1534.3" r="17.5"/><circle cx="1885.7" cy="1543.5" r="17.5"/><circle cx="1887.6" cy="1538.9" r="17.5"/><circle cx="1889.5" cy="1537.7" r="17.5"/><circle cx="1891.3" cy="1544.3" r="17.5"/><circle cx="1893.2" cy="1548.1" r="17.5"/><circle cx="1895.1" cy="1537.6" r="17.5"/><circle cx="1897" cy="1540.6" r="17.5"/><circle cx="1898.9" cy="1536.2" r="17.5"/><circle cx="1900.8" cy="1538.8" r="17.5"/><circle cx="1902.7" cy="1538.9" r="17.5"/><circle cx="1904.6" cy="1540" r="17.5"/><circle cx="1906.5" cy="1538.6" r="17.5"/><circle cx="1908.4" cy="1541.8" r="17.5"/><circle cx="1910.3" cy="1540.7" r="17.5"/><circle cx="1912.2" cy="1536.6" r="17.5"/><circle cx="1914.1" cy="1540" r="17.5"/><circle cx="1916" cy="1537.6" r="17.5"/><circle cx="1917.9" cy="1539.3" r="17.5"/><circle cx="1919.8" cy="1540.4" r="17.5"/><circle cx="1921.7" cy="1542.4" r="17.5"/><circle cx="1923.6" cy="1536.8" r="17.5"/><circle cx="1925.5" cy="1542.1" r="17.5"/><circle cx="1927.4" cy="1538.4" r="17.5"/><circle cx="1929.3" cy="1544.6" r="17.5"/><circle cx="1931.2" cy="1538.9" r="17.5"/><circle cx="1933.1" cy="1538.6" r="17.5"/><circle cx="1935" cy="1541.9" r="17.5"/><circle cx="1936.8" cy="1545.1" r="17.5"/><circle cx="1938.7" cy="1540.6" r="17.5"/><circle cx="1940.6" cy="1539.9" r="17.5"/><circle cx="1942.5" cy="1542" r="17.5"/><circle cx="1944.4" cy="1542.6" r="17.5"/><circle cx="1946.3" cy="1537.7" r="17.5"/><circle cx="1948.2" cy="1541.2" r="17.5"/><circle cx="1950.1" cy="1542.4" r="17.5"/><circle cx="1952" cy="1538.7" r="17.5"/><circle cx="1953.9" cy="1541.6" r="17.5"/><circle cx="1955.8" cy="1544" r="17.5"/><circle cx="1957.7" cy="1539.2" r="17.5"/><circle cx="1959.6" cy="1543.3" r="17.5"/><circle cx="1961.5" cy="1539.3" r="17.5"/><circle cx="1963.4" cy="1544.4" r="17.5"/><circle cx="1965.3" cy="1541.4" r="17.5"/><circle cx="1967.2" cy="1538.6" r="17.5"/><circle cx="1969.1" cy="1541.2" r="17.5"/><circle cx="1971" cy="1541.1" r="17.5"/><circle cx="1972.9" cy="1541.3" r="17.5"/><circle cx="1974.8" cy="1540.1" r="17.5"/><circle cx="1976.7" cy="1542.7" r="17.5"/><circle cx="1978.6" cy="1541.6" r="17.5"/><circle cx="1980.5" cy="1543.8" r="17.5"/><circle cx="1982.3" cy="1537.1" r="17.5"/><circle cx="1984.2" cy="1545.9" r="17.5"/><circle cx="1986.1" cy="1540.7" r="17.5"/><circle cx="1988" cy="1546.4" r="17.5"/><circle cx="1989.9" cy="1541.7" r="17.5"/><circle cx="1991.8" cy="1539.3" r="17.5"/><circle cx="1993.7" cy="1546.9" r="17.5"/><circle cx="1995.6" cy="1538" r="17.5"/><circle cx="1997.5" cy="1546.6" r="17.5"/><circle cx="1999.4" cy="1546.2" r="17.5"/><circle cx="2001.3" cy="1542.7" r="17.5"/><circle cx="2003.2" cy="1547.2" r="17.5"/><circle cx="2005.1" cy="1540.7" r="17.5"/><circle cx="2007" cy="1542.3" r="17.5"/><circle cx="2008.9" cy="1552.3" r="17.5"/><circle cx="2010.8" cy="1548.3" r="17.5"/><circle cx="2012.7" cy="1546.1" r="17.5"/><circle cx="2014.6" cy="1542.6" r="17.5"/><circle cx="2016.5" cy="1547.3" r="17.5"/><circle cx="2018.4" cy="1546.2" r="17.5"/><circle cx="2020.3" cy="1542" r="17.5"/><circle cx="2022.2" cy="1547" r="17.5"/><circle cx="2024.1" cy="1543" r="17.5"/><circle cx="2025.9" cy="1548.2" r="17.5"/><circle cx="2027.8" cy="1540.8" r="17.5"/><circle cx="2029.7" cy="1539.5" r="17.5"/><circle cx="2031.6" cy="1547.5" r="17.5"/><circle cx="2033.5" cy="1551.3" r="17.5"/><circle cx="2035.4" cy="1549.2" r="17.5"/><circle cx="2037.3" cy="1540.9" r="17.5"/><circle cx="2039.2" cy="1545.7" r="17.5"/><circle cx="2041.1" cy="1540.7" r="17.5"/><circle cx="2043" cy="1548.1" r="17.5"/><circle cx="2044.9" cy="1546.9" r="17.5"/><circle cx="2046.8" cy="1544.3" r="17.5"/><circle cx="2048.7" cy="1540.6" r="17.5"/><circle cx="2050.6" cy="1544.7" r="17.5"/><circle cx="2052.5" cy="1547.2" r="17.5"/><circle cx="2054.4" cy="1543" r="17.5"/><circle cx="2056.3" cy="1543.7" r="17.5"/><circle cx="2058.2" cy="1542.4" r="17.5"/><circle cx="2060.1" cy="1544.5" r="17.5"/><circle cx="2062" cy="1545.9" r="17.5"/><circle cx="2063.9" cy="1543.9" r="17.5"/><circle cx="2065.8" cy="1551.7" r="17.5"/><circle cx="2067.7" cy="1543.1" r="17.5"/><circle cx="2069.6" cy="1540.1" r="17.5"/><circle cx="2071.4" cy="1542.3" r="17.5"/><circle cx="2073.3" cy="1547" r="17.5"/><circle cx="2075.2" cy="1548.8" r="17.5"/><circle cx="2077.1" cy="1539.9" r="17.5"/><circle cx="2079" cy="1545.6" r="17.5"/><circle cx="2080.9" cy="1544.6" r="17.5"/><circle cx="2082.8" cy="1543.3" r="17.5"/><circle cx="2084.7" cy="1545.8" r="17.5"/><circle cx="2086.6" cy="1543.9" r="17.5"/><circle cx="2088.5" cy="1539.3" r="17.5"/><circle cx="2090.4" cy="1545.5" r="17.5"/><circle cx="2092.3" cy="1537.9" r="17.5"/><circle cx="2094.2" cy="1542.7" r="17.5"/><circle cx="2096.1" cy="1542.9" r="17.5"/><circle cx="2098" cy="1540.9" r="17.5"/><circle cx="2099.9" cy="1540.9" r="17.5"/><circle cx="2101.8" cy="1540.4" r="17.5"/><circle cx="2103.7" cy="1541.9" r="17.5"/><circle cx="2105.6" cy="1545.4" r="17.5"/><circle cx="2107.5" cy="1538.4" r="17.5"/><circle cx="2109.4" cy="1543.9" r="17.5"/><circle cx="2111.3" cy="1546" r="17.5"/><circle cx="2113.2" cy="1540.5" r="17.5"/><circle cx="2115.1" cy="1541.2" r="17.5"/><circle cx="2116.9" cy="1543.2" r="17.5"/><circle cx="2118.8" cy="1542.8" r="17.5"/><circle cx="2120.7" cy="1541.1" r="17.5"/><circle cx="2122.6" cy="1536.9" r="17.5"/><circle cx="2124.5" cy="1543" r="17.5"/><circle cx="2126.4" cy="1546.6" r="17.5"/><circle cx="2128.3" cy="1544.4" r="17.5"/><circle cx="2130.2" cy="1540.9" r="17.5"/><circle cx="2132.1" cy="1543" r="17.5"/><circle cx="2134" cy="1544.4" r="17.5"/><circle cx="2135.9" cy="1539.9" r="17.5"/><circle cx="2137.8" cy="1539.8" r="17.5"/><circle cx="2139.7" cy="1542.7" r="17.5"/><circle cx="2141.6" cy="1541" r="17.5"/><circle cx="2143.5" cy="1543.8" r="17.5"/><circle cx="2145.4" cy="1543.6" r="17.5"/><circle cx="2147.3" cy="1542.7" r="17.5"/><circle cx="2149.2" cy="1545.8" r="17.5"/><circle cx="2151.1" cy="1540.4" r="17.5"/><circle cx="2153" cy="1541.7" r="17.5"/><circle cx="2154.9" cy="1542.9" r="17.5"/><circle cx="2156.8" cy="1541" r="17.5"/><circle cx="2158.7" cy="1540.8" r="17.5"/><circle cx="2160.6" cy="1543.5" r="17.5"/><circle cx="2162.4" cy="1542.9" r="17.5"/><circle cx="2164.3" cy="1543.5" r="17.5"/><circle cx="2166.2" cy="1536.7" r="17.5"/><circle cx="2168.1" cy="1546" r="17.5"/><circle cx="2170" cy="1540.9" r="17.5"/><circle cx="2171.9" cy="1537.9" r="17.5"/><circle cx="2173.8" cy="1543.7" r="17.5"/><circle cx="2175.7" cy="1543" r="17.5"/><circle cx="2177.6" cy="1542.6" r="17.5"/><circle cx="2179.5" cy="1544.6" r="17.5"/><circle cx="2181.4" cy="1534.6" r="17.5"/><circle cx="2183.3" cy="1546.7" r="17.5"/><circle cx="2185.2" cy="1540" r="17.5"/><circle cx="2187.1" cy="1537.5" r="17.5"/><circle cx="2189" cy="1533.5" r="17.5"/><circle cx="2190.9" cy="1533.1" r="17.5"/><circle cx="2192.8" cy="1532.9" r="17.5"/><circle cx="2194.7" cy="1527.1" r="17.5"/><circle cx="2196.6" cy="1530.6" r="17.5"/><circle cx="2198.5" cy="1528.3" r="17.5"/><circle cx="2200.4" cy="1526" r="17.5"/><circle cx="2202.3" cy="1528.6" r="17.5"/></g><g fill="url(#gR)"><circle cx="298.9" cy="1476.6" r="17.5"/><circle cx="300.8" cy="1419.8" r="17.5"/><circle cx="302.7" cy="1416.8" r="17.5"/><circle cx="304.6" cy="1409.5" r="17.5"/><circle cx="306.5" cy="1404" r="17.5"/><circle cx="308.4" cy="1400.4" r="17.5"/><circle cx="310.3" cy="1398.3" r="17.5"/><circle cx="312.1" cy="1398.7" r="17.5"/><circle cx="314" cy="1394.3" r="17.5"/><circle cx="315.9" cy="1391.4" r="17.5"/><circle cx="317.8" cy="1395.9" r="17.5"/><circle cx="319.7" cy="1393.4" r="17.5"/><circle cx="321.6" cy="1392.4" r="17.5"/><circle cx="323.5" cy="1388.2" r="17.5"/><circle cx="325.4" cy="1388.4" r="17.5"/><circle cx="327.3" cy="1393.8" r="17.5"/><circle cx="329.2" cy="1391.1" r="17.5"/><circle cx="331.1" cy="1395.8" r="17.5"/><circle cx="333" cy="1394" r="17.5"/><circle cx="334.9" cy="1390.7" r="17.5"/><circle cx="336.8" cy="1388.6" r="17.5"/><circle cx="338.7" cy="1387.5" r="17.5"/><circle cx="340.6" cy="1391.3" r="17.5"/><circle cx="342.5" cy="1394.5" r="17.5"/><circle cx="344.4" cy="1388.8" r="17.5"/><circle cx="346.3" cy="1390.4" r="17.5"/><circle cx="348.2" cy="1388.2" r="17.5"/><circle cx="350.1" cy="1388.8" r="17.5"/><circle cx="352" cy="1386.8" r="17.5"/><circle cx="353.9" cy="1386.7" r="17.5"/><circle cx="355.7" cy="1385.8" r="17.5"/><circle cx="357.6" cy="1389.6" r="17.5"/><circle cx="359.5" cy="1384.7" r="17.5"/><circle cx="361.4" cy="1389.2" r="17.5"/><circle cx="363.3" cy="1387" r="17.5"/><circle cx="365.2" cy="1381.1" r="17.5"/><circle cx="367.1" cy="1385.5" r="17.5"/><circle cx="369" cy="1390.1" r="17.5"/><circle cx="370.9" cy="1381.4" r="17.5"/><circle cx="372.8" cy="1382.7" r="17.5"/><circle cx="374.7" cy="1382" r="17.5"/><circle cx="376.6" cy="1384.7" r="17.5"/><circle cx="378.5" cy="1383.9" r="17.5"/><circle cx="380.4" cy="1385.5" r="17.5"/><circle cx="382.3" cy="1386.7" r="17.5"/><circle cx="384.2" cy="1379.4" r="17.5"/><circle cx="386.1" cy="1385.2" r="17.5"/><circle cx="388" cy="1385.4" r="17.5"/><circle cx="389.9" cy="1368" r="17.5"/><circle cx="391.8" cy="1378" r="17.5"/><circle cx="393.7" cy="1381.3" r="17.5"/><circle cx="395.6" cy="1385.4" r="17.5"/><circle cx="397.5" cy="1384.6" r="17.5"/><circle cx="399.4" cy="1383.2" r="17.5"/><circle cx="401.2" cy="1382.4" r="17.5"/><circle cx="403.1" cy="1390.6" r="17.5"/><circle cx="405" cy="1383" r="17.5"/><circle cx="406.9" cy="1386.9" r="17.5"/><circle cx="408.8" cy="1388.7" r="17.5"/><circle cx="410.7" cy="1388.1" r="17.5"/><circle cx="412.6" cy="1384.6" r="17.5"/><circle cx="414.5" cy="1381.9" r="17.5"/><circle cx="416.4" cy="1387.2" r="17.5"/><circle cx="418.3" cy="1386.2" r="17.5"/><circle cx="420.2" cy="1390.9" r="17.5"/><circle cx="422.1" cy="1387.1" r="17.5"/><circle cx="424" cy="1386.3" r="17.5"/><circle cx="425.9" cy="1393.9" r="17.5"/><circle cx="427.8" cy="1391.2" r="17.5"/><circle cx="429.7" cy="1387.3" r="17.5"/><circle cx="431.6" cy="1395.7" r="17.5"/><circle cx="433.5" cy="1391.7" r="17.5"/><circle cx="435.4" cy="1388.9" r="17.5"/><circle cx="437.3" cy="1396.5" r="17.5"/><circle cx="439.2" cy="1392.7" r="17.5"/><circle cx="441.1" cy="1391.6" r="17.5"/><circle cx="443" cy="1389.2" r="17.5"/><circle cx="444.9" cy="1396.4" r="17.5"/><circle cx="446.7" cy="1389.1" r="17.5"/><circle cx="448.6" cy="1391.9" r="17.5"/><circle cx="450.5" cy="1389.4" r="17.5"/><circle cx="452.4" cy="1389.8" r="17.5"/><circle cx="454.3" cy="1392.7" r="17.5"/><circle cx="456.2" cy="1392.5" r="17.5"/><circle cx="458.1" cy="1399.9" r="17.5"/><circle cx="460" cy="1398.9" r="17.5"/><circle cx="461.9" cy="1398.1" r="17.5"/><circle cx="463.8" cy="1396.4" r="17.5"/><circle cx="465.7" cy="1392.6" r="17.5"/><circle cx="467.6" cy="1401.6" r="17.5"/><circle cx="469.5" cy="1397.2" r="17.5"/><circle cx="471.4" cy="1400.8" r="17.5"/><circle cx="473.3" cy="1401.9" r="17.5"/><circle cx="475.2" cy="1392.6" r="17.5"/><circle cx="477.1" cy="1397.3" r="17.5"/><circle cx="479" cy="1392.9" r="17.5"/><circle cx="480.9" cy="1394.7" r="17.5"/><circle cx="482.8" cy="1401.8" r="17.5"/><circle cx="484.7" cy="1405.1" r="17.5"/><circle cx="486.6" cy="1393.2" r="17.5"/><circle cx="488.5" cy="1401.4" r="17.5"/><circle cx="490.4" cy="1404.3" r="17.5"/><circle cx="492.2" cy="1399" r="17.5"/><circle cx="494.1" cy="1401.3" r="17.5"/><circle cx="496" cy="1404.5" r="17.5"/><circle cx="497.9" cy="1404.2" r="17.5"/><circle cx="499.8" cy="1403.4" r="17.5"/><circle cx="501.7" cy="1404.6" r="17.5"/><circle cx="503.6" cy="1403.3" r="17.5"/><circle cx="505.5" cy="1407.7" r="17.5"/><circle cx="507.4" cy="1408.5" r="17.5"/><circle cx="509.3" cy="1406.4" r="17.5"/><circle cx="511.2" cy="1408.2" r="17.5"/><circle cx="513.1" cy="1406.6" r="17.5"/><circle cx="515" cy="1411.6" r="17.5"/><circle cx="516.9" cy="1411.9" r="17.5"/><circle cx="518.8" cy="1415.9" r="17.5"/><circle cx="520.7" cy="1408" r="17.5"/><circle cx="522.6" cy="1417.7" r="17.5"/><circle cx="524.5" cy="1413.2" r="17.5"/><circle cx="526.4" cy="1417.2" r="17.5"/><circle cx="528.3" cy="1413.8" r="17.5"/><circle cx="530.2" cy="1413" r="17.5"/><circle cx="532.1" cy="1421" r="17.5"/><circle cx="534" cy="1416.9" r="17.5"/><circle cx="535.9" cy="1422.3" r="17.5"/><circle cx="537.7" cy="1412.7" r="17.5"/><circle cx="539.6" cy="1419" r="17.5"/><circle cx="541.5" cy="1423" r="17.5"/><circle cx="543.4" cy="1420.6" r="17.5"/><circle cx="545.3" cy="1414.6" r="17.5"/><circle cx="547.2" cy="1414.5" r="17.5"/><circle cx="549.1" cy="1415.5" r="17.5"/><circle cx="551" cy="1422.4" r="17.5"/><circle cx="552.9" cy="1420.8" r="17.5"/><circle cx="554.8" cy="1415.5" r="17.5"/><circle cx="556.7" cy="1423.3" r="17.5"/><circle cx="558.6" cy="1422.4" r="17.5"/><circle cx="560.5" cy="1424.8" r="17.5"/><circle cx="562.4" cy="1425.8" r="17.5"/><circle cx="564.3" cy="1418.6" r="17.5"/><circle cx="566.2" cy="1420.8" r="17.5"/><circle cx="568.1" cy="1421.7" r="17.5"/><circle cx="570" cy="1421.7" r="17.5"/><circle cx="571.9" cy="1420.6" r="17.5"/><circle cx="573.8" cy="1419.4" r="17.5"/><circle cx="575.7" cy="1424.6" r="17.5"/><circle cx="577.6" cy="1426" r="17.5"/><circle cx="579.5" cy="1428.5" r="17.5"/><circle cx="581.4" cy="1422.2" r="17.5"/><circle cx="583.2" cy="1427.6" r="17.5"/><circle cx="585.1" cy="1431.1" r="17.5"/><circle cx="587" cy="1427.5" r="17.5"/><circle cx="588.9" cy="1426.9" r="17.5"/><circle cx="590.8" cy="1424.7" r="17.5"/><circle cx="592.7" cy="1424.5" r="17.5"/><circle cx="594.6" cy="1430.3" r="17.5"/><circle cx="596.5" cy="1430.8" r="17.5"/><circle cx="598.4" cy="1429.6" r="17.5"/><circle cx="600.3" cy="1432.8" r="17.5"/><circle cx="602.2" cy="1429.6" r="17.5"/><circle cx="604.1" cy="1428.1" r="17.5"/><circle cx="606" cy="1429.7" r="17.5"/><circle cx="607.9" cy="1435.3" r="17.5"/><circle cx="609.8" cy="1434.3" r="17.5"/><circle cx="611.7" cy="1426.7" r="17.5"/><circle cx="613.6" cy="1434.3" r="17.5"/><circle cx="615.5" cy="1429.1" r="17.5"/><circle cx="617.4" cy="1429.7" r="17.5"/><circle cx="619.3" cy="1433.1" r="17.5"/><circle cx="621.2" cy="1435.5" r="17.5"/><circle cx="623.1" cy="1432" r="17.5"/><circle cx="625" cy="1435.8" r="17.5"/><circle cx="626.8" cy="1433.8" r="17.5"/><circle cx="628.7" cy="1433.3" r="17.5"/><circle cx="630.6" cy="1436.2" r="17.5"/><circle cx="632.5" cy="1435" r="17.5"/><circle cx="634.4" cy="1435.5" r="17.5"/><circle cx="636.3" cy="1438.8" r="17.5"/><circle cx="638.2" cy="1435.8" r="17.5"/><circle cx="640.1" cy="1437.6" r="17.5"/><circle cx="642" cy="1441.7" r="17.5"/><circle cx="643.9" cy="1437.3" r="17.5"/><circle cx="645.8" cy="1437.4" r="17.5"/><circle cx="647.7" cy="1438.8" r="17.5"/><circle cx="649.6" cy="1443.7" r="17.5"/><circle cx="651.5" cy="1435.1" r="17.5"/><circle cx="653.4" cy="1435.7" r="17.5"/><circle cx="655.3" cy="1436.1" r="17.5"/><circle cx="657.2" cy="1437.5" r="17.5"/><circle cx="659.1" cy="1442.8" r="17.5"/><circle cx="661" cy="1438.8" r="17.5"/><circle cx="662.9" cy="1442.5" r="17.5"/><circle cx="664.8" cy="1432.9" r="17.5"/><circle cx="666.7" cy="1441.8" r="17.5"/><circle cx="668.6" cy="1438.4" r="17.5"/><circle cx="670.5" cy="1445.7" r="17.5"/><circle cx="672.3" cy="1444.9" r="17.5"/><circle cx="674.2" cy="1443.2" r="17.5"/><circle cx="676.1" cy="1439.6" r="17.5"/><circle cx="678" cy="1440.4" r="17.5"/><circle cx="679.9" cy="1441.5" r="17.5"/><circle cx="681.8" cy="1448.6" r="17.5"/><circle cx="683.7" cy="1439.4" r="17.5"/><circle cx="685.6" cy="1446.2" r="17.5"/><circle cx="687.5" cy="1438.5" r="17.5"/><circle cx="689.4" cy="1438" r="17.5"/><circle cx="691.3" cy="1441.6" r="17.5"/><circle cx="693.2" cy="1441.3" r="17.5"/><circle cx="695.1" cy="1448.7" r="17.5"/><circle cx="697" cy="1436.8" r="17.5"/><circle cx="698.9" cy="1444.5" r="17.5"/><circle cx="700.8" cy="1442.3" r="17.5"/><circle cx="702.7" cy="1448.4" r="17.5"/><circle cx="704.6" cy="1446.1" r="17.5"/><circle cx="706.5" cy="1449.9" r="17.5"/><circle cx="708.4" cy="1447.1" r="17.5"/><circle cx="710.3" cy="1446.6" r="17.5"/><circle cx="712.2" cy="1446" r="17.5"/><circle cx="714.1" cy="1442.7" r="17.5"/><circle cx="716" cy="1445.8" r="17.5"/><circle cx="717.8" cy="1446.8" r="17.5"/><circle cx="719.7" cy="1447.7" r="17.5"/><circle cx="721.6" cy="1441.7" r="17.5"/><circle cx="723.5" cy="1450.1" r="17.5"/><circle cx="725.4" cy="1444.8" r="17.5"/><circle cx="727.3" cy="1455" r="17.5"/><circle cx="729.2" cy="1451.9" r="17.5"/><circle cx="731.1" cy="1448.1" r="17.5"/><circle cx="733" cy="1450.2" r="17.5"/><circle cx="734.9" cy="1440.5" r="17.5"/><circle cx="736.8" cy="1442.1" r="17.5"/><circle cx="738.7" cy="1455.4" r="17.5"/><circle cx="740.6" cy="1454.4" r="17.5"/><circle cx="742.5" cy="1451.8" r="17.5"/><circle cx="744.4" cy="1446.2" r="17.5"/><circle cx="746.3" cy="1448.6" r="17.5"/><circle cx="748.2" cy="1451.7" r="17.5"/><circle cx="750.1" cy="1457.8" r="17.5"/><circle cx="752" cy="1456.6" r="17.5"/><circle cx="753.9" cy="1463" r="17.5"/><circle cx="755.8" cy="1459.9" r="17.5"/><circle cx="757.7" cy="1454.2" r="17.5"/><circle cx="759.6" cy="1453.5" r="17.5"/><circle cx="761.5" cy="1460.5" r="17.5"/><circle cx="763.3" cy="1456.4" r="17.5"/><circle cx="765.2" cy="1451.9" r="17.5"/><circle cx="767.1" cy="1456.8" r="17.5"/><circle cx="769" cy="1458.6" r="17.5"/><circle cx="770.9" cy="1456" r="17.5"/><circle cx="772.8" cy="1456.5" r="17.5"/><circle cx="774.7" cy="1458.2" r="17.5"/><circle cx="776.6" cy="1460.4" r="17.5"/><circle cx="778.5" cy="1460.3" r="17.5"/><circle cx="780.4" cy="1458.9" r="17.5"/><circle cx="782.3" cy="1461.2" r="17.5"/><circle cx="784.2" cy="1455.5" r="17.5"/><circle cx="786.1" cy="1457.1" r="17.5"/><circle cx="788" cy="1456.7" r="17.5"/><circle cx="789.9" cy="1453.9" r="17.5"/><circle cx="791.8" cy="1455.6" r="17.5"/><circle cx="793.7" cy="1456.3" r="17.5"/><circle cx="795.6" cy="1459.9" r="17.5"/><circle cx="797.5" cy="1461.9" r="17.5"/><circle cx="799.4" cy="1454.2" r="17.5"/><circle cx="801.3" cy="1463.9" r="17.5"/><circle cx="803.2" cy="1463.9" r="17.5"/><circle cx="805.1" cy="1465" r="17.5"/><circle cx="807" cy="1461.8" r="17.5"/><circle cx="808.8" cy="1461.4" r="17.5"/><circle cx="810.7" cy="1449.1" r="17.5"/><circle cx="812.6" cy="1464" r="17.5"/><circle cx="814.5" cy="1469.1" r="17.5"/><circle cx="816.4" cy="1462.9" r="17.5"/><circle cx="818.3" cy="1461.2" r="17.5"/><circle cx="820.2" cy="1464.5" r="17.5"/><circle cx="822.1" cy="1465.3" r="17.5"/><circle cx="824" cy="1463.5" r="17.5"/><circle cx="825.9" cy="1461.1" r="17.5"/><circle cx="827.8" cy="1466.1" r="17.5"/><circle cx="829.7" cy="1470.8" r="17.5"/><circle cx="831.6" cy="1468.4" r="17.5"/><circle cx="833.5" cy="1467.5" r="17.5"/><circle cx="835.4" cy="1473" r="17.5"/><circle cx="837.3" cy="1465.3" r="17.5"/><circle cx="839.2" cy="1470.5" r="17.5"/><circle cx="841.1" cy="1466.8" r="17.5"/><circle cx="843" cy="1468.1" r="17.5"/><circle cx="844.9" cy="1470.1" r="17.5"/><circle cx="846.8" cy="1464.3" r="17.5"/><circle cx="848.7" cy="1471.5" r="17.5"/><circle cx="850.6" cy="1472.2" r="17.5"/><circle cx="852.4" cy="1469.5" r="17.5"/><circle cx="854.3" cy="1468.1" r="17.5"/><circle cx="856.2" cy="1471" r="17.5"/><circle cx="858.1" cy="1474.4" r="17.5"/><circle cx="860" cy="1469.4" r="17.5"/><circle cx="861.9" cy="1470" r="17.5"/><circle cx="863.8" cy="1465.6" r="17.5"/><circle cx="865.7" cy="1473.1" r="17.5"/><circle cx="867.6" cy="1471.9" r="17.5"/><circle cx="869.5" cy="1474.6" r="17.5"/><circle cx="871.4" cy="1477.7" r="17.5"/><circle cx="873.3" cy="1473" r="17.5"/><circle cx="875.2" cy="1470.7" r="17.5"/><circle cx="877.1" cy="1476.8" r="17.5"/><circle cx="879" cy="1475.8" r="17.5"/><circle cx="880.9" cy="1477.6" r="17.5"/><circle cx="882.8" cy="1469.8" r="17.5"/><circle cx="884.7" cy="1476.2" r="17.5"/><circle cx="886.6" cy="1472.5" r="17.5"/><circle cx="888.5" cy="1477.2" r="17.5"/><circle cx="890.4" cy="1474.3" r="17.5"/><circle cx="892.3" cy="1476.7" r="17.5"/><circle cx="894.2" cy="1482.2" r="17.5"/><circle cx="896.1" cy="1474.7" r="17.5"/><circle cx="897.9" cy="1473.4" r="17.5"/><circle cx="899.8" cy="1481.7" r="17.5"/><circle cx="901.7" cy="1475.8" r="17.5"/><circle cx="903.6" cy="1476.7" r="17.5"/><circle cx="905.5" cy="1478.9" r="17.5"/><circle cx="907.4" cy="1476.4" r="17.5"/><circle cx="909.3" cy="1481.9" r="17.5"/><circle cx="911.2" cy="1475.1" r="17.5"/><circle cx="913.1" cy="1472.2" r="17.5"/><circle cx="915" cy="1480.1" r="17.5"/><circle cx="916.9" cy="1476.4" r="17.5"/><circle cx="918.8" cy="1471.8" r="17.5"/><circle cx="920.7" cy="1476.1" r="17.5"/><circle cx="922.6" cy="1478.3" r="17.5"/><circle cx="924.5" cy="1479.7" r="17.5"/><circle cx="926.4" cy="1476.4" r="17.5"/><circle cx="928.3" cy="1477.5" r="17.5"/><circle cx="930.2" cy="1475.3" r="17.5"/><circle cx="932.1" cy="1482.2" r="17.5"/><circle cx="934" cy="1474.2" r="17.5"/><circle cx="935.9" cy="1479" r="17.5"/><circle cx="937.8" cy="1475.9" r="17.5"/><circle cx="939.7" cy="1480.4" r="17.5"/><circle cx="941.6" cy="1482.4" r="17.5"/><circle cx="943.4" cy="1480.2" r="17.5"/><circle cx="945.3" cy="1481.6" r="17.5"/><circle cx="947.2" cy="1480" r="17.5"/><circle cx="949.1" cy="1476.9" r="17.5"/><circle cx="951" cy="1475.7" r="17.5"/><circle cx="952.9" cy="1478.7" r="17.5"/><circle cx="954.8" cy="1481.2" r="17.5"/><circle cx="956.7" cy="1481.2" r="17.5"/><circle cx="958.6" cy="1478.1" r="17.5"/><circle cx="960.5" cy="1476.5" r="17.5"/><circle cx="962.4" cy="1481.4" r="17.5"/><circle cx="964.3" cy="1481" r="17.5"/><circle cx="966.2" cy="1483.2" r="17.5"/><circle cx="968.1" cy="1480.4" r="17.5"/><circle cx="970" cy="1478.2" r="17.5"/><circle cx="971.9" cy="1490.7" r="17.5"/><circle cx="973.8" cy="1480.9" r="17.5"/><circle cx="975.7" cy="1483.8" r="17.5"/><circle cx="977.6" cy="1489.6" r="17.5"/><circle cx="979.5" cy="1481.6" r="17.5"/><circle cx="981.4" cy="1483.1" r="17.5"/><circle cx="983.3" cy="1482" r="17.5"/><circle cx="985.2" cy="1487.8" r="17.5"/><circle cx="987.1" cy="1477.1" r="17.5"/><circle cx="988.9" cy="1483.9" r="17.5"/><circle cx="990.8" cy="1485.8" r="17.5"/><circle cx="992.7" cy="1480.4" r="17.5"/><circle cx="994.6" cy="1483.7" r="17.5"/><circle cx="996.5" cy="1483.5" r="17.5"/><circle cx="998.4" cy="1482.9" r="17.5"/><circle cx="1000.3" cy="1493.6" r="17.5"/><circle cx="1002.2" cy="1482.1" r="17.5"/><circle cx="1004.1" cy="1488.8" r="17.5"/><circle cx="1006" cy="1487.1" r="17.5"/><circle cx="1007.9" cy="1485.5" r="17.5"/><circle cx="1009.8" cy="1491" r="17.5"/><circle cx="1011.7" cy="1488" r="17.5"/><circle cx="1013.6" cy="1486.9" r="17.5"/><circle cx="1015.5" cy="1489.8" r="17.5"/><circle cx="1017.4" cy="1488.4" r="17.5"/><circle cx="1019.3" cy="1495.3" r="17.5"/><circle cx="1021.2" cy="1494.3" r="17.5"/><circle cx="1023.1" cy="1494.4" r="17.5"/><circle cx="1025" cy="1489.9" r="17.5"/><circle cx="1026.9" cy="1479.5" r="17.5"/><circle cx="1028.8" cy="1490.8" r="17.5"/><circle cx="1030.7" cy="1492.4" r="17.5"/><circle cx="1032.6" cy="1492.4" r="17.5"/><circle cx="1034.4" cy="1489.4" r="17.5"/><circle cx="1036.3" cy="1490.5" r="17.5"/><circle cx="1038.2" cy="1496.7" r="17.5"/><circle cx="1040.1" cy="1490.1" r="17.5"/><circle cx="1042" cy="1493.7" r="17.5"/><circle cx="1043.9" cy="1491.3" r="17.5"/><circle cx="1045.8" cy="1500.5" r="17.5"/><circle cx="1047.7" cy="1499.4" r="17.5"/><circle cx="1049.6" cy="1492.9" r="17.5"/><circle cx="1051.5" cy="1500.8" r="17.5"/><circle cx="1053.4" cy="1494.2" r="17.5"/><circle cx="1055.3" cy="1494.7" r="17.5"/><circle cx="1057.2" cy="1495.6" r="17.5"/><circle cx="1059.1" cy="1495.3" r="17.5"/><circle cx="1061" cy="1495.9" r="17.5"/><circle cx="1062.9" cy="1495.6" r="17.5"/><circle cx="1064.8" cy="1498.7" r="17.5"/><circle cx="1066.7" cy="1497.8" r="17.5"/><circle cx="1068.6" cy="1488.8" r="17.5"/><circle cx="1070.5" cy="1494.9" r="17.5"/><circle cx="1072.4" cy="1496.9" r="17.5"/><circle cx="1074.3" cy="1497.9" r="17.5"/><circle cx="1076.2" cy="1501.8" r="17.5"/><circle cx="1078" cy="1499.2" r="17.5"/><circle cx="1079.9" cy="1501" r="17.5"/><circle cx="1081.8" cy="1497.6" r="17.5"/><circle cx="1083.7" cy="1503.9" r="17.5"/><circle cx="1085.6" cy="1508.8" r="17.5"/><circle cx="1087.5" cy="1503.5" r="17.5"/><circle cx="1089.4" cy="1499.9" r="17.5"/><circle cx="1091.3" cy="1494.7" r="17.5"/><circle cx="1093.2" cy="1499.6" r="17.5"/><circle cx="1095.1" cy="1506.3" r="17.5"/><circle cx="1097" cy="1504.2" r="17.5"/><circle cx="1098.9" cy="1506.9" r="17.5"/><circle cx="1100.8" cy="1504.9" r="17.5"/><circle cx="1102.7" cy="1507.5" r="17.5"/><circle cx="1104.6" cy="1510.2" r="17.5"/><circle cx="1106.5" cy="1504" r="17.5"/><circle cx="1108.4" cy="1505.1" r="17.5"/><circle cx="1110.3" cy="1506.6" r="17.5"/><circle cx="1112.2" cy="1505.3" r="17.5"/><circle cx="1114.1" cy="1500.3" r="17.5"/><circle cx="1116" cy="1506.8" r="17.5"/><circle cx="1117.9" cy="1508.7" r="17.5"/><circle cx="1119.8" cy="1505.1" r="17.5"/><circle cx="1121.7" cy="1513.5" r="17.5"/><circle cx="1123.5" cy="1506.3" r="17.5"/><circle cx="1125.4" cy="1511.5" r="17.5"/><circle cx="1127.3" cy="1512" r="17.5"/><circle cx="1129.2" cy="1509.4" r="17.5"/><circle cx="1131.1" cy="1504.9" r="17.5"/><circle cx="1133" cy="1512.9" r="17.5"/><circle cx="1134.9" cy="1507.9" r="17.5"/><circle cx="1136.8" cy="1510.1" r="17.5"/><circle cx="1138.7" cy="1516.1" r="17.5"/><circle cx="1140.6" cy="1509.2" r="17.5"/><circle cx="1142.5" cy="1515.1" r="17.5"/><circle cx="1144.4" cy="1517.5" r="17.5"/><circle cx="1146.3" cy="1515.7" r="17.5"/><circle cx="1148.2" cy="1515.8" r="17.5"/><circle cx="1150.1" cy="1512" r="17.5"/><circle cx="1152" cy="1516.5" r="17.5"/><circle cx="1153.9" cy="1509.8" r="17.5"/><circle cx="1155.8" cy="1514.1" r="17.5"/><circle cx="1157.7" cy="1517.4" r="17.5"/><circle cx="1159.6" cy="1518" r="17.5"/><circle cx="1161.5" cy="1514.9" r="17.5"/><circle cx="1163.4" cy="1522.3" r="17.5"/><circle cx="1165.3" cy="1523" r="17.5"/><circle cx="1167.2" cy="1519.2" r="17.5"/><circle cx="1169" cy="1514.6" r="17.5"/><circle cx="1170.9" cy="1516.2" r="17.5"/><circle cx="1172.8" cy="1516.9" r="17.5"/><circle cx="1174.7" cy="1517.8" r="17.5"/><circle cx="1176.6" cy="1524.2" r="17.5"/><circle cx="1178.5" cy="1518.5" r="17.5"/><circle cx="1180.4" cy="1523.2" r="17.5"/><circle cx="1182.3" cy="1515.1" r="17.5"/><circle cx="1184.2" cy="1517.9" r="17.5"/><circle cx="1186.1" cy="1518.3" r="17.5"/><circle cx="1188" cy="1516.8" r="17.5"/><circle cx="1189.9" cy="1517.2" r="17.5"/><circle cx="1191.8" cy="1517.6" r="17.5"/><circle cx="1193.7" cy="1517.4" r="17.5"/><circle cx="1195.6" cy="1520.5" r="17.5"/><circle cx="1197.5" cy="1522.9" r="17.5"/><circle cx="1199.4" cy="1517.8" r="17.5"/><circle cx="1201.3" cy="1514.4" r="17.5"/><circle cx="1203.2" cy="1515.9" r="17.5"/><circle cx="1205.1" cy="1519.9" r="17.5"/><circle cx="1207" cy="1517.4" r="17.5"/><circle cx="1208.9" cy="1520.9" r="17.5"/><circle cx="1210.8" cy="1518.4" r="17.5"/><circle cx="1212.7" cy="1521.7" r="17.5"/><circle cx="1214.5" cy="1519.5" r="17.5"/><circle cx="1216.4" cy="1513.7" r="17.5"/><circle cx="1218.3" cy="1517.8" r="17.5"/><circle cx="1220.2" cy="1515.7" r="17.5"/><circle cx="1222.1" cy="1523.1" r="17.5"/><circle cx="1224" cy="1523" r="17.5"/><circle cx="1225.9" cy="1521.2" r="17.5"/><circle cx="1227.8" cy="1519.5" r="17.5"/><circle cx="1229.7" cy="1522.2" r="17.5"/><circle cx="1231.6" cy="1518.7" r="17.5"/><circle cx="1233.5" cy="1523.9" r="17.5"/><circle cx="1235.4" cy="1518.2" r="17.5"/><circle cx="1237.3" cy="1519.7" r="17.5"/><circle cx="1239.2" cy="1526.6" r="17.5"/><circle cx="1241.1" cy="1521.4" r="17.5"/><circle cx="1243" cy="1524.2" r="17.5"/><circle cx="1244.9" cy="1520.5" r="17.5"/><circle cx="1246.8" cy="1525.7" r="17.5"/><circle cx="1248.7" cy="1523.2" r="17.5"/><circle cx="1250.6" cy="1522.7" r="17.5"/><circle cx="1252.5" cy="1533.4" r="17.5"/><circle cx="1254.4" cy="1530.9" r="17.5"/><circle cx="1256.3" cy="1524.8" r="17.5"/><circle cx="1258.2" cy="1525.8" r="17.5"/><circle cx="1260" cy="1522.4" r="17.5"/><circle cx="1261.9" cy="1525.1" r="17.5"/><circle cx="1263.8" cy="1530.1" r="17.5"/><circle cx="1265.7" cy="1525.3" r="17.5"/><circle cx="1267.6" cy="1528.9" r="17.5"/><circle cx="1269.5" cy="1527.5" r="17.5"/><circle cx="1271.4" cy="1528.6" r="17.5"/><circle cx="1273.3" cy="1526.1" r="17.5"/><circle cx="1275.2" cy="1531.9" r="17.5"/><circle cx="1277.1" cy="1531.1" r="17.5"/><circle cx="1279" cy="1534.8" r="17.5"/><circle cx="1280.9" cy="1521.2" r="17.5"/><circle cx="1282.8" cy="1531.3" r="17.5"/><circle cx="1284.7" cy="1531" r="17.5"/><circle cx="1286.6" cy="1532.1" r="17.5"/><circle cx="1288.5" cy="1530.7" r="17.5"/><circle cx="1290.4" cy="1530.2" r="17.5"/><circle cx="1292.3" cy="1527" r="17.5"/><circle cx="1294.2" cy="1528.6" r="17.5"/><circle cx="1296.1" cy="1528.2" r="17.5"/><circle cx="1298" cy="1531.3" r="17.5"/><circle cx="1299.9" cy="1529.8" r="17.5"/><circle cx="1301.8" cy="1525.8" r="17.5"/><circle cx="1303.6" cy="1529.9" r="17.5"/><circle cx="1305.5" cy="1528.9" r="17.5"/><circle cx="1307.4" cy="1536.4" r="17.5"/><circle cx="1309.3" cy="1528.5" r="17.5"/><circle cx="1311.2" cy="1529.4" r="17.5"/><circle cx="1313.1" cy="1526.3" r="17.5"/><circle cx="1315" cy="1539.2" r="17.5"/><circle cx="1316.9" cy="1530.5" r="17.5"/><circle cx="1318.8" cy="1531" r="17.5"/><circle cx="1320.7" cy="1530.5" r="17.5"/><circle cx="1322.6" cy="1532.9" r="17.5"/><circle cx="1324.5" cy="1530.3" r="17.5"/><circle cx="1326.4" cy="1528.8" r="17.5"/><circle cx="1328.3" cy="1531" r="17.5"/><circle cx="1330.2" cy="1532.2" r="17.5"/><circle cx="1332.1" cy="1532" r="17.5"/><circle cx="1334" cy="1532.7" r="17.5"/><circle cx="1335.9" cy="1531.4" r="17.5"/><circle cx="1337.8" cy="1533.9" r="17.5"/><circle cx="1339.7" cy="1538.1" r="17.5"/><circle cx="1341.6" cy="1527.6" r="17.5"/><circle cx="1343.5" cy="1537.5" r="17.5"/><circle cx="1345.4" cy="1532.5" r="17.5"/><circle cx="1347.3" cy="1536.3" r="17.5"/><circle cx="1349.1" cy="1533.2" r="17.5"/><circle cx="1351" cy="1535.5" r="17.5"/><circle cx="1352.9" cy="1532.7" r="17.5"/><circle cx="1354.8" cy="1535.4" r="17.5"/><circle cx="1356.7" cy="1536.9" r="17.5"/><circle cx="1358.6" cy="1532" r="17.5"/><circle cx="1360.5" cy="1528.9" r="17.5"/><circle cx="1362.4" cy="1532.1" r="17.5"/><circle cx="1364.3" cy="1533" r="17.5"/><circle cx="1366.2" cy="1536.8" r="17.5"/><circle cx="1368.1" cy="1533.9" r="17.5"/><circle cx="1370" cy="1532.4" r="17.5"/><circle cx="1371.9" cy="1536" r="17.5"/><circle cx="1373.8" cy="1531.2" r="17.5"/><circle cx="1375.7" cy="1534.4" r="17.5"/><circle cx="1377.6" cy="1533.3" r="17.5"/><circle cx="1379.5" cy="1536.1" r="17.5"/><circle cx="1381.4" cy="1536.3" r="17.5"/><circle cx="1383.3" cy="1534.2" r="17.5"/><circle cx="1385.2" cy="1533.9" r="17.5"/><circle cx="1387.1" cy="1534.2" r="17.5"/><circle cx="1389" cy="1538.8" r="17.5"/><circle cx="1390.9" cy="1538.2" r="17.5"/><circle cx="1392.8" cy="1536.3" r="17.5"/><circle cx="1394.6" cy="1542.5" r="17.5"/><circle cx="1396.5" cy="1533.7" r="17.5"/><circle cx="1398.4" cy="1536.4" r="17.5"/><circle cx="1400.3" cy="1537.7" r="17.5"/><circle cx="1402.2" cy="1540.5" r="17.5"/><circle cx="1404.1" cy="1536" r="17.5"/><circle cx="1406" cy="1539.7" r="17.5"/><circle cx="1407.9" cy="1533.1" r="17.5"/><circle cx="1409.8" cy="1538" r="17.5"/><circle cx="1411.7" cy="1544" r="17.5"/><circle cx="1413.6" cy="1536.9" r="17.5"/><circle cx="1415.5" cy="1540.7" r="17.5"/><circle cx="1417.4" cy="1540.3" r="17.5"/><circle cx="1419.3" cy="1539" r="17.5"/><circle cx="1421.2" cy="1538.2" r="17.5"/><circle cx="1423.1" cy="1536.4" r="17.5"/><circle cx="1425" cy="1534.1" r="17.5"/><circle cx="1426.9" cy="1534.5" r="17.5"/><circle cx="1428.8" cy="1537.6" r="17.5"/><circle cx="1430.7" cy="1539" r="17.5"/><circle cx="1432.6" cy="1536.7" r="17.5"/><circle cx="1434.5" cy="1532.5" r="17.5"/><circle cx="1436.4" cy="1530.4" r="17.5"/><circle cx="1438.3" cy="1527.2" r="17.5"/><circle cx="1440.1" cy="1536.9" r="17.5"/><circle cx="1442" cy="1532.3" r="17.5"/><circle cx="1443.9" cy="1533.2" r="17.5"/><circle cx="1445.8" cy="1533.7" r="17.5"/><circle cx="1447.7" cy="1531.9" r="17.5"/><circle cx="1449.6" cy="1533" r="17.5"/><circle cx="1451.5" cy="1533" r="17.5"/><circle cx="1453.4" cy="1534.1" r="17.5"/><circle cx="1455.3" cy="1530.8" r="17.5"/><circle cx="1457.2" cy="1528.6" r="17.5"/><circle cx="1459.1" cy="1526.7" r="17.5"/><circle cx="1461" cy="1533.5" r="17.5"/><circle cx="1462.9" cy="1535.2" r="17.5"/><circle cx="1464.8" cy="1532.6" r="17.5"/><circle cx="1466.7" cy="1534.4" r="17.5"/><circle cx="1468.6" cy="1528.5" r="17.5"/><circle cx="1470.5" cy="1534.3" r="17.5"/><circle cx="1472.4" cy="1531.4" r="17.5"/><circle cx="1474.3" cy="1535.9" r="17.5"/><circle cx="1476.2" cy="1532.7" r="17.5"/><circle cx="1478.1" cy="1531" r="17.5"/><circle cx="1480" cy="1526.8" r="17.5"/><circle cx="1481.9" cy="1533.8" r="17.5"/><circle cx="1483.8" cy="1530.6" r="17.5"/><circle cx="1485.6" cy="1538.5" r="17.5"/><circle cx="1487.5" cy="1536" r="17.5"/><circle cx="1489.4" cy="1535" r="17.5"/><circle cx="1491.3" cy="1534.3" r="17.5"/><circle cx="1493.2" cy="1531.8" r="17.5"/><circle cx="1495.1" cy="1531.5" r="17.5"/><circle cx="1497" cy="1539" r="17.5"/><circle cx="1498.9" cy="1532.6" r="17.5"/><circle cx="1500.8" cy="1538.2" r="17.5"/><circle cx="1502.7" cy="1529.3" r="17.5"/><circle cx="1504.6" cy="1534.4" r="17.5"/><circle cx="1506.5" cy="1535.3" r="17.5"/><circle cx="1508.4" cy="1536.7" r="17.5"/><circle cx="1510.3" cy="1536.5" r="17.5"/><circle cx="1512.2" cy="1536.6" r="17.5"/><circle cx="1514.1" cy="1539.1" r="17.5"/><circle cx="1516" cy="1534.8" r="17.5"/><circle cx="1517.9" cy="1536.6" r="17.5"/><circle cx="1519.8" cy="1535.4" r="17.5"/><circle cx="1521.7" cy="1538.2" r="17.5"/><circle cx="1523.6" cy="1536.1" r="17.5"/><circle cx="1525.5" cy="1540.9" r="17.5"/><circle cx="1527.4" cy="1527.5" r="17.5"/><circle cx="1529.2" cy="1541.2" r="17.5"/><circle cx="1531.1" cy="1540.5" r="17.5"/><circle cx="1533" cy="1536.2" r="17.5"/><circle cx="1534.9" cy="1535.4" r="17.5"/><circle cx="1536.8" cy="1541.9" r="17.5"/><circle cx="1538.7" cy="1544.7" r="17.5"/><circle cx="1540.6" cy="1543.9" r="17.5"/><circle cx="1542.5" cy="1542.7" r="17.5"/><circle cx="1544.4" cy="1542" r="17.5"/><circle cx="1546.3" cy="1540.1" r="17.5"/><circle cx="1548.2" cy="1536.4" r="17.5"/><circle cx="1550.1" cy="1536.2" r="17.5"/><circle cx="1552" cy="1541.6" r="17.5"/><circle cx="1553.9" cy="1538" r="17.5"/><circle cx="1555.8" cy="1537" r="17.5"/><circle cx="1557.7" cy="1535.3" r="17.5"/><circle cx="1559.6" cy="1540.3" r="17.5"/><circle cx="1561.5" cy="1542.2" r="17.5"/><circle cx="1563.4" cy="1537.5" r="17.5"/><circle cx="1565.3" cy="1535.1" r="17.5"/><circle cx="1567.2" cy="1541.6" r="17.5"/><circle cx="1569.1" cy="1533.7" r="17.5"/><circle cx="1571" cy="1534.5" r="17.5"/><circle cx="1572.9" cy="1540.8" r="17.5"/><circle cx="1574.7" cy="1544.9" r="17.5"/><circle cx="1576.6" cy="1541.8" r="17.5"/><circle cx="1578.5" cy="1541.1" r="17.5"/><circle cx="1580.4" cy="1538.3" r="17.5"/><circle cx="1582.3" cy="1545.2" r="17.5"/><circle cx="1584.2" cy="1531.9" r="17.5"/><circle cx="1586.1" cy="1531.8" r="17.5"/><circle cx="1588" cy="1541" r="17.5"/><circle cx="1589.9" cy="1544" r="17.5"/><circle cx="1591.8" cy="1538" r="17.5"/><circle cx="1593.7" cy="1535.4" r="17.5"/><circle cx="1595.6" cy="1531.7" r="17.5"/><circle cx="1597.5" cy="1533" r="17.5"/><circle cx="1599.4" cy="1535.1" r="17.5"/><circle cx="1601.3" cy="1540" r="17.5"/><circle cx="1603.2" cy="1531.4" r="17.5"/><circle cx="1605.1" cy="1529.8" r="17.5"/><circle cx="1607" cy="1532.8" r="17.5"/><circle cx="1608.9" cy="1530.3" r="17.5"/><circle cx="1610.8" cy="1529.9" r="17.5"/><circle cx="1612.7" cy="1530.6" r="17.5"/><circle cx="1614.6" cy="1532.8" r="17.5"/><circle cx="1616.5" cy="1527.5" r="17.5"/><circle cx="1618.4" cy="1532.4" r="17.5"/><circle cx="1620.2" cy="1523" r="17.5"/><circle cx="1622.1" cy="1529.8" r="17.5"/><circle cx="1624" cy="1525.1" r="17.5"/><circle cx="1625.9" cy="1528.7" r="17.5"/><circle cx="1627.8" cy="1525" r="17.5"/><circle cx="1629.7" cy="1526.7" r="17.5"/><circle cx="1631.6" cy="1524.2" r="17.5"/><circle cx="1633.5" cy="1528.2" r="17.5"/><circle cx="1635.4" cy="1530.7" r="17.5"/><circle cx="1637.3" cy="1526.2" r="17.5"/><circle cx="1639.2" cy="1526.3" r="17.5"/><circle cx="1641.1" cy="1529.8" r="17.5"/><circle cx="1643" cy="1527.1" r="17.5"/><circle cx="1644.9" cy="1530" r="17.5"/><circle cx="1646.8" cy="1524.2" r="17.5"/><circle cx="1648.7" cy="1525.7" r="17.5"/><circle cx="1650.6" cy="1524.3" r="17.5"/><circle cx="1652.5" cy="1516" r="17.5"/><circle cx="1654.4" cy="1523.6" r="17.5"/><circle cx="1656.3" cy="1522.8" r="17.5"/><circle cx="1658.2" cy="1521.9" r="17.5"/><circle cx="1660.1" cy="1524.3" r="17.5"/><circle cx="1662" cy="1525.6" r="17.5"/><circle cx="1663.9" cy="1520.9" r="17.5"/><circle cx="1665.7" cy="1520.4" r="17.5"/><circle cx="1667.6" cy="1532.8" r="17.5"/><circle cx="1669.5" cy="1524" r="17.5"/><circle cx="1671.4" cy="1524.5" r="17.5"/><circle cx="1673.3" cy="1525.2" r="17.5"/><circle cx="1675.2" cy="1519.5" r="17.5"/><circle cx="1677.1" cy="1525.1" r="17.5"/><circle cx="1679" cy="1520.6" r="17.5"/><circle cx="1680.9" cy="1525.1" r="17.5"/><circle cx="1682.8" cy="1524.7" r="17.5"/><circle cx="1684.7" cy="1521.1" r="17.5"/><circle cx="1686.6" cy="1525.8" r="17.5"/><circle cx="1688.5" cy="1524.1" r="17.5"/><circle cx="1690.4" cy="1527.2" r="17.5"/><circle cx="1692.3" cy="1526.6" r="17.5"/><circle cx="1694.2" cy="1521.7" r="17.5"/><circle cx="1696.1" cy="1522.3" r="17.5"/><circle cx="1698" cy="1527.9" r="17.5"/><circle cx="1699.9" cy="1528.3" r="17.5"/><circle cx="1701.8" cy="1516.6" r="17.5"/><circle cx="1703.7" cy="1526.9" r="17.5"/><circle cx="1705.6" cy="1527.9" r="17.5"/><circle cx="1707.5" cy="1523.7" r="17.5"/><circle cx="1709.4" cy="1528" r="17.5"/><circle cx="1711.2" cy="1526.9" r="17.5"/><circle cx="1713.1" cy="1523.1" r="17.5"/><circle cx="1715" cy="1522.9" r="17.5"/><circle cx="1716.9" cy="1526.9" r="17.5"/><circle cx="1718.8" cy="1522.2" r="17.5"/><circle cx="1720.7" cy="1527.1" r="17.5"/><circle cx="1722.6" cy="1527.5" r="17.5"/><circle cx="1724.5" cy="1526.9" r="17.5"/><circle cx="1726.4" cy="1528.1" r="17.5"/><circle cx="1728.3" cy="1525.6" r="17.5"/><circle cx="1730.2" cy="1526.6" r="17.5"/><circle cx="1732.1" cy="1530.1" r="17.5"/><circle cx="1734" cy="1527.3" r="17.5"/><circle cx="1735.9" cy="1529.7" r="17.5"/><circle cx="1737.8" cy="1530" r="17.5"/><circle cx="1739.7" cy="1528.9" r="17.5"/><circle cx="1741.6" cy="1525.4" r="17.5"/><circle cx="1743.5" cy="1527.9" r="17.5"/><circle cx="1745.4" cy="1525" r="17.5"/><circle cx="1747.3" cy="1524.2" r="17.5"/><circle cx="1749.2" cy="1529.5" r="17.5"/><circle cx="1751.1" cy="1531.4" r="17.5"/><circle cx="1753" cy="1532.2" r="17.5"/><circle cx="1754.9" cy="1529" r="17.5"/><circle cx="1756.7" cy="1527.3" r="17.5"/><circle cx="1758.6" cy="1525.1" r="17.5"/><circle cx="1760.5" cy="1534.4" r="17.5"/><circle cx="1762.4" cy="1527.5" r="17.5"/><circle cx="1764.3" cy="1527.1" r="17.5"/><circle cx="1766.2" cy="1522.9" r="17.5"/><circle cx="1768.1" cy="1530.1" r="17.5"/><circle cx="1770" cy="1530.9" r="17.5"/><circle cx="1771.9" cy="1535.6" r="17.5"/><circle cx="1773.8" cy="1533.3" r="17.5"/><circle cx="1775.7" cy="1534.4" r="17.5"/><circle cx="1777.6" cy="1534.1" r="17.5"/><circle cx="1779.5" cy="1533.7" r="17.5"/><circle cx="1781.4" cy="1535.8" r="17.5"/><circle cx="1783.3" cy="1531.2" r="17.5"/><circle cx="1785.2" cy="1529.7" r="17.5"/><circle cx="1787.1" cy="1528.5" r="17.5"/><circle cx="1789" cy="1531.2" r="17.5"/><circle cx="1790.9" cy="1527.6" r="17.5"/><circle cx="1792.8" cy="1527.6" r="17.5"/><circle cx="1794.7" cy="1535.7" r="17.5"/><circle cx="1796.6" cy="1531.8" r="17.5"/><circle cx="1798.5" cy="1534.9" r="17.5"/><circle cx="1800.3" cy="1534" r="17.5"/><circle cx="1802.2" cy="1530.4" r="17.5"/><circle cx="1804.1" cy="1531.3" r="17.5"/><circle cx="1806" cy="1526.3" r="17.5"/><circle cx="1807.9" cy="1524.5" r="17.5"/><circle cx="1809.8" cy="1529.6" r="17.5"/><circle cx="1811.7" cy="1531.6" r="17.5"/><circle cx="1813.6" cy="1531.4" r="17.5"/><circle cx="1815.5" cy="1531" r="17.5"/><circle cx="1817.4" cy="1529.2" r="17.5"/><circle cx="1819.3" cy="1533.3" r="17.5"/><circle cx="1821.2" cy="1529.1" r="17.5"/><circle cx="1823.1" cy="1531.8" r="17.5"/><circle cx="1825" cy="1527.6" r="17.5"/><circle cx="1826.9" cy="1526.7" r="17.5"/><circle cx="1828.8" cy="1525.5" r="17.5"/><circle cx="1830.7" cy="1531.5" r="17.5"/><circle cx="1832.6" cy="1535.3" r="17.5"/><circle cx="1834.5" cy="1536.4" r="17.5"/><circle cx="1836.4" cy="1532" r="17.5"/><circle cx="1838.3" cy="1535.7" r="17.5"/><circle cx="1840.2" cy="1536.5" r="17.5"/><circle cx="1842.1" cy="1532.5" r="17.5"/><circle cx="1844" cy="1534.6" r="17.5"/><circle cx="1845.8" cy="1529.4" r="17.5"/><circle cx="1847.7" cy="1525.6" r="17.5"/><circle cx="1849.6" cy="1532.6" r="17.5"/><circle cx="1851.5" cy="1531.1" r="17.5"/><circle cx="1853.4" cy="1537.2" r="17.5"/><circle cx="1855.3" cy="1531.9" r="17.5"/><circle cx="1857.2" cy="1534.8" r="17.5"/><circle cx="1859.1" cy="1536.3" r="17.5"/><circle cx="1861" cy="1538.9" r="17.5"/><circle cx="1862.9" cy="1528.1" r="17.5"/><circle cx="1864.8" cy="1538.5" r="17.5"/><circle cx="1866.7" cy="1537.4" r="17.5"/><circle cx="1868.6" cy="1533.7" r="17.5"/><circle cx="1870.5" cy="1533.1" r="17.5"/><circle cx="1872.4" cy="1533.2" r="17.5"/><circle cx="1874.3" cy="1534" r="17.5"/><circle cx="1876.2" cy="1537.3" r="17.5"/><circle cx="1878.1" cy="1532.2" r="17.5"/><circle cx="1880" cy="1534.2" r="17.5"/><circle cx="1881.9" cy="1539.6" r="17.5"/><circle cx="1883.8" cy="1530" r="17.5"/><circle cx="1885.7" cy="1536.3" r="17.5"/><circle cx="1887.6" cy="1532.3" r="17.5"/><circle cx="1889.5" cy="1540" r="17.5"/><circle cx="1891.3" cy="1539.3" r="17.5"/><circle cx="1893.2" cy="1537.4" r="17.5"/><circle cx="1895.1" cy="1537.9" r="17.5"/><circle cx="1897" cy="1532.5" r="17.5"/><circle cx="1898.9" cy="1540.9" r="17.5"/><circle cx="1900.8" cy="1535.3" r="17.5"/><circle cx="1902.7" cy="1539.1" r="17.5"/><circle cx="1904.6" cy="1534.4" r="17.5"/><circle cx="1906.5" cy="1535.4" r="17.5"/><circle cx="1908.4" cy="1537.9" r="17.5"/><circle cx="1910.3" cy="1529.1" r="17.5"/><circle cx="1912.2" cy="1536.4" r="17.5"/><circle cx="1914.1" cy="1532.8" r="17.5"/><circle cx="1916" cy="1540.5" r="17.5"/><circle cx="1917.9" cy="1536.8" r="17.5"/><circle cx="1919.8" cy="1536.2" r="17.5"/><circle cx="1921.7" cy="1536.1" r="17.5"/><circle cx="1923.6" cy="1537.7" r="17.5"/><circle cx="1925.5" cy="1539.2" r="17.5"/><circle cx="1927.4" cy="1546.5" r="17.5"/><circle cx="1929.3" cy="1538.6" r="17.5"/><circle cx="1931.2" cy="1539.7" r="17.5"/><circle cx="1933.1" cy="1537.7" r="17.5"/><circle cx="1935" cy="1534.3" r="17.5"/><circle cx="1936.8" cy="1530.1" r="17.5"/><circle cx="1938.7" cy="1535.5" r="17.5"/><circle cx="1940.6" cy="1534.1" r="17.5"/><circle cx="1942.5" cy="1535.4" r="17.5"/><circle cx="1944.4" cy="1535.2" r="17.5"/><circle cx="1946.3" cy="1535.8" r="17.5"/><circle cx="1948.2" cy="1538.7" r="17.5"/><circle cx="1950.1" cy="1539.2" r="17.5"/><circle cx="1952" cy="1537.3" r="17.5"/><circle cx="1953.9" cy="1532.9" r="17.5"/><circle cx="1955.8" cy="1536.4" r="17.5"/><circle cx="1957.7" cy="1533.9" r="17.5"/><circle cx="1959.6" cy="1543.3" r="17.5"/><circle cx="1961.5" cy="1538.4" r="17.5"/><circle cx="1963.4" cy="1538.1" r="17.5"/><circle cx="1965.3" cy="1537.8" r="17.5"/><circle cx="1967.2" cy="1543.9" r="17.5"/><circle cx="1969.1" cy="1545.5" r="17.5"/><circle cx="1971" cy="1546.4" r="17.5"/><circle cx="1972.9" cy="1541.1" r="17.5"/><circle cx="1974.8" cy="1532.4" r="17.5"/><circle cx="1976.7" cy="1539.3" r="17.5"/><circle cx="1978.6" cy="1543.9" r="17.5"/><circle cx="1980.5" cy="1539" r="17.5"/><circle cx="1982.3" cy="1541.1" r="17.5"/><circle cx="1984.2" cy="1539.7" r="17.5"/><circle cx="1986.1" cy="1541.7" r="17.5"/><circle cx="1988" cy="1544.4" r="17.5"/><circle cx="1989.9" cy="1542.1" r="17.5"/><circle cx="1991.8" cy="1538.2" r="17.5"/><circle cx="1993.7" cy="1539.6" r="17.5"/><circle cx="1995.6" cy="1536.7" r="17.5"/><circle cx="1997.5" cy="1544" r="17.5"/><circle cx="1999.4" cy="1537.3" r="17.5"/><circle cx="2001.3" cy="1540.5" r="17.5"/><circle cx="2003.2" cy="1540.1" r="17.5"/><circle cx="2005.1" cy="1536.8" r="17.5"/><circle cx="2007" cy="1541.2" r="17.5"/><circle cx="2008.9" cy="1540" r="17.5"/><circle cx="2010.8" cy="1538.8" r="17.5"/><circle cx="2012.7" cy="1538.8" r="17.5"/><circle cx="2014.6" cy="1538.3" r="17.5"/><circle cx="2016.5" cy="1536.8" r="17.5"/><circle cx="2018.4" cy="1539.2" r="17.5"/><circle cx="2020.3" cy="1542.2" r="17.5"/><circle cx="2022.2" cy="1533.1" r="17.5"/><circle cx="2024.1" cy="1540.9" r="17.5"/><circle cx="2025.9" cy="1539.6" r="17.5"/><circle cx="2027.8" cy="1543.2" r="17.5"/><circle cx="2029.7" cy="1547.7" r="17.5"/><circle cx="2031.6" cy="1543.3" r="17.5"/><circle cx="2033.5" cy="1540.6" r="17.5"/><circle cx="2035.4" cy="1539.1" r="17.5"/><circle cx="2037.3" cy="1540.7" r="17.5"/><circle cx="2039.2" cy="1538.3" r="17.5"/><circle cx="2041.1" cy="1537.7" r="17.5"/><circle cx="2043" cy="1537.7" r="17.5"/><circle cx="2044.9" cy="1540.8" r="17.5"/><circle cx="2046.8" cy="1540.5" r="17.5"/><circle cx="2048.7" cy="1541.5" r="17.5"/><circle cx="2050.6" cy="1543.6" r="17.5"/><circle cx="2052.5" cy="1536.3" r="17.5"/><circle cx="2054.4" cy="1544.7" r="17.5"/><circle cx="2056.3" cy="1541" r="17.5"/><circle cx="2058.2" cy="1540.1" r="17.5"/><circle cx="2060.1" cy="1547.6" r="17.5"/><circle cx="2062" cy="1538.4" r="17.5"/><circle cx="2063.9" cy="1541.9" r="17.5"/><circle cx="2065.8" cy="1540.1" r="17.5"/><circle cx="2067.7" cy="1541.8" r="17.5"/><circle cx="2069.6" cy="1545.7" r="17.5"/><circle cx="2071.4" cy="1540.2" r="17.5"/><circle cx="2073.3" cy="1540.5" r="17.5"/><circle cx="2075.2" cy="1537.6" r="17.5"/><circle cx="2077.1" cy="1539.3" r="17.5"/><circle cx="2079" cy="1546.1" r="17.5"/><circle cx="2080.9" cy="1537.3" r="17.5"/><circle cx="2082.8" cy="1538.3" r="17.5"/><circle cx="2084.7" cy="1538.4" r="17.5"/><circle cx="2086.6" cy="1539.3" r="17.5"/><circle cx="2088.5" cy="1543" r="17.5"/><circle cx="2090.4" cy="1539.1" r="17.5"/><circle cx="2092.3" cy="1541.9" r="17.5"/><circle cx="2094.2" cy="1531.6" r="17.5"/><circle cx="2096.1" cy="1541.4" r="17.5"/><circle cx="2098" cy="1544.2" r="17.5"/><circle cx="2099.9" cy="1541.7" r="17.5"/><circle cx="2101.8" cy="1536" r="17.5"/><circle cx="2103.7" cy="1542.3" r="17.5"/><circle cx="2105.6" cy="1548.2" r="17.5"/><circle cx="2107.5" cy="1535.7" r="17.5"/><circle cx="2109.4" cy="1539.2" r="17.5"/><circle cx="2111.3" cy="1541.8" r="17.5"/><circle cx="2113.2" cy="1537.9" r="17.5"/><circle cx="2115.1" cy="1543" r="17.5"/><circle cx="2116.9" cy="1543.7" r="17.5"/><circle cx="2118.8" cy="1536.9" r="17.5"/><circle cx="2120.7" cy="1551" r="17.5"/><circle cx="2122.6" cy="1538" r="17.5"/><circle cx="2124.5" cy="1539.6" r="17.5"/><circle cx="2126.4" cy="1536.9" r="17.5"/><circle cx="2128.3" cy="1539.1" r="17.5"/><circle cx="2130.2" cy="1545.8" r="17.5"/><circle cx="2132.1" cy="1537.1" r="17.5"/><circle cx="2134" cy="1540.6" r="17.5"/><circle cx="2135.9" cy="1536.2" r="17.5"/><circle cx="2137.8" cy="1538.6" r="17.5"/><circle cx="2139.7" cy="1534.3" r="17.5"/><circle cx="2141.6" cy="1539.7" r="17.5"/><circle cx="2143.5" cy="1545.2" r="17.5"/><circle cx="2145.4" cy="1539.6" r="17.5"/><circle cx="2147.3" cy="1536.8" r="17.5"/><circle cx="2149.2" cy="1539.5" r="17.5"/><circle cx="2151.1" cy="1539.8" r="17.5"/><circle cx="2153" cy="1533.6" r="17.5"/><circle cx="2154.9" cy="1538.6" r="17.5"/><circle cx="2156.8" cy="1534.8" r="17.5"/><circle cx="2158.7" cy="1537.5" r="17.5"/><circle cx="2160.6" cy="1542.5" r="17.5"/><circle cx="2162.4" cy="1540.8" r="17.5"/><circle cx="2164.3" cy="1538.7" r="17.5"/><circle cx="2166.2" cy="1536.7" r="17.5"/><circle cx="2168.1" cy="1540.1" r="17.5"/><circle cx="2170" cy="1541.9" r="17.5"/><circle cx="2171.9" cy="1540.4" r="17.5"/><circle cx="2173.8" cy="1538.7" r="17.5"/><circle cx="2175.7" cy="1539.6" r="17.5"/><circle cx="2177.6" cy="1538.1" r="17.5"/><circle cx="2179.5" cy="1529.8" r="17.5"/><circle cx="2181.4" cy="1534" r="17.5"/><circle cx="2183.3" cy="1536.7" r="17.5"/><circle cx="2185.2" cy="1533.1" r="17.5"/><circle cx="2187.1" cy="1527.1" r="17.5"/><circle cx="2189" cy="1528.5" r="17.5"/><circle cx="2190.9" cy="1528.9" r="17.5"/><circle cx="2192.8" cy="1530.9" r="17.5"/><circle cx="2194.7" cy="1530.6" r="17.5"/><circle cx="2196.6" cy="1525.4" r="17.5"/><circle cx="2198.5" cy="1521.3" r="17.5"/><circle cx="2200.4" cy="1528.2" r="17.5"/><circle cx="2202.3" cy="1527" r="17.5"/></g></g><path d="M415.7 1446.5V1538.5H330" stroke="#ff0000" stroke-width="5" stroke-linecap="round" stroke-linejoin="round" fill="none"/><path d="M303.5 1538.5L335.5 1529L333.5 1538.5L335.5 1548Z" fill="#ff0000" stroke="#ff0000" stroke-width="2" stroke-linejoin="round"/><path d="M2116.5 1165.2V1255.5H2190" stroke="#0000ff" stroke-width="5" stroke-linecap="round" stroke-linejoin="round" fill="none"/><path d="M2218 1255.5L2186 1246.3L2188 1255.5L2186 1264.7Z" fill="#0000ff" stroke="#0000ff" stroke-width="2" stroke-linejoin="round"/><text x="1100.3" y="1303.5" font-size="72.5">LPC/δ-MnO<tspan font-size="46.4" dy="0.7">2</tspan><tspan dy="-0.7"></tspan></text><text x="945.1" y="1720.9" font-size="73">5 A g<tspan font-size="45.3" dy="-34.3" dx="-1.2">-</tspan><tspan font-size="45.3" dx="-2.5">1</tspan><tspan dy="34.3"></tspan></text><g fill="url(#gK)"><circle cx="1471.4" cy="1674.5" r="17.5"/></g><g fill="url(#gR)"><circle cx="1471.4" cy="1762.9" r="17.5"/></g><text x="1527.5" y="1687.5" font-size="73">Charge</text><text x="1528.4" y="1775.9" font-size="73">Discharge</text><path d="M2230.7 1040H287.5V1831H2230.7" stroke="#000" stroke-width="5.8" fill="none"/><path d="M2230.7 1037.1V1833.9" stroke="#0000ff" stroke-width="5.8" fill="none"/><path d="M287.5 1732H271.9M287.5 1534.2H271.9M287.5 1336.4H271.9M287.5 1138.6H271.9" stroke="#000" stroke-width="5.8" stroke-linecap="round" fill="none"/><path d="M287.5 1830.9H279.4M287.5 1633.1H279.4M287.5 1435.3H279.4M287.5 1237.5H279.4M287.5 1039.7H279.4" stroke="#000" stroke-width="5.8" stroke-linecap="round" fill="none"/><path d="M297 1831V1846.1M676.1 1831V1846.1M1055.3 1831V1846.1M1434.5 1831V1846.1M1813.6 1831V1846.1M2192.8 1831V1846.1" stroke="#000" stroke-width="5.8" stroke-linecap="round" fill="none"/><path d="M486.6 1831V1839.1M865.7 1831V1839.1M1244.9 1831V1839.1M1624 1831V1839.1M2003.2 1831V1839.1" stroke="#000" stroke-width="5.8" stroke-linecap="round" fill="none"/><path d="M2230.7 1831H2246.3M2230.7 1687H2246.3M2230.7 1543.1H2246.3M2230.7 1399.1H2246.3M2230.7 1255.2H2246.3M2230.7 1111.2H2246.3" stroke="#0000ff" stroke-width="5.8" stroke-linecap="round" fill="none"/><path d="M2230.7 1759H2238.8M2230.7 1615.1H2238.8M2230.7 1471.1H2238.8M2230.7 1327.1H2238.8M2230.7 1183.2H2238.8M2230.7 1039.2H2238.8" stroke="#0000ff" stroke-width="5.8" stroke-linecap="round" fill="none"/><text x="261.9" y="1754.2" font-size="74.5" text-anchor="end">0</text><text x="261.9" y="1556.4" font-size="74.5" text-anchor="end">100</text><text x="261.9" y="1358.6" font-size="74.5" text-anchor="end">200</text><text x="261.9" y="1160.8" font-size="74.5" text-anchor="end">300</text><text x="298.5" y="1912.8" font-size="74.5" text-anchor="middle">0</text><text x="677.6" y="1912.8" font-size="74.5" text-anchor="middle">200</text><text x="1056.8" y="1912.8" font-size="74.5" text-anchor="middle">400</text><text x="1436" y="1912.8" font-size="74.5" text-anchor="middle">600</text><text x="1815.1" y="1912.8" font-size="74.5" text-anchor="middle">800</text><text x="2194.3" y="1912.8" font-size="74.5" text-anchor="middle">1000</text><text x="2256" y="1853.4" font-size="74.5" fill="#0000ff">0</text><text x="2256" y="1709.4" font-size="74.5" fill="#0000ff">20</text><text x="2256" y="1565.5" font-size="74.5" fill="#0000ff">40</text><text x="2256" y="1421.5" font-size="74.5" fill="#0000ff">60</text><text x="2256" y="1277.6" font-size="74.5" fill="#0000ff">80</text><text x="2256" y="1133.6" font-size="74.5" fill="#0000ff">100</text><text x="1074.6" y="1989.6" font-size="72.8">Cycle number</text><text transform="translate(120,1445.2) rotate(-90)" font-size="71.4" text-anchor="middle">Specific capacity (mAh g<tspan font-size="44.3" dy="-33.6">-1</tspan><tspan dy="33.6">)</tspan></text><text transform="translate(2427.4,1436.8) rotate(-90)" font-size="73.4" text-anchor="middle" fill="#0000ff">Coulombic efficiency (%)</text><text x="22.5" y="1012.6" font-size="44" font-family="'Liberation Sans', Arial, sans-serif" font-weight="bold">C</text></svg></body></html>
